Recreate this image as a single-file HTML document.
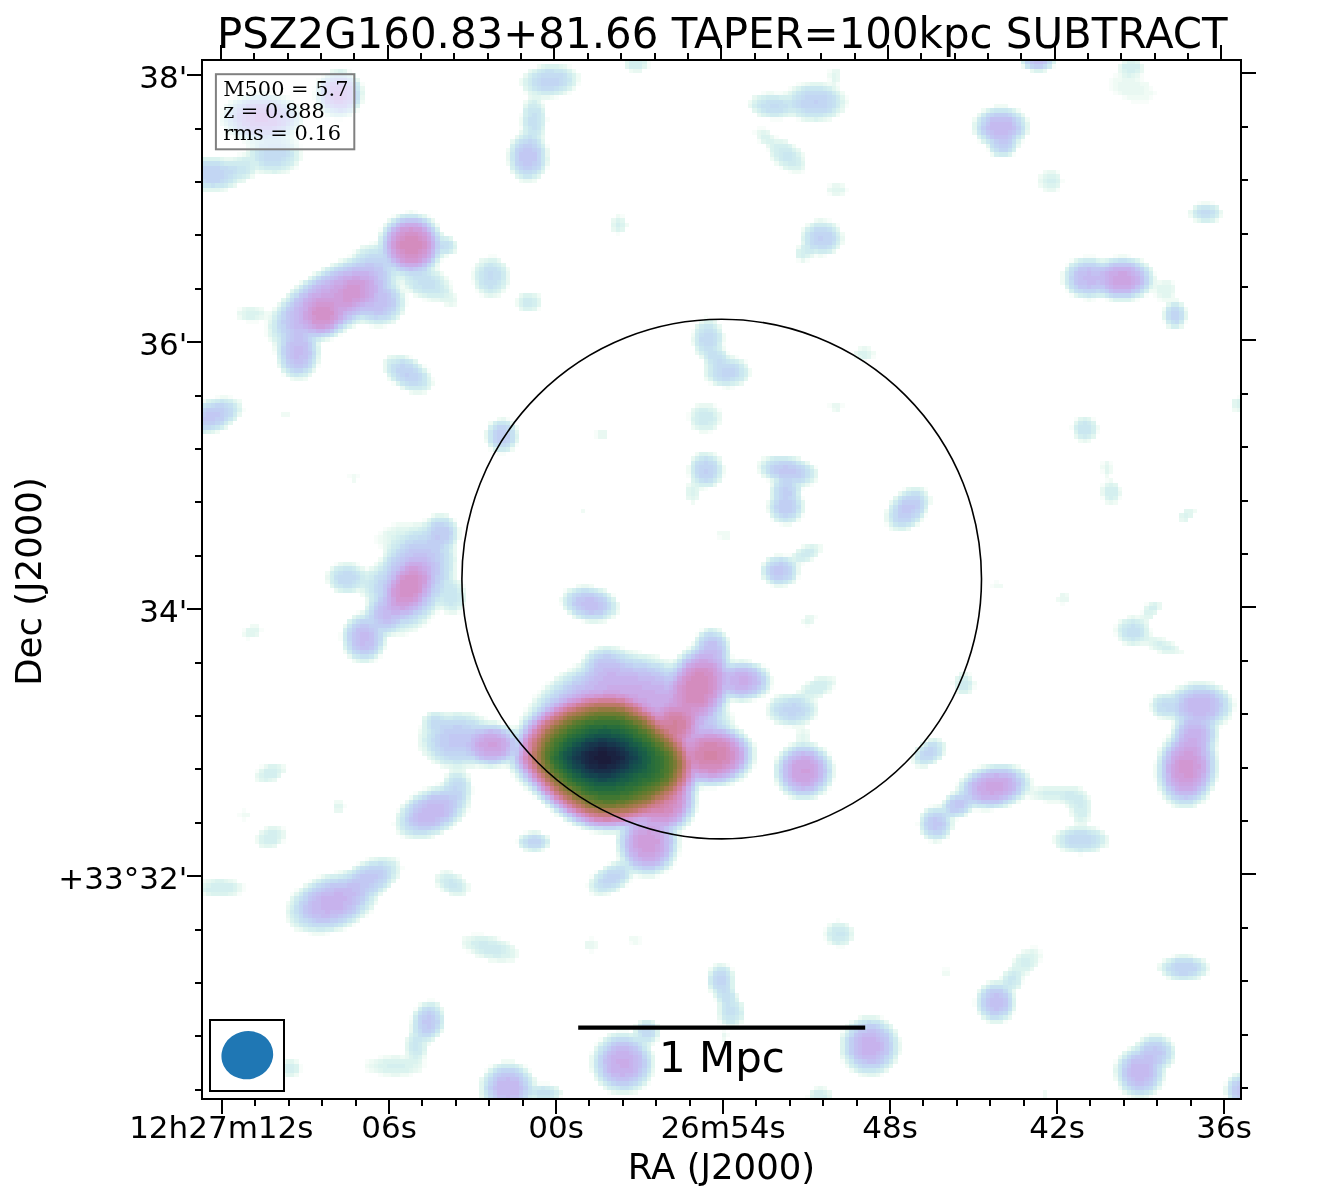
<!DOCTYPE html>
<html lang="en"><head><meta charset="utf-8"><title>PSZ2G160.83+81.66 TAPER=100kpc SUBTRACT</title>
<style>html,body{margin:0;padding:0;background:#fff}body{width:1321px;height:1200px;overflow:hidden}svg{display:block}text{fill:#000}
.t{font-family:'DejaVu Sans','Liberation Sans',sans-serif;font-size:41.92px}.k{font-family:'DejaVu Sans','Liberation Sans',sans-serif;font-size:31.0px}.a{font-family:'DejaVu Sans','Liberation Sans',sans-serif;font-size:35.5px}.b{font-family:'DejaVu Serif','Liberation Serif',serif;font-size:20.9px}</style></head><body>
<svg width="1321" height="1200" viewBox="0 0 1321 1200">
<rect width="1321" height="1200" fill="#fff"/>
<g transform="translate(202 60) scale(4.402542)" shape-rendering="crispEdges">
<path fill="#f8fdfa" d="M101 0h1v1h-1zM83 1h1v1h-1zM101 1h1v1h-1zM193 1h1v1h-1zM33 2h1v1h-1zM142 2h1v1h-1zM207 3h1v1h-1zM213 3h1v1h-1zM142 4h1v1h-1zM206 4h1v1h-1zM213 4h1v1h-1zM36 5h1v1h-1zM85 5h1v1h-1zM135 5h1v1h-1zM144 5h1v1h-1zM206 5h1v1h-1zM25 6h1v1h-1zM133 6h1v1h-1zM206 6h1v1h-1zM215 6h1v1h-1zM10 7h1v1h-1zM16 7h1v1h-1zM73 7h1v1h-1zM83 7h1v1h-1zM127 7h1v1h-1zM130 7h2v1h-2zM207 7h1v1h-1zM216 7h1v1h-1zM7 8h1v1h-1zM80 8h1v1h-1zM146 8h1v1h-1zM209 8h1v1h-1zM215 8h1v1h-1zM77 9h1v1h-1zM211 9h4v1h-4zM146 10h1v1h-1zM35 11h1v1h-1zM72 12h1v1h-1zM30 13h2v1h-2zM78 13h1v1h-1zM129 13h3v1h-3zM135 13h1v1h-1zM72 15h1v1h-1zM126 15h2v1h-2zM5 16h1v1h-1zM125 16h1v1h-1zM21 17h1v1h-1zM130 17h1v1h-1zM126 18h1v1h-1zM176 18h1v1h-1zM186 18h1v1h-1zM22 19h1v1h-1zM78 19h1v1h-1zM128 20h1v1h-1zM178 20h1v1h-1zM8 21h1v1h-1zM184 21h1v1h-1zM21 24h1v1h-1zM78 24h1v1h-1zM131 24h1v1h-1zM133 25h1v1h-1zM136 25h1v1h-1zM194 25h1v1h-1zM195 27h1v1h-1zM142 28h1v1h-1zM146 29h1v1h-1zM194 29h1v1h-1zM142 30h1v1h-1zM226 32h1v1h-1zM229 32h1v1h-1zM46 34h1v1h-1zM48 34h1v1h-1zM43 35h1v1h-1zM51 35h1v1h-1zM95 35h1v1h-1zM142 36h1v1h-1zM144 37h1v1h-1zM40 38h1v1h-1zM94 39h1v1h-1zM38 41h1v1h-1zM34 43h1v1h-1zM33 44h1v1h-1zM65 44h2v1h-2zM139 44h1v1h-1zM141 44h1v1h-1zM200 44h3v1h-3zM207 44h1v1h-1zM210 44h1v1h-1zM54 45h1v1h-1zM135 45h1v1h-1zM137 45h1v1h-1zM197 45h1v1h-1zM196 46h1v1h-1zM61 47h1v1h-1zM216 48h1v1h-1zM56 50h1v1h-1zM61 50h1v1h-1zM220 50h1v1h-1zM69 51h1v1h-1zM62 52h1v1h-1zM196 52h1v1h-1zM46 53h1v1h-1zM63 53h1v1h-1zM197 53h1v1h-1zM214 53h1v1h-1zM216 53h1v1h-1zM46 54h1v1h-1zM50 54h1v1h-1zM200 54h1v1h-1zM202 54h1v1h-1zM205 54h1v1h-1zM212 54h1v1h-1zM217 54h1v1h-1zM46 55h1v1h-1zM8 56h1v1h-1zM76 56h1v1h-1zM114 58h1v1h-1zM10 59h3v1h-3zM14 59h1v1h-1zM218 59h1v1h-1zM223 59h1v1h-1zM14 60h1v1h-1zM38 60h1v1h-1zM41 60h1v1h-1zM14 61h1v1h-1zM111 61h1v1h-1zM14 62h1v1h-1zM31 62h1v1h-1zM29 63h1v1h-1zM118 64h1v1h-1zM16 66h1v1h-1zM119 66h1v1h-1zM47 67h1v1h-1zM121 67h1v1h-1zM152 67h1v1h-1zM123 68h1v1h-1zM150 68h1v1h-1zM26 69h1v1h-1zM50 69h1v1h-1zM51 70h1v1h-1zM18 71h1v1h-1zM52 72h1v1h-1zM43 73h1v1h-1zM115 73h1v1h-1zM118 74h1v1h-1zM120 74h1v1h-1zM3 76h1v1h-1zM6 76h1v1h-1zM235 76h1v1h-1zM116 78h1v1h-1zM142 78h1v1h-1zM145 78h1v1h-1zM9 79h1v1h-1zM117 79h1v1h-1zM110 80h1v1h-1zM69 81h1v1h-1zM110 81h1v1h-1zM198 81h1v1h-1zM202 81h1v1h-1zM197 83h1v1h-1zM89 84h1v1h-1zM115 84h1v1h-1zM203 84h1v1h-1zM89 85h1v1h-1zM71 87h1v1h-1zM65 88h1v1h-1zM67 89h2v1h-2zM204 91h1v1h-1zM206 91h1v1h-1zM139 92h1v1h-1zM204 93h1v1h-1zM33 94h1v1h-1zM35 94h1v1h-1zM110 94h1v1h-1zM118 94h1v1h-1zM128 95h1v1h-1zM205 95h1v1h-1zM138 96h1v1h-1zM204 96h1v1h-1zM114 97h1v1h-1zM136 97h1v1h-1zM159 97h1v1h-1zM164 97h1v1h-1zM136 99h1v1h-1zM204 99h1v1h-1zM208 99h1v1h-1zM136 103h1v1h-1zM164 103h1v1h-1zM50 104h1v1h-1zM57 104h1v1h-1zM129 104h1v1h-1zM43 105h1v1h-1zM131 105h1v1h-1zM155 105h1v1h-1zM41 106h1v1h-1zM40 107h1v1h-1zM39 108h1v1h-1zM117 108h1v1h-1zM39 109h1v1h-1zM40 110h1v1h-1zM132 112h2v1h-2zM30 114h1v1h-1zM35 114h1v1h-1zM136 114h1v1h-1zM37 115h1v1h-1zM135 117h1v1h-1zM180 118h1v1h-1zM59 119h1v1h-1zM129 119h1v1h-1zM179 119h1v1h-1zM82 120h1v1h-1zM93 121h1v1h-1zM81 123h1v1h-1zM195 123h1v1h-1zM214 123h1v1h-1zM35 125h1v1h-1zM53 125h1v1h-1zM58 125h1v1h-1zM213 125h1v1h-1zM52 126h1v1h-1zM139 126h1v1h-1zM51 127h1v1h-1zM86 127h1v1h-1zM50 128h1v1h-1zM137 128h1v1h-1zM207 128h1v1h-1zM9 129h1v1h-1zM13 129h1v1h-1zM113 129h1v1h-1zM215 129h1v1h-1zM31 130h1v1h-1zM46 130h1v1h-1zM112 130h1v1h-1zM207 130h1v1h-1zM10 131h1v1h-1zM31 131h1v1h-1zM95 133h1v1h-1zM87 134h1v1h-1zM99 134h1v1h-1zM40 135h1v1h-1zM86 135h1v1h-1zM120 135h1v1h-1zM39 136h1v1h-1zM84 137h1v1h-1zM127 137h1v1h-1zM174 139h1v1h-1zM78 141h1v1h-1zM170 141h1v1h-1zM223 141h1v1h-1zM77 142h1v1h-1zM129 142h1v1h-1zM143 142h1v1h-1zM175 142h1v1h-1zM76 143h1v1h-1zM219 143h1v1h-1zM75 144h1v1h-1zM125 145h1v1h-1zM215 145h1v1h-1zM234 145h1v1h-1zM73 147h1v1h-1zM234 147h1v1h-1zM62 148h1v1h-1zM120 148h1v1h-1zM64 149h1v1h-1zM128 149h1v1h-1zM139 149h1v1h-1zM49 151h1v1h-1zM132 151h2v1h-2zM231 151h1v1h-1zM164 154h1v1h-1zM218 154h1v1h-1zM142 157h1v1h-1zM161 157h1v1h-1zM143 159h1v1h-1zM216 159h1v1h-1zM13 160h1v1h-1zM125 160h1v1h-1zM176 160h1v1h-1zM12 161h1v1h-1zM174 161h1v1h-1zM187 161h1v1h-1zM70 162h1v1h-1zM143 163h1v1h-1zM216 163h1v1h-1zM53 164h1v1h-1zM171 164h1v1h-1zM50 165h1v1h-1zM61 165h1v1h-1zM114 165h3v1h-3zM142 165h1v1h-1zM48 166h1v1h-1zM61 166h1v1h-1zM74 166h1v1h-1zM217 166h1v1h-1zM75 167h1v1h-1zM187 167h1v1h-1zM191 168h1v1h-1zM32 169h1v1h-1zM165 169h1v1h-1zM9 170h1v1h-1zM44 170h1v1h-1zM60 170h1v1h-1zM175 170h2v1h-2zM179 170h1v1h-1zM8 171h1v1h-1zM9 172h1v1h-1zM171 172h1v1h-1zM43 173h1v1h-1zM83 173h1v1h-1zM162 173h1v1h-1zM18 174h1v1h-1zM85 174h1v1h-1zM203 174h1v1h-1zM73 175h1v1h-1zM88 175h1v1h-1zM45 176h1v1h-1zM18 177h1v1h-1zM71 177h1v1h-1zM165 177h1v1h-1zM108 180h1v1h-1zM199 180h1v1h-1zM37 181h1v1h-1zM44 181h1v1h-1zM35 182h1v1h-1zM92 182h1v1h-1zM107 182h1v1h-1zM45 183h1v1h-1zM30 184h1v1h-1zM89 184h1v1h-1zM105 184h1v1h-1zM26 185h1v1h-1zM88 185h1v1h-1zM98 185h1v1h-1zM103 185h1v1h-1zM24 186h1v1h-1zM97 186h1v1h-1zM9 187h1v1h-1zM87 187h1v1h-1zM96 187h1v1h-1zM9 188h1v1h-1zM21 188h1v1h-1zM8 189h1v1h-1zM20 189h1v1h-1zM88 189h1v1h-1zM38 193h1v1h-1zM37 194h1v1h-1zM144 195h1v1h-1zM34 196h1v1h-1zM32 197h1v1h-1zM141 197h1v1h-1zM24 198h1v1h-1zM28 198h1v1h-1zM61 198h3v1h-3zM67 199h1v1h-1zM88 199h1v1h-1zM99 199h1v1h-1zM141 199h1v1h-1zM97 200h1v1h-1zM99 200h1v1h-1zM144 201h2v1h-2zM188 201h2v1h-2zM60 202h1v1h-1zM88 202h1v1h-1zM190 202h1v1h-1zM220 203h1v1h-1zM225 203h1v1h-1zM190 204h1v1h-1zM119 205h1v1h-1zM120 206h1v1h-1zM168 206h2v1h-2zM228 207h1v1h-1zM186 209h1v1h-1zM51 213h2v1h-2zM116 213h1v1h-1zM175 213h1v1h-1zM175 214h1v1h-1zM48 215h1v1h-1zM184 216h1v1h-1zM47 217h1v1h-1zM154 217h1v1h-1zM117 218h1v1h-1zM182 218h1v1h-1zM118 219h1v1h-1zM94 220h3v1h-3zM118 220h1v1h-1zM145 220h1v1h-1zM119 221h1v1h-1zM214 221h1v1h-1zM218 221h1v1h-1zM90 222h1v1h-1zM89 223h1v1h-1zM88 225h1v1h-1zM40 226h1v1h-1zM37 227h1v1h-1zM50 227h1v1h-1zM145 227h1v1h-1zM207 227h1v1h-1zM17 228h1v1h-1zM22 228h1v1h-1zM50 228h1v1h-1zM65 228h1v1h-1zM73 228h1v1h-1zM17 229h1v1h-1zM22 229h1v1h-1zM37 229h1v1h-1zM64 229h1v1h-1zM74 229h1v1h-1zM40 230h1v1h-1zM47 230h1v1h-1zM154 230h1v1h-1zM76 232h3v1h-3zM101 232h1v1h-1zM218 232h1v1h-1zM232 232h1v1h-1zM100 233h1v1h-1zM92 234h1v1h-1zM81 235h1v1h-1zM137 235h1v1h-1zM210 235h1v1h-1zM215 235h1v1h-1zM232 235h1v1h-1z"/>
<path fill="#f0fbf5" d="M76 1h1v1h-1zM186 1h1v1h-1zM84 2h1v1h-1zM97 2h1v1h-1zM27 3h1v1h-1zM85 3h1v1h-1zM142 3h1v1h-1zM208 3h1v1h-1zM26 4h1v1h-1zM72 4h1v1h-1zM85 4h1v1h-1zM207 4h2v1h-2zM212 4h1v1h-1zM72 5h1v1h-1zM136 5h1v1h-1zM142 5h1v1h-1zM207 5h1v1h-1zM213 5h2v1h-2zM84 6h1v1h-1zM144 6h1v1h-1zM207 6h1v1h-1zM214 6h1v1h-1zM11 7h1v1h-1zM15 7h1v1h-1zM25 7h1v1h-1zM128 7h2v1h-2zM132 7h1v1h-1zM145 7h1v1h-1zM208 7h1v1h-1zM214 7h2v1h-2zM19 8h1v1h-1zM25 8h1v1h-1zM79 8h1v1h-1zM210 8h5v1h-5zM36 9h1v1h-1zM73 9h1v1h-1zM124 9h1v1h-1zM146 9h1v1h-1zM180 10h3v1h-3zM4 11h1v1h-1zM177 11h1v1h-1zM185 11h1v1h-1zM144 12h1v1h-1zM72 13h1v1h-1zM142 13h1v1h-1zM175 13h1v1h-1zM187 13h1v1h-1zM72 14h1v1h-1zM22 15h1v1h-1zM21 16h1v1h-1zM9 18h1v1h-1zM134 19h1v1h-1zM22 20h1v1h-1zM69 20h1v1h-1zM9 21h1v1h-1zM22 21h1v1h-1zM136 21h1v1h-1zM179 21h1v1h-1zM22 22h1v1h-1zM129 22h1v1h-1zM69 23h1v1h-1zM130 23h1v1h-1zM12 25h1v1h-1zM19 25h1v1h-1zM134 25h2v1h-2zM191 25h1v1h-1zM11 26h1v1h-1zM190 26h1v1h-1zM72 27h1v1h-1zM75 27h1v1h-1zM145 28h1v1h-1zM190 28h1v1h-1zM5 29h1v1h-1zM191 29h1v1h-1zM145 30h1v1h-1zM227 32h2v1h-2zM47 34h1v1h-1zM94 35h1v1h-1zM224 35h1v1h-1zM231 35h1v1h-1zM139 36h1v1h-1zM141 36h1v1h-1zM225 36h1v1h-1zM230 36h1v1h-1zM53 37h1v1h-1zM96 37h1v1h-1zM137 37h1v1h-1zM136 38h1v1h-1zM145 39h1v1h-1zM39 41h1v1h-1zM145 41h1v1h-1zM135 42h1v1h-1zM55 44h1v1h-1zM140 44h1v1h-1zM208 44h2v1h-2zM31 45h1v1h-1zM213 45h1v1h-1zM53 47h1v1h-1zM69 47h1v1h-1zM25 48h1v1h-1zM54 48h1v1h-1zM61 48h1v1h-1zM195 48h1v1h-1zM55 49h1v1h-1zM61 49h1v1h-1zM195 49h1v1h-1zM22 50h1v1h-1zM195 50h1v1h-1zM217 50h1v1h-1zM45 51h1v1h-1zM56 51h1v1h-1zM46 52h1v1h-1zM68 52h1v1h-1zM215 52h2v1h-2zM48 53h1v1h-1zM57 53h1v1h-1zM67 53h1v1h-1zM76 53h1v1h-1zM220 53h1v1h-1zM51 54h1v1h-1zM71 54h1v1h-1zM201 54h1v1h-1zM218 54h4v1h-4zM55 55h1v1h-1zM57 55h1v1h-1zM71 55h1v1h-1zM13 56h1v1h-1zM16 56h1v1h-1zM218 56h1v1h-1zM223 56h1v1h-1zM14 57h2v1h-2zM8 58h1v1h-1zM14 58h1v1h-1zM34 60h1v1h-1zM39 60h2v1h-2zM111 62h1v1h-1zM118 62h1v1h-1zM15 63h1v1h-1zM118 63h1v1h-1zM111 64h1v1h-1zM16 65h1v1h-1zM118 65h1v1h-1zM149 65h1v1h-1zM151 65h1v1h-1zM152 66h1v1h-1zM148 67h1v1h-1zM124 70h1v1h-1zM124 71h1v1h-1zM20 72h1v1h-1zM23 72h1v1h-1zM42 72h1v1h-1zM114 72h1v1h-1zM52 73h1v1h-1zM119 74h1v1h-1zM47 75h1v1h-1zM50 75h1v1h-1zM4 76h2v1h-2zM0 77h1v1h-1zM8 77h1v1h-1zM112 78h1v1h-1zM143 79h1v1h-1zM234 79h1v1h-1zM18 80h2v1h-2zM67 81h1v1h-1zM65 82h1v1h-1zM117 82h1v1h-1zM71 83h1v1h-1zM111 83h1v1h-1zM203 83h1v1h-1zM3 84h1v1h-1zM113 84h2v1h-2zM64 86h1v1h-1zM199 86h1v1h-1zM201 86h1v1h-1zM70 88h1v1h-1zM112 89h1v1h-1zM116 89h1v1h-1zM127 90h1v1h-1zM126 91h1v1h-1zM110 92h1v1h-1zM118 92h1v1h-1zM204 92h1v1h-1zM206 92h1v1h-1zM110 93h1v1h-1zM118 93h1v1h-1zM126 93h1v1h-1zM206 93h1v1h-1zM34 94h1v1h-1zM205 94h1v1h-1zM34 95h1v1h-1zM139 95h1v1h-1zM206 95h1v1h-1zM110 96h1v1h-1zM113 97h1v1h-1zM208 97h1v1h-1zM165 99h1v1h-1zM111 100h1v1h-1zM128 100h1v1h-1zM165 100h1v1h-1zM205 100h1v1h-1zM207 100h1v1h-1zM86 102h1v1h-1zM128 102h1v1h-1zM155 102h1v1h-1zM225 102h1v1h-1zM52 103h1v1h-1zM135 104h1v1h-1zM163 104h1v1h-1zM44 105h4v1h-4zM132 105h2v1h-2zM162 105h1v1h-1zM42 106h1v1h-1zM58 106h1v1h-1zM156 106h1v1h-1zM58 107h1v1h-1zM117 107h3v1h-3zM40 108h1v1h-1zM58 108h1v1h-1zM118 108h2v1h-2zM40 109h1v1h-1zM136 110h1v1h-1zM140 110h1v1h-1zM140 111h1v1h-1zM130 112h2v1h-2zM40 113h1v1h-1zM138 113h1v1h-1zM39 114h1v1h-1zM28 116h1v1h-1zM28 118h1v1h-1zM85 119h1v1h-1zM88 119h1v1h-1zM132 119h1v1h-1zM180 119h2v1h-2zM36 121h1v1h-1zM196 121h1v1h-1zM81 122h1v1h-1zM194 122h1v1h-1zM59 123h1v1h-1zM55 125h1v1h-1zM94 125h1v1h-1zM93 126h1v1h-1zM210 126h1v1h-1zM212 126h1v1h-1zM91 127h1v1h-1zM136 127h1v1h-1zM208 127h1v1h-1zM11 128h2v1h-2zM48 129h1v1h-1zM207 129h1v1h-1zM9 130h1v1h-1zM44 130h2v1h-2zM215 130h1v1h-1zM218 131h1v1h-1zM111 132h1v1h-1zM209 132h1v1h-1zM220 132h1v1h-1zM41 133h1v1h-1zM89 133h1v1h-1zM110 133h1v1h-1zM215 133h1v1h-1zM32 134h1v1h-1zM98 134h1v1h-1zM217 134h1v1h-1zM222 134h1v1h-1zM103 135h1v1h-1zM34 136h1v1h-1zM106 136h1v1h-1zM124 136h1v1h-1zM83 138h1v1h-1zM128 138h1v1h-1zM81 139h1v1h-1zM129 140h1v1h-1zM143 140h1v1h-1zM129 141h1v1h-1zM137 141h1v1h-1zM175 141h1v1h-1zM229 141h1v1h-1zM221 142h1v1h-1zM135 143h1v1h-1zM142 143h1v1h-1zM171 143h1v1h-1zM127 144h1v1h-1zM130 144h1v1h-1zM216 144h1v1h-1zM139 145h1v1h-1zM74 146h1v1h-1zM128 146h1v1h-1zM234 146h1v1h-1zM215 147h1v1h-1zM72 149h1v1h-1zM120 149h1v1h-1zM217 149h1v1h-1zM233 149h1v1h-1zM67 150h1v1h-1zM220 150h1v1h-1zM232 150h1v1h-1zM70 151h1v1h-1zM121 151h1v1h-1zM134 151h3v1h-3zM49 152h1v1h-1zM135 152h1v1h-1zM137 152h1v1h-1zM219 153h1v1h-1zM125 155h1v1h-1zM133 155h1v1h-1zM49 156h1v1h-1zM141 156h1v1h-1zM217 156h1v1h-1zM230 156h1v1h-1zM130 158h1v1h-1zM52 159h1v1h-1zM161 159h1v1h-1zM18 160h1v1h-1zM54 160h1v1h-1zM62 160h1v1h-1zM68 160h1v1h-1zM162 160h1v1h-1zM185 160h1v1h-1zM216 160h1v1h-1zM216 161h1v1h-1zM55 162h1v1h-1zM60 162h1v1h-1zM216 162h1v1h-1zM12 163h1v1h-1zM71 163h1v1h-1zM122 163h1v1h-1zM188 163h1v1h-1zM230 163h1v1h-1zM72 164h1v1h-1zM120 164h1v1h-1zM130 164h1v1h-1zM188 164h1v1h-1zM73 165h1v1h-1zM113 165h1v1h-1zM189 165h1v1h-1zM199 165h1v1h-1zM141 166h1v1h-1zM47 167h1v1h-1zM133 167h1v1h-1zM188 167h1v1h-1zM201 167h1v1h-1zM228 167h1v1h-1zM30 168h2v1h-2zM185 168h1v1h-1zM192 168h3v1h-3zM227 168h1v1h-1zM166 169h1v1h-1zM183 169h1v1h-1zM196 169h1v1h-1zM220 169h1v1h-1zM112 170h1v1h-1zM177 170h2v1h-2zM9 171h2v1h-2zM80 171h1v1h-1zM197 171h1v1h-1zM111 172h1v1h-1zM201 172h1v1h-1zM198 173h1v1h-1zM14 174h1v1h-1zM56 174h1v1h-1zM196 174h1v1h-1zM44 175h1v1h-1zM89 175h1v1h-1zM194 175h1v1h-1zM12 176h1v1h-1zM52 176h1v1h-1zM169 176h1v1h-1zM193 176h1v1h-1zM12 177h1v1h-1zM167 177h1v1h-1zM193 177h1v1h-1zM205 178h1v1h-1zM77 179h1v1h-1zM108 179h1v1h-1zM195 179h1v1h-1zM94 181h1v1h-1zM106 183h1v1h-1zM31 184h1v1h-1zM54 184h1v1h-1zM56 184h1v1h-1zM99 185h1v1h-1zM0 186h1v1h-1zM7 186h1v1h-1zM53 187h1v1h-1zM60 187h1v1h-1zM54 188h1v1h-1zM60 188h1v1h-1zM0 189h1v1h-1zM92 189h1v1h-1zM19 191h1v1h-1zM39 191h1v1h-1zM19 195h1v1h-1zM142 196h1v1h-1zM21 197h1v1h-1zM25 198h3v1h-3zM141 198h1v1h-1zM59 199h1v1h-1zM97 199h2v1h-2zM69 200h1v1h-1zM89 200h1v1h-1zM98 200h1v1h-1zM142 200h1v1h-1zM59 201h1v1h-1zM89 201h1v1h-1zM71 202h1v1h-1zM186 202h1v1h-1zM62 203h1v1h-1zM71 203h1v1h-1zM190 203h1v1h-1zM65 204h2v1h-2zM69 204h2v1h-2zM184 204h1v1h-1zM218 204h1v1h-1zM116 205h1v1h-1zM217 205h1v1h-1zM228 205h1v1h-1zM115 206h1v1h-1zM168 207h2v1h-2zM187 207h1v1h-1zM181 208h1v1h-1zM186 208h1v1h-1zM219 208h1v1h-1zM178 209h1v1h-1zM115 211h1v1h-1zM49 214h1v1h-1zM149 217h1v1h-1zM47 218h1v1h-1zM122 218h1v1h-1zM147 218h1v1h-1zM178 218h1v1h-1zM98 219h1v1h-1zM121 219h1v1h-1zM146 219h1v1h-1zM103 222h1v1h-1zM118 222h1v1h-1zM158 222h1v1h-1zM51 223h1v1h-1zM102 223h1v1h-1zM220 223h1v1h-1zM210 224h1v1h-1zM102 225h1v1h-1zM158 225h1v1h-1zM41 226h2v1h-2zM45 226h1v1h-1zM50 226h1v1h-1zM18 227h1v1h-1zM21 227h1v1h-1zM38 227h1v1h-1zM68 227h3v1h-3zM37 228h1v1h-1zM146 228h1v1h-1zM38 229h1v1h-1zM49 229h1v1h-1zM88 229h1v1h-1zM147 229h1v1h-1zM18 230h1v1h-1zM21 230h1v1h-1zM41 230h2v1h-2zM45 230h2v1h-2zM102 230h1v1h-1zM149 230h1v1h-1zM207 231h1v1h-1zM139 233h1v1h-1zM141 233h1v1h-1zM208 233h1v1h-1zM98 234h1v1h-1zM191 234h1v1h-1zM191 235h1v1h-1z"/>
<path fill="#e9f8f2" d="M209 0h1v1h-1zM82 1h1v1h-1zM208 1h1v1h-1zM213 1h1v1h-1zM29 2h1v1h-1zM74 2h1v1h-1zM98 2h2v1h-2zM143 2h2v1h-2zM188 2h1v1h-1zM191 2h1v1h-1zM208 2h1v1h-1zM213 2h1v1h-1zM73 3h1v1h-1zM144 3h1v1h-1zM212 3h1v1h-1zM35 4h1v1h-1zM144 4h1v1h-1zM209 4h3v1h-3zM137 5h1v1h-1zM141 5h1v1h-1zM143 5h1v1h-1zM208 5h5v1h-5zM36 6h1v1h-1zM134 6h1v1h-1zM208 6h6v1h-6zM12 7h3v1h-3zM82 7h1v1h-1zM209 7h5v1h-5zM8 8h1v1h-1zM36 8h1v1h-1zM74 8h1v1h-1zM77 8h2v1h-2zM125 8h1v1h-1zM6 9h1v1h-1zM5 10h1v1h-1zM77 10h1v1h-1zM124 10h1v1h-1zM22 11h1v1h-1zM145 11h1v1h-1zM4 12h1v1h-1zM28 12h1v1h-1zM126 12h1v1h-1zM176 12h1v1h-1zM186 12h1v1h-1zM136 13h1v1h-1zM141 13h1v1h-1zM4 14h1v1h-1zM72 16h1v1h-1zM126 16h1v1h-1zM128 16h1v1h-1zM175 16h1v1h-1zM187 16h1v1h-1zM7 17h1v1h-1zM71 17h1v1h-1zM77 17h1v1h-1zM126 17h1v1h-1zM129 17h1v1h-1zM21 18h1v1h-1zM70 18h1v1h-1zM132 18h1v1h-1zM10 19h1v1h-1zM128 19h1v1h-1zM185 19h1v1h-1zM10 20h1v1h-1zM78 20h1v1h-1zM135 20h1v1h-1zM69 21h1v1h-1zM78 21h1v1h-1zM5 22h2v1h-2zM69 22h1v1h-1zM136 22h1v1h-1zM21 23h1v1h-1zM78 23h1v1h-1zM20 24h1v1h-1zM136 24h1v1h-1zM13 25h1v1h-1zM18 25h1v1h-1zM70 25h1v1h-1zM192 25h2v1h-2zM9 27h1v1h-1zM73 27h2v1h-2zM190 27h1v1h-1zM7 28h1v1h-1zM143 28h2v1h-2zM4 29h1v1h-1zM142 29h1v1h-1zM192 29h2v1h-2zM143 30h2v1h-2zM224 34h1v1h-1zM231 34h1v1h-1zM42 36h1v1h-1zM52 36h1v1h-1zM93 36h1v1h-1zM140 36h1v1h-1zM41 37h1v1h-1zM93 38h1v1h-1zM145 40h1v1h-1zM36 42h1v1h-1zM57 43h1v1h-1zM143 43h1v1h-1zM138 44h1v1h-1zM63 45h1v1h-1zM67 45h1v1h-1zM136 45h1v1h-1zM29 46h1v1h-1zM53 46h1v1h-1zM62 46h1v1h-1zM27 47h1v1h-1zM69 48h1v1h-1zM69 49h1v1h-1zM216 49h1v1h-1zM45 50h1v1h-1zM69 50h1v1h-1zM216 50h1v1h-1zM218 50h2v1h-2zM21 51h1v1h-1zM216 51h1v1h-1zM220 51h1v1h-1zM45 52h1v1h-1zM47 52h1v1h-1zM56 52h1v1h-1zM220 52h1v1h-1zM64 53h1v1h-1zM66 53h1v1h-1zM72 53h1v1h-1zM217 53h1v1h-1zM52 54h2v1h-2zM57 54h1v1h-1zM206 54h1v1h-1zM211 54h1v1h-1zM17 55h1v1h-1zM56 55h1v1h-1zM9 56h1v1h-1zM12 56h1v1h-1zM72 56h1v1h-1zM8 57h1v1h-1zM45 57h1v1h-1zM13 58h1v1h-1zM15 58h1v1h-1zM43 59h1v1h-1zM113 59h1v1h-1zM116 59h1v1h-1zM117 60h1v1h-1zM219 60h1v1h-1zM222 60h1v1h-1zM32 61h1v1h-1zM28 63h1v1h-1zM111 63h1v1h-1zM16 64h1v1h-1zM150 65h1v1h-1zM112 66h1v1h-1zM148 66h1v1h-1zM42 67h1v1h-1zM46 67h1v1h-1zM113 67h1v1h-1zM120 67h1v1h-1zM26 68h1v1h-1zM41 68h1v1h-1zM17 69h1v1h-1zM41 69h1v1h-1zM25 70h1v1h-1zM41 70h1v1h-1zM24 71h1v1h-1zM21 72h2v1h-2zM122 73h1v1h-1zM45 74h1v1h-1zM48 75h2v1h-2zM113 78h3v1h-3zM143 78h2v1h-2zM111 79h1v1h-1zM144 79h1v1h-1zM235 79h1v1h-1zM8 80h1v1h-1zM117 80h1v1h-1zM68 81h1v1h-1zM117 81h1v1h-1zM70 82h1v1h-1zM5 83h1v1h-1zM116 83h1v1h-1zM64 84h1v1h-1zM90 84h2v1h-2zM64 85h1v1h-1zM90 85h2v1h-2zM198 85h1v1h-1zM200 86h1v1h-1zM111 90h1v1h-1zM117 90h1v1h-1zM135 90h1v1h-1zM137 91h1v1h-1zM205 91h1v1h-1zM126 92h1v1h-1zM127 94h1v1h-1zM116 96h1v1h-1zM129 96h1v1h-1zM137 96h1v1h-1zM204 97h1v1h-1zM158 98h1v1h-1zM204 98h1v1h-1zM208 98h1v1h-1zM110 99h1v1h-1zM112 99h1v1h-1zM156 100h1v1h-1zM206 100h1v1h-1zM128 101h1v1h-1zM55 103h1v1h-1zM155 103h1v1h-1zM155 104h1v1h-1zM222 104h1v1h-1zM48 105h2v1h-2zM43 106h1v1h-1zM160 106h1v1h-1zM41 107h1v1h-1zM41 108h1v1h-1zM41 109h1v1h-1zM41 110h1v1h-1zM57 110h1v1h-1zM41 111h1v1h-1zM57 111h1v1h-1zM57 112h1v1h-1zM31 114h1v1h-1zM34 114h1v1h-1zM57 114h1v1h-1zM127 114h1v1h-1zM135 114h1v1h-1zM29 115h1v1h-1zM36 115h1v1h-1zM38 115h1v1h-1zM57 115h1v1h-1zM135 115h1v1h-1zM57 116h1v1h-1zM135 116h1v1h-1zM28 117h1v1h-1zM57 117h1v1h-1zM58 118h1v1h-1zM134 118h1v1h-1zM86 119h2v1h-2zM130 119h2v1h-2zM30 120h1v1h-1zM35 120h1v1h-1zM59 120h1v1h-1zM91 120h1v1h-1zM195 121h1v1h-1zM37 122h1v1h-1zM195 122h2v1h-2zM37 123h1v1h-1zM94 123h1v1h-1zM217 123h1v1h-1zM54 124h1v1h-1zM94 124h1v1h-1zM217 124h1v1h-1zM36 125h1v1h-1zM56 125h2v1h-2zM84 126h1v1h-1zM137 126h2v1h-2zM211 126h1v1h-1zM213 126h1v1h-1zM87 127h1v1h-1zM90 127h1v1h-1zM138 127h1v1h-1zM214 127h1v1h-1zM32 128h1v1h-1zM49 128h1v1h-1zM47 129h1v1h-1zM117 129h1v1h-1zM12 130h1v1h-1zM43 130h1v1h-1zM119 131h1v1h-1zM208 131h1v1h-1zM217 131h1v1h-1zM213 132h2v1h-2zM94 133h1v1h-1zM221 133h1v1h-1zM97 134h1v1h-1zM221 134h1v1h-1zM33 135h1v1h-1zM102 135h1v1h-1zM38 136h1v1h-1zM105 136h1v1h-1zM121 136h1v1h-1zM123 136h1v1h-1zM85 137h1v1h-1zM172 139h2v1h-2zM80 140h1v1h-1zM139 140h1v1h-1zM142 140h1v1h-1zM79 141h1v1h-1zM143 141h1v1h-1zM224 141h1v1h-1zM228 141h1v1h-1zM136 142h1v1h-1zM231 142h1v1h-1zM128 143h1v1h-1zM174 143h1v1h-1zM220 143h1v1h-1zM76 144h1v1h-1zM140 144h1v1h-1zM233 144h1v1h-1zM75 145h1v1h-1zM120 145h1v1h-1zM124 145h1v1h-1zM129 145h1v1h-1zM139 146h1v1h-1zM215 146h1v1h-1zM119 147h1v1h-1zM128 147h1v1h-1zM61 148h1v1h-1zM73 148h1v1h-1zM128 148h1v1h-1zM139 148h1v1h-1zM63 149h1v1h-1zM218 149h1v1h-1zM120 150h1v1h-1zM130 150h1v1h-1zM137 150h1v1h-1zM71 151h1v1h-1zM220 151h1v1h-1zM136 152h1v1h-1zM49 153h1v1h-1zM135 153h1v1h-1zM137 153h1v1h-1zM49 154h1v1h-1zM135 154h1v1h-1zM137 154h1v1h-1zM167 154h1v1h-1zM49 155h1v1h-1zM139 155h1v1h-1zM230 155h1v1h-1zM50 157h1v1h-1zM168 157h1v1h-1zM230 157h1v1h-1zM51 158h1v1h-1zM161 158h1v1h-1zM125 159h1v1h-1zM14 160h1v1h-1zM55 160h1v1h-1zM60 160h2v1h-2zM63 160h1v1h-1zM67 160h1v1h-1zM69 160h1v1h-1zM143 160h1v1h-1zM163 160h2v1h-2zM177 160h1v1h-1zM18 161h1v1h-1zM56 161h1v1h-1zM59 161h1v1h-1zM124 161h1v1h-1zM143 161h1v1h-1zM12 162h1v1h-1zM123 162h1v1h-1zM143 162h1v1h-1zM173 162h1v1h-1zM16 163h1v1h-1zM172 163h1v1h-1zM54 164h1v1h-1zM51 165h1v1h-1zM171 165h1v1h-1zM188 165h1v1h-1zM190 165h1v1h-1zM229 165h1v1h-1zM170 166h1v1h-1zM188 166h1v1h-1zM200 166h1v1h-1zM139 167h1v1h-1zM189 167h1v1h-1zM218 167h1v1h-1zM46 168h1v1h-1zM195 168h1v1h-1zM219 168h1v1h-1zM45 169h1v1h-1zM60 169h1v1h-1zM112 169h1v1h-1zM167 169h1v1h-1zM225 169h1v1h-1zM30 170h2v1h-2zM79 170h1v1h-1zM197 170h1v1h-1zM59 171h1v1h-1zM173 171h1v1h-1zM201 171h1v1h-1zM57 173h1v1h-1zM199 173h2v1h-2zM17 174h1v1h-1zM109 174h1v1h-1zM170 174h1v1h-1zM202 174h1v1h-1zM13 175h1v1h-1zM18 175h1v1h-1zM54 175h1v1h-1zM74 175h1v1h-1zM76 175h1v1h-1zM90 175h1v1h-1zM108 175h1v1h-1zM204 175h1v1h-1zM18 176h1v1h-1zM46 176h1v1h-1zM78 176h1v1h-1zM108 176h1v1h-1zM205 176h1v1h-1zM108 177h1v1h-1zM166 177h1v1h-1zM205 177h1v1h-1zM13 178h1v1h-1zM16 178h1v1h-1zM108 178h1v1h-1zM73 179h1v1h-1zM203 179h1v1h-1zM94 180h1v1h-1zM38 181h1v1h-1zM43 181h1v1h-1zM44 182h1v1h-1zM55 184h1v1h-1zM27 185h1v1h-1zM44 185h1v1h-1zM53 185h1v1h-1zM58 185h1v1h-1zM100 185h3v1h-3zM1 186h1v1h-1zM6 186h1v1h-1zM59 186h1v1h-1zM8 187h1v1h-1zM23 187h1v1h-1zM8 188h1v1h-1zM94 188h1v1h-1zM7 189h1v1h-1zM40 189h1v1h-1zM56 189h1v1h-1zM59 189h1v1h-1zM89 189h1v1h-1zM91 189h1v1h-1zM19 192h1v1h-1zM19 194h1v1h-1zM35 195h1v1h-1zM20 196h1v1h-1zM146 196h1v1h-1zM22 197h1v1h-1zM31 197h1v1h-1zM147 197h1v1h-1zM60 199h1v1h-1zM66 199h1v1h-1zM147 199h1v1h-1zM59 200h1v1h-1zM87 200h2v1h-2zM70 201h1v1h-1zM87 201h2v1h-2zM61 202h1v1h-1zM187 202h1v1h-1zM189 202h1v1h-1zM63 203h1v1h-1zM185 203h1v1h-1zM221 203h1v1h-1zM224 203h1v1h-1zM67 204h2v1h-2zM227 204h1v1h-1zM118 205h1v1h-1zM189 205h1v1h-1zM183 206h1v1h-1zM188 206h1v1h-1zM217 206h1v1h-1zM228 206h1v1h-1zM226 208h1v1h-1zM176 211h1v1h-1zM184 211h1v1h-1zM121 212h1v1h-1zM54 215h1v1h-1zM176 216h1v1h-1zM117 217h1v1h-1zM153 217h1v1h-1zM183 217h1v1h-1zM99 218h1v1h-1zM155 218h1v1h-1zM47 219h1v1h-1zM103 219h1v1h-1zM119 219h2v1h-2zM47 220h1v1h-1zM54 220h1v1h-1zM157 220h1v1h-1zM92 221h1v1h-1zM118 221h1v1h-1zM145 221h1v1h-1zM215 221h3v1h-3zM46 222h1v1h-1zM213 222h1v1h-1zM219 222h1v1h-1zM158 223h1v1h-1zM158 224h1v1h-1zM46 225h1v1h-1zM43 226h2v1h-2zM46 226h1v1h-1zM88 226h1v1h-1zM145 226h1v1h-1zM208 226h1v1h-1zM39 227h1v1h-1zM88 227h1v1h-1zM157 227h1v1h-1zM220 227h1v1h-1zM38 228h1v1h-1zM49 228h1v1h-1zM88 228h1v1h-1zM207 228h1v1h-1zM39 229h1v1h-1zM48 229h1v1h-1zM102 229h1v1h-1zM155 229h1v1h-1zM43 230h2v1h-2zM150 230h1v1h-1zM153 230h1v1h-1zM207 230h1v1h-1zM234 230h1v1h-1zM63 231h1v1h-1zM75 231h1v1h-1zM89 231h1v1h-1zM218 231h1v1h-1zM91 233h1v1h-1zM140 233h1v1h-1zM217 233h1v1h-1zM232 233h1v1h-1zM81 234h1v1h-1zM93 234h1v1h-1zM97 234h1v1h-1zM142 234h1v1h-1zM209 234h1v1h-1zM216 234h1v1h-1zM232 234h1v1h-1zM63 235h1v1h-1zM211 235h1v1h-1zM214 235h1v1h-1z"/>
<path fill="#e2f6f0" d="M96 0h1v1h-1zM212 0h1v1h-1zM77 1h1v1h-1zM81 1h1v1h-1zM96 1h1v1h-1zM100 1h1v1h-1zM30 2h1v1h-1zM32 2h1v1h-1zM34 3h1v1h-1zM143 3h1v1h-1zM209 3h1v1h-1zM211 3h1v1h-1zM143 4h1v1h-1zM138 5h3v1h-3zM73 6h1v1h-1zM143 6h1v1h-1zM36 7h1v1h-1zM74 7h1v1h-1zM133 7h1v1h-1zM18 8h1v1h-1zM75 8h2v1h-2zM145 8h1v1h-1zM20 9h1v1h-1zM76 9h1v1h-1zM21 10h1v1h-1zM26 10h1v1h-1zM73 10h1v1h-1zM145 10h1v1h-1zM125 11h1v1h-1zM22 12h1v1h-1zM33 12h1v1h-1zM133 12h2v1h-2zM4 13h1v1h-1zM137 13h2v1h-2zM140 13h1v1h-1zM22 14h1v1h-1zM175 14h1v1h-1zM187 14h1v1h-1zM5 15h1v1h-1zM175 15h1v1h-1zM187 15h1v1h-1zM6 16h1v1h-1zM77 16h1v1h-1zM127 16h1v1h-1zM20 17h1v1h-1zM10 18h1v1h-1zM77 18h1v1h-1zM127 18h1v1h-1zM130 18h2v1h-2zM21 19h1v1h-1zM178 19h1v1h-1zM10 21h1v1h-1zM129 21h1v1h-1zM4 22h1v1h-1zM7 22h1v1h-1zM78 22h1v1h-1zM136 23h1v1h-1zM132 24h1v1h-1zM14 25h2v1h-2zM17 25h1v1h-1zM77 25h1v1h-1zM71 26h1v1h-1zM76 26h1v1h-1zM191 26h1v1h-1zM194 26h1v1h-1zM8 27h1v1h-1zM191 28h1v1h-1zM194 28h1v1h-1zM0 29h4v1h-4zM143 29h3v1h-3zM225 33h1v1h-1zM44 35h1v1h-1zM50 35h1v1h-1zM95 36h1v1h-1zM226 36h1v1h-1zM93 37h1v1h-1zM143 37h1v1h-1zM95 38h1v1h-1zM144 38h1v1h-1zM40 39h1v1h-1zM54 39h1v1h-1zM136 39h1v1h-1zM56 40h1v1h-1zM57 41h1v1h-1zM136 41h1v1h-1zM37 42h1v1h-1zM144 42h1v1h-1zM35 43h1v1h-1zM34 44h1v1h-1zM32 45h1v1h-1zM64 45h1v1h-1zM198 45h1v1h-1zM204 45h1v1h-1zM68 46h1v1h-1zM214 46h1v1h-1zM215 47h1v1h-1zM24 49h1v1h-1zM44 50h1v1h-1zM55 50h1v1h-1zM46 51h1v1h-1zM62 51h1v1h-1zM217 51h3v1h-3zM20 52h1v1h-1zM63 52h1v1h-1zM217 52h3v1h-3zM19 53h1v1h-1zM49 53h1v1h-1zM56 53h1v1h-1zM65 53h1v1h-1zM75 53h1v1h-1zM198 53h1v1h-1zM218 53h2v1h-2zM18 54h1v1h-1zM54 54h3v1h-3zM76 54h1v1h-1zM76 55h1v1h-1zM219 55h1v1h-1zM222 55h1v1h-1zM10 56h2v1h-2zM75 56h1v1h-1zM9 57h1v1h-1zM13 57h1v1h-1zM218 57h1v1h-1zM223 57h1v1h-1zM9 58h1v1h-1zM12 58h1v1h-1zM44 58h1v1h-1zM218 58h1v1h-1zM223 58h1v1h-1zM15 59h1v1h-1zM36 59h1v1h-1zM112 60h1v1h-1zM15 61h1v1h-1zM15 62h1v1h-1zM26 64h1v1h-1zM151 66h1v1h-1zM26 67h1v1h-1zM43 67h1v1h-1zM149 67h1v1h-1zM151 67h1v1h-1zM48 68h1v1h-1zM122 68h1v1h-1zM114 69h1v1h-1zM123 69h1v1h-1zM114 70h1v1h-1zM51 71h1v1h-1zM114 71h1v1h-1zM123 72h1v1h-1zM116 73h1v1h-1zM51 74h1v1h-1zM7 77h1v1h-1zM234 77h1v1h-1zM8 78h1v1h-1zM234 78h1v1h-1zM116 79h1v1h-1zM111 80h1v1h-1zM199 81h1v1h-1zM201 81h1v1h-1zM6 82h1v1h-1zM111 82h1v1h-1zM198 82h1v1h-1zM112 83h1v1h-1zM2 84h1v1h-1zM71 84h1v1h-1zM202 85h1v1h-1zM71 86h1v1h-1zM115 89h1v1h-1zM128 90h1v1h-1zM205 92h1v1h-1zM139 93h1v1h-1zM205 93h1v1h-1zM139 94h1v1h-1zM117 95h1v1h-1zM129 95h1v1h-1zM111 96h1v1h-1zM205 96h1v1h-1zM207 96h1v1h-1zM110 97h1v1h-1zM112 97h1v1h-1zM160 97h1v1h-1zM163 97h1v1h-1zM110 98h1v1h-1zM112 98h1v1h-1zM164 98h1v1h-1zM111 99h1v1h-1zM157 99h1v1h-1zM136 100h1v1h-1zM136 101h1v1h-1zM136 102h1v1h-1zM164 102h1v1h-1zM223 102h2v1h-2zM53 103h2v1h-2zM222 103h1v1h-1zM224 103h1v1h-1zM51 104h1v1h-1zM223 104h1v1h-1zM44 106h3v1h-3zM157 106h1v1h-1zM42 107h2v1h-2zM42 108h1v1h-1zM42 109h1v1h-1zM137 110h1v1h-1zM139 110h1v1h-1zM135 111h1v1h-1zM41 112h1v1h-1zM134 112h1v1h-1zM139 112h1v1h-1zM57 113h1v1h-1zM128 113h1v1h-1zM32 114h2v1h-2zM127 117h1v1h-1zM128 118h1v1h-1zM29 119h1v1h-1zM36 120h1v1h-1zM83 120h1v1h-1zM59 121h1v1h-1zM82 121h1v1h-1zM59 122h1v1h-1zM215 123h1v1h-1zM53 124h1v1h-1zM58 124h1v1h-1zM82 124h1v1h-1zM214 124h1v1h-1zM52 125h1v1h-1zM83 125h1v1h-1zM216 125h1v1h-1zM34 126h1v1h-1zM51 126h1v1h-1zM214 126h2v1h-2zM50 127h1v1h-1zM88 127h2v1h-2zM137 127h1v1h-1zM214 128h1v1h-1zM10 129h3v1h-3zM46 129h1v1h-1zM114 129h1v1h-1zM10 130h2v1h-2zM118 130h1v1h-1zM215 131h2v1h-2zM41 132h1v1h-1zM210 132h1v1h-1zM212 132h1v1h-1zM215 132h1v1h-1zM219 132h1v1h-1zM90 133h1v1h-1zM93 133h1v1h-1zM216 133h1v1h-1zM96 134h1v1h-1zM109 134h1v1h-1zM218 134h3v1h-3zM101 135h1v1h-1zM108 135h1v1h-1zM35 136h1v1h-1zM86 136h1v1h-1zM104 136h1v1h-1zM107 136h1v1h-1zM120 136h1v1h-1zM122 136h1v1h-1zM84 138h1v1h-1zM82 139h1v1h-1zM140 140h2v1h-2zM171 140h1v1h-1zM174 140h1v1h-1zM225 141h3v1h-3zM78 142h1v1h-1zM142 142h1v1h-1zM222 142h1v1h-1zM77 143h1v1h-1zM136 143h1v1h-1zM141 143h1v1h-1zM232 143h1v1h-1zM131 144h1v1h-1zM139 144h1v1h-1zM121 145h1v1h-1zM123 145h1v1h-1zM138 145h1v1h-1zM119 146h1v1h-1zM74 147h1v1h-1zM139 147h1v1h-1zM51 148h1v1h-1zM55 148h2v1h-2zM59 148h2v1h-2zM119 148h1v1h-1zM216 148h1v1h-1zM233 148h1v1h-1zM50 149h1v1h-1zM129 149h1v1h-1zM138 149h1v1h-1zM219 149h1v1h-1zM65 150h2v1h-2zM72 150h1v1h-1zM122 152h1v1h-1zM123 153h1v1h-1zM136 153h1v1h-1zM124 154h1v1h-1zM136 154h1v1h-1zM165 154h1v1h-1zM230 154h1v1h-1zM134 155h1v1h-1zM163 155h1v1h-1zM168 155h1v1h-1zM218 155h1v1h-1zM50 156h1v1h-1zM125 156h1v1h-1zM132 156h1v1h-1zM162 156h1v1h-1zM168 156h1v1h-1zM125 157h1v1h-1zM131 157h1v1h-1zM217 157h1v1h-1zM125 158h1v1h-1zM230 158h1v1h-1zM53 159h1v1h-1zM130 159h1v1h-1zM166 159h1v1h-1zM17 160h1v1h-1zM56 160h1v1h-1zM59 160h1v1h-1zM64 160h1v1h-1zM66 160h1v1h-1zM184 160h1v1h-1zM13 161h1v1h-1zM57 161h2v1h-2zM70 161h1v1h-1zM186 161h1v1h-1zM17 162h1v1h-1zM187 162h1v1h-1zM230 162h1v1h-1zM13 163h1v1h-1zM15 163h1v1h-1zM60 163h1v1h-1zM130 163h1v1h-1zM119 164h1v1h-1zM131 165h1v1h-1zM191 165h8v1h-8zM217 165h1v1h-1zM49 166h1v1h-1zM132 166h1v1h-1zM187 166h1v1h-1zM189 166h1v1h-1zM112 167h1v1h-1zM134 167h1v1h-1zM186 167h1v1h-1zM190 167h1v1h-1zM60 168h1v1h-1zM112 168h1v1h-1zM168 168h1v1h-1zM201 168h1v1h-1zM30 169h2v1h-2zM78 169h1v1h-1zM201 169h1v1h-1zM221 169h1v1h-1zM164 170h1v1h-1zM201 170h1v1h-1zM44 171h1v1h-1zM163 171h1v1h-1zM58 172h1v1h-1zM82 172h1v1h-1zM170 172h1v1h-1zM198 172h1v1h-1zM200 172h1v1h-1zM110 173h1v1h-1zM170 173h1v1h-1zM15 174h2v1h-2zM44 174h1v1h-1zM86 174h1v1h-1zM197 174h1v1h-1zM201 174h1v1h-1zM75 175h1v1h-1zM91 175h3v1h-3zM163 175h1v1h-1zM47 176h1v1h-1zM51 176h1v1h-1zM72 176h1v1h-1zM164 176h1v1h-1zM17 177h1v1h-1zM14 178h2v1h-2zM78 178h1v1h-1zM194 178h1v1h-1zM204 178h1v1h-1zM196 179h1v1h-1zM39 181h1v1h-1zM42 181h1v1h-1zM107 181h1v1h-1zM36 182h1v1h-1zM93 182h1v1h-1zM34 183h1v1h-1zM44 183h1v1h-1zM91 183h1v1h-1zM32 184h1v1h-1zM44 184h1v1h-1zM104 184h1v1h-1zM97 185h1v1h-1zM2 186h1v1h-1zM5 186h1v1h-1zM25 186h1v1h-1zM43 186h1v1h-1zM53 186h1v1h-1zM88 186h1v1h-1zM0 187h1v1h-1zM22 188h1v1h-1zM41 188h1v1h-1zM88 188h1v1h-1zM1 189h1v1h-1zM6 189h1v1h-1zM21 189h1v1h-1zM57 189h2v1h-2zM90 189h1v1h-1zM20 190h1v1h-1zM39 190h1v1h-1zM38 192h1v1h-1zM19 193h1v1h-1zM37 193h1v1h-1zM36 194h1v1h-1zM33 196h1v1h-1zM30 197h1v1h-1zM147 198h1v1h-1zM61 199h1v1h-1zM65 199h1v1h-1zM60 200h1v1h-1zM68 200h1v1h-1zM146 200h1v1h-1zM60 201h1v1h-1zM70 202h1v1h-1zM188 202h1v1h-1zM70 203h1v1h-1zM189 203h1v1h-1zM222 203h2v1h-2zM189 204h1v1h-1zM117 205h1v1h-1zM184 205h1v1h-1zM120 207h1v1h-1zM182 207h1v1h-1zM186 207h1v1h-1zM218 207h1v1h-1zM179 209h1v1h-1zM177 210h1v1h-1zM185 210h1v1h-1zM116 212h1v1h-1zM184 212h1v1h-1zM53 214h1v1h-1zM117 214h1v1h-1zM122 214h1v1h-1zM117 215h1v1h-1zM184 215h1v1h-1zM117 216h1v1h-1zM150 217h3v1h-3zM177 217h1v1h-1zM102 218h1v1h-1zM179 218h3v1h-3zM156 219h1v1h-1zM52 222h1v1h-1zM46 223h1v1h-1zM212 223h1v1h-1zM46 224h1v1h-1zM89 224h1v1h-1zM50 225h1v1h-1zM209 225h1v1h-1zM102 226h1v1h-1zM19 227h2v1h-2zM40 227h1v1h-1zM49 227h1v1h-1zM102 227h1v1h-1zM39 228h1v1h-1zM48 228h1v1h-1zM66 228h1v1h-1zM72 228h1v1h-1zM102 228h1v1h-1zM156 228h1v1h-1zM219 228h1v1h-1zM40 229h1v1h-1zM47 229h1v1h-1zM207 229h1v1h-1zM19 230h2v1h-2zM151 230h2v1h-2zM218 230h1v1h-1zM101 231h1v1h-1zM233 231h1v1h-1zM63 232h1v1h-1zM75 232h1v1h-1zM90 232h1v1h-1zM63 233h1v1h-1zM80 233h1v1h-1zM99 233h1v1h-1zM63 234h1v1h-1zM94 234h3v1h-3zM138 234h1v1h-1zM142 235h1v1h-1zM212 235h2v1h-2z"/>
<path fill="#dbf3ef" d="M100 0h1v1h-1zM193 0h1v1h-1zM210 0h2v1h-2zM78 1h3v1h-3zM31 2h1v1h-1zM75 2h1v1h-1zM83 2h1v1h-1zM189 2h2v1h-2zM209 2h1v1h-1zM212 2h1v1h-1zM84 3h1v1h-1zM210 3h1v1h-1zM73 4h1v1h-1zM84 4h1v1h-1zM26 5h1v1h-1zM73 5h1v1h-1zM84 5h1v1h-1zM83 6h1v1h-1zM135 6h1v1h-1zM75 7h1v1h-1zM81 7h1v1h-1zM144 7h1v1h-1zM9 8h1v1h-1zM126 8h1v1h-1zM74 9h1v1h-1zM125 9h1v1h-1zM145 9h1v1h-1zM35 10h1v1h-1zM27 11h1v1h-1zM77 11h1v1h-1zM144 11h1v1h-1zM178 11h1v1h-1zM184 11h1v1h-1zM127 12h1v1h-1zM132 12h1v1h-1zM143 12h1v1h-1zM22 13h1v1h-1zM139 13h1v1h-1zM21 15h1v1h-1zM77 15h1v1h-1zM20 16h1v1h-1zM8 17h1v1h-1zM127 17h2v1h-2zM176 17h1v1h-1zM186 17h1v1h-1zM20 18h1v1h-1zM128 18h2v1h-2zM177 18h1v1h-1zM185 18h1v1h-1zM11 19h1v1h-1zM129 19h1v1h-1zM133 19h1v1h-1zM21 20h1v1h-1zM129 20h1v1h-1zM134 20h1v1h-1zM21 21h1v1h-1zM135 21h1v1h-1zM183 21h1v1h-1zM0 22h4v1h-4zM8 22h1v1h-1zM21 22h1v1h-1zM130 22h1v1h-1zM131 23h1v1h-1zM12 24h1v1h-1zM19 24h1v1h-1zM133 24h3v1h-3zM11 25h1v1h-1zM16 25h1v1h-1zM10 26h1v1h-1zM192 26h2v1h-2zM191 27h1v1h-1zM194 27h1v1h-1zM6 28h1v1h-1zM192 28h2v1h-2zM230 33h1v1h-1zM94 36h1v1h-1zM229 36h1v1h-1zM95 37h1v1h-1zM138 37h1v1h-1zM94 38h1v1h-1zM136 40h1v1h-1zM38 42h1v1h-1zM57 42h1v1h-1zM135 43h1v1h-1zM54 44h1v1h-1zM135 44h1v1h-1zM137 44h1v1h-1zM65 45h2v1h-2zM203 45h1v1h-1zM205 45h1v1h-1zM212 45h1v1h-1zM30 46h1v1h-1zM63 46h1v1h-1zM52 47h1v1h-1zM62 47h1v1h-1zM196 47h1v1h-1zM26 48h1v1h-1zM53 48h1v1h-1zM44 49h2v1h-2zM54 49h1v1h-1zM62 50h1v1h-1zM44 51h1v1h-1zM55 51h1v1h-1zM68 51h1v1h-1zM196 51h1v1h-1zM215 51h1v1h-1zM67 52h1v1h-1zM45 53h1v1h-1zM50 53h1v1h-1zM55 53h1v1h-1zM73 53h2v1h-2zM213 53h1v1h-1zM72 54h1v1h-1zM207 54h4v1h-4zM72 55h1v1h-1zM45 56h1v1h-1zM73 56h2v1h-2zM10 57h3v1h-3zM16 57h1v1h-1zM10 58h2v1h-2zM35 59h1v1h-1zM37 59h1v1h-1zM42 59h1v1h-1zM114 59h2v1h-2zM15 60h1v1h-1zM33 60h1v1h-1zM117 61h1v1h-1zM30 62h1v1h-1zM16 63h1v1h-1zM27 63h1v1h-1zM26 65h1v1h-1zM112 65h1v1h-1zM26 66h1v1h-1zM149 66h2v1h-2zM44 67h2v1h-2zM119 67h1v1h-1zM150 67h1v1h-1zM17 68h1v1h-1zM114 68h1v1h-1zM49 69h1v1h-1zM18 70h1v1h-1zM50 70h1v1h-1zM19 71h1v1h-1zM42 71h1v1h-1zM51 72h1v1h-1zM115 72h1v1h-1zM44 73h1v1h-1zM51 73h1v1h-1zM121 73h1v1h-1zM1 77h1v1h-1zM235 77h1v1h-1zM235 78h1v1h-1zM8 79h1v1h-1zM112 79h1v1h-1zM115 79h1v1h-1zM116 80h1v1h-1zM7 81h1v1h-1zM111 81h1v1h-1zM200 81h1v1h-1zM116 82h1v1h-1zM202 82h1v1h-1zM113 83h3v1h-3zM1 84h1v1h-1zM198 84h1v1h-1zM71 85h1v1h-1zM65 87h1v1h-1zM66 88h1v1h-1zM113 89h2v1h-2zM134 90h1v1h-1zM117 91h1v1h-1zM127 91h1v1h-1zM138 92h1v1h-1zM111 95h1v1h-1zM138 95h1v1h-1zM112 96h1v1h-1zM136 96h1v1h-1zM206 96h1v1h-1zM111 97h1v1h-1zM129 97h1v1h-1zM161 97h2v1h-2zM111 98h1v1h-1zM129 98h1v1h-1zM129 99h1v1h-1zM205 99h1v1h-1zM207 99h1v1h-1zM129 103h1v1h-1zM223 103h1v1h-1zM56 104h1v1h-1zM130 104h1v1h-1zM50 105h1v1h-1zM57 105h1v1h-1zM156 105h1v1h-1zM47 106h2v1h-2zM158 106h2v1h-2zM44 107h2v1h-2zM43 108h1v1h-1zM57 109h1v1h-1zM42 110h1v1h-1zM138 110h1v1h-1zM139 111h1v1h-1zM134 113h1v1h-1zM137 113h1v1h-1zM40 114h1v1h-1zM35 115h1v1h-1zM39 115h1v1h-1zM37 116h1v1h-1zM57 118h1v1h-1zM58 119h1v1h-1zM31 120h1v1h-1zM34 120h1v1h-1zM90 120h1v1h-1zM37 121h1v1h-1zM92 121h1v1h-1zM93 122h1v1h-1zM216 123h1v1h-1zM37 124h1v1h-1zM55 124h1v1h-1zM214 125h2v1h-2zM92 126h1v1h-1zM33 127h1v1h-1zM209 127h1v1h-1zM213 127h1v1h-1zM48 128h1v1h-1zM208 128h1v1h-1zM45 129h1v1h-1zM116 129h1v1h-1zM214 129h1v1h-1zM42 130h1v1h-1zM208 130h1v1h-1zM214 130h1v1h-1zM41 131h1v1h-1zM112 131h1v1h-1zM214 131h1v1h-1zM119 132h1v1h-1zM211 132h1v1h-1zM216 132h1v1h-1zM218 132h1v1h-1zM32 133h1v1h-1zM91 133h2v1h-2zM217 133h1v1h-1zM220 133h1v1h-1zM40 134h1v1h-1zM88 134h1v1h-1zM39 135h1v1h-1zM87 135h1v1h-1zM99 135h2v1h-2zM36 136h2v1h-2zM103 136h1v1h-1zM126 137h1v1h-1zM128 139h1v1h-1zM81 140h1v1h-1zM138 141h1v1h-1zM142 141h1v1h-1zM171 141h1v1h-1zM137 142h1v1h-1zM171 142h1v1h-1zM174 142h1v1h-1zM230 142h1v1h-1zM172 143h2v1h-2zM126 144h1v1h-1zM132 144h2v1h-2zM137 144h2v1h-2zM217 144h1v1h-1zM122 145h1v1h-1zM233 145h1v1h-1zM75 146h1v1h-1zM54 148h1v1h-1zM57 148h2v1h-2zM62 149h1v1h-1zM119 149h1v1h-1zM220 149h1v1h-1zM232 149h1v1h-1zM50 150h1v1h-1zM64 150h1v1h-1zM131 150h1v1h-1zM136 150h1v1h-1zM231 150h1v1h-1zM50 151h1v1h-1zM69 151h1v1h-1zM120 151h1v1h-1zM230 151h1v1h-1zM50 152h1v1h-1zM220 152h1v1h-1zM230 152h1v1h-1zM50 153h1v1h-1zM230 153h1v1h-1zM166 154h1v1h-1zM219 154h1v1h-1zM50 155h1v1h-1zM138 155h1v1h-1zM140 156h1v1h-1zM51 157h1v1h-1zM52 158h1v1h-1zM142 158h1v1h-1zM167 158h1v1h-1zM230 159h1v1h-1zM15 160h2v1h-2zM57 160h2v1h-2zM65 160h1v1h-1zM178 160h1v1h-1zM230 160h1v1h-1zM17 161h1v1h-1zM175 161h1v1h-1zM230 161h1v1h-1zM13 162h1v1h-1zM59 162h1v1h-1zM71 162h1v1h-1zM14 163h1v1h-1zM55 163h1v1h-1zM121 163h1v1h-1zM142 164h1v1h-1zM52 165h1v1h-1zM112 166h1v1h-1zM140 166h1v1h-1zM190 166h1v1h-1zM199 166h1v1h-1zM228 166h1v1h-1zM60 167h1v1h-1zM138 167h1v1h-1zM169 167h1v1h-1zM191 167h4v1h-4zM200 167h1v1h-1zM77 168h1v1h-1zM196 168h1v1h-1zM226 168h1v1h-1zM182 169h1v1h-1zM197 169h1v1h-1zM222 169h3v1h-3zM59 170h1v1h-1zM174 170h1v1h-1zM198 171h1v1h-1zM44 172h1v1h-1zM199 172h1v1h-1zM44 173h1v1h-1zM84 173h1v1h-1zM198 174h3v1h-3zM14 175h1v1h-1zM17 175h1v1h-1zM45 175h1v1h-1zM94 175h1v1h-1zM195 175h1v1h-1zM13 176h1v1h-1zM17 176h1v1h-1zM48 176h3v1h-3zM94 176h1v1h-1zM194 176h1v1h-1zM13 177h1v1h-1zM194 177h1v1h-1zM72 178h1v1h-1zM94 178h1v1h-1zM74 179h1v1h-1zM76 179h1v1h-1zM94 179h1v1h-1zM197 179h1v1h-1zM202 179h1v1h-1zM40 181h2v1h-2zM28 185h1v1h-1zM54 185h1v1h-1zM57 185h1v1h-1zM3 186h2v1h-2zM96 186h1v1h-1zM1 187h1v1h-1zM7 187h1v1h-1zM42 187h1v1h-1zM54 187h1v1h-1zM59 187h1v1h-1zM88 187h1v1h-1zM95 187h1v1h-1zM0 188h1v1h-1zM7 188h1v1h-1zM55 188h1v1h-1zM59 188h1v1h-1zM2 189h4v1h-4zM20 191h1v1h-1zM20 195h1v1h-1zM21 196h1v1h-1zM143 196h3v1h-3zM23 197h1v1h-1zM142 197h1v1h-1zM62 199h3v1h-3zM142 199h1v1h-1zM67 200h1v1h-1zM143 200h1v1h-1zM145 200h1v1h-1zM61 201h1v1h-1zM69 201h1v1h-1zM62 202h1v1h-1zM69 202h1v1h-1zM64 203h2v1h-2zM68 203h2v1h-2zM186 203h3v1h-3zM185 204h1v1h-1zM188 204h1v1h-1zM219 204h1v1h-1zM185 205h1v1h-1zM188 205h1v1h-1zM184 206h4v1h-4zM115 207h1v1h-1zM227 207h1v1h-1zM120 208h1v1h-1zM220 208h1v1h-1zM225 208h1v1h-1zM120 209h1v1h-1zM180 209h2v1h-2zM115 210h1v1h-1zM120 210h1v1h-1zM121 213h1v1h-1zM184 213h1v1h-1zM50 214h1v1h-1zM184 214h1v1h-1zM122 215h1v1h-1zM48 216h1v1h-1zM54 216h1v1h-1zM122 217h1v1h-1zM118 218h1v1h-1zM121 218h1v1h-1zM148 218h1v1h-1zM98 220h1v1h-1zM103 220h1v1h-1zM146 220h1v1h-1zM47 221h1v1h-1zM53 221h1v1h-1zM93 221h1v1h-1zM97 221h1v1h-1zM103 221h1v1h-1zM157 221h1v1h-1zM91 222h1v1h-1zM145 222h1v1h-1zM50 223h1v1h-1zM90 223h1v1h-1zM101 223h1v1h-1zM145 223h1v1h-1zM50 224h1v1h-1zM101 224h1v1h-1zM145 224h1v1h-1zM211 224h1v1h-1zM220 224h1v1h-1zM145 225h1v1h-1zM47 226h1v1h-1zM49 226h1v1h-1zM157 226h1v1h-1zM220 226h1v1h-1zM41 227h8v1h-8zM146 227h1v1h-1zM18 228h1v1h-1zM21 228h1v1h-1zM40 228h2v1h-2zM46 228h2v1h-2zM18 229h1v1h-1zM21 229h1v1h-1zM41 229h6v1h-6zM65 229h1v1h-1zM73 229h1v1h-1zM148 229h1v1h-1zM218 229h1v1h-1zM64 230h1v1h-1zM74 230h1v1h-1zM89 230h1v1h-1zM235 230h1v1h-1zM100 232h1v1h-1zM208 232h1v1h-1zM141 234h1v1h-1zM80 235h1v1h-1zM138 235h1v1h-1z"/>
<path fill="#d4efef" d="M97 0h3v1h-3zM186 0h1v1h-1zM97 1h3v1h-3zM209 1h4v1h-4zM210 2h2v1h-2zM28 3h1v1h-1zM74 3h1v1h-1zM74 6h1v1h-1zM142 6h1v1h-1zM76 7h1v1h-1zM80 7h1v1h-1zM134 7h1v1h-1zM17 8h1v1h-1zM127 8h1v1h-1zM131 8h3v1h-3zM7 9h1v1h-1zM19 9h1v1h-1zM26 9h1v1h-1zM75 9h1v1h-1zM6 10h1v1h-1zM76 10h1v1h-1zM125 10h1v1h-1zM5 11h1v1h-1zM21 11h1v1h-1zM34 11h1v1h-1zM73 11h1v1h-1zM126 11h1v1h-1zM29 12h1v1h-1zM32 12h1v1h-1zM73 12h1v1h-1zM77 12h1v1h-1zM128 12h1v1h-1zM131 12h1v1h-1zM135 12h1v1h-1zM142 12h1v1h-1zM77 13h1v1h-1zM5 14h1v1h-1zM77 14h1v1h-1zM73 15h1v1h-1zM73 16h1v1h-1zM19 17h1v1h-1zM72 17h1v1h-1zM76 17h1v1h-1zM11 18h1v1h-1zM70 19h1v1h-1zM77 19h1v1h-1zM130 19h3v1h-3zM11 20h1v1h-1zM130 20h1v1h-1zM184 20h1v1h-1zM11 21h1v1h-1zM130 21h1v1h-1zM180 21h1v1h-1zM9 22h3v1h-3zM135 22h1v1h-1zM11 23h2v1h-2zM20 23h1v1h-1zM132 23h1v1h-1zM135 23h1v1h-1zM11 24h1v1h-1zM13 24h1v1h-1zM18 24h1v1h-1zM70 24h1v1h-1zM77 24h1v1h-1zM9 26h1v1h-1zM72 26h1v1h-1zM75 26h1v1h-1zM7 27h1v1h-1zM192 27h2v1h-2zM49 35h1v1h-1zM225 35h1v1h-1zM230 35h1v1h-1zM227 36h2v1h-2zM94 37h1v1h-1zM142 37h1v1h-1zM53 38h1v1h-1zM137 38h1v1h-1zM144 39h1v1h-1zM40 40h1v1h-1zM55 40h1v1h-1zM144 41h1v1h-1zM39 42h1v1h-1zM136 42h1v1h-1zM36 43h1v1h-1zM56 43h1v1h-1zM136 43h1v1h-1zM139 43h1v1h-1zM142 43h1v1h-1zM136 44h1v1h-1zM33 45h1v1h-1zM53 45h1v1h-1zM199 45h1v1h-1zM67 46h1v1h-1zM197 46h1v1h-1zM28 47h1v1h-1zM68 47h1v1h-1zM52 48h1v1h-1zM62 48h1v1h-1zM215 48h1v1h-1zM62 49h1v1h-1zM23 50h1v1h-1zM46 50h1v1h-1zM54 50h1v1h-1zM68 50h1v1h-1zM47 51h1v1h-1zM48 52h1v1h-1zM55 52h1v1h-1zM64 52h1v1h-1zM66 52h1v1h-1zM197 52h1v1h-1zM214 52h1v1h-1zM51 53h4v1h-4zM199 53h1v1h-1zM203 53h2v1h-2zM45 54h1v1h-1zM75 54h1v1h-1zM45 55h1v1h-1zM75 55h1v1h-1zM17 56h1v1h-1zM16 58h1v1h-1zM38 59h1v1h-1zM41 59h1v1h-1zM116 60h1v1h-1zM220 60h2v1h-2zM112 61h1v1h-1zM16 62h1v1h-1zM117 64h1v1h-1zM117 65h1v1h-1zM113 66h1v1h-1zM118 66h1v1h-1zM17 67h1v1h-1zM42 68h1v1h-1zM121 68h1v1h-1zM25 69h1v1h-1zM123 70h1v1h-1zM23 71h1v1h-1zM123 71h1v1h-1zM43 72h1v1h-1zM117 73h1v1h-1zM120 73h1v1h-1zM46 74h1v1h-1zM50 74h1v1h-1zM2 77h1v1h-1zM6 77h1v1h-1zM113 79h2v1h-2zM112 80h1v1h-1zM112 81h1v1h-1zM116 81h1v1h-1zM66 82h1v1h-1zM112 82h1v1h-1zM115 82h1v1h-1zM4 83h1v1h-1zM65 83h1v1h-1zM198 83h1v1h-1zM202 83h1v1h-1zM0 84h1v1h-1zM202 84h1v1h-1zM199 85h1v1h-1zM201 85h1v1h-1zM70 87h1v1h-1zM69 88h1v1h-1zM112 90h1v1h-1zM116 90h1v1h-1zM129 90h1v1h-1zM133 90h1v1h-1zM111 91h1v1h-1zM136 91h1v1h-1zM127 93h1v1h-1zM111 94h1v1h-1zM117 94h1v1h-1zM128 94h1v1h-1zM113 96h3v1h-3zM205 97h3v1h-3zM135 98h1v1h-1zM159 98h1v1h-1zM205 98h3v1h-3zM164 99h1v1h-1zM206 99h1v1h-1zM156 101h1v1h-1zM164 101h1v1h-1zM135 103h1v1h-1zM163 103h1v1h-1zM134 104h1v1h-1zM161 105h1v1h-1zM49 106h1v1h-1zM46 107h1v1h-1zM44 108h1v1h-1zM43 109h1v1h-1zM42 111h1v1h-1zM56 111h1v1h-1zM136 111h1v1h-1zM135 112h1v1h-1zM138 112h1v1h-1zM41 113h1v1h-1zM133 113h1v1h-1zM135 113h2v1h-2zM30 115h1v1h-1zM127 115h1v1h-1zM29 116h1v1h-1zM36 116h1v1h-1zM38 116h1v1h-1zM56 116h1v1h-1zM127 116h1v1h-1zM29 117h1v1h-1zM37 117h1v1h-1zM56 117h1v1h-1zM29 118h1v1h-1zM133 118h1v1h-1zM36 119h1v1h-1zM32 120h2v1h-2zM37 120h1v1h-1zM58 120h1v1h-1zM84 120h1v1h-1zM82 122h1v1h-1zM53 123h2v1h-2zM58 123h1v1h-1zM82 123h1v1h-1zM56 124h2v1h-2zM215 124h2v1h-2zM93 125h1v1h-1zM35 126h1v1h-1zM85 126h1v1h-1zM49 127h1v1h-1zM210 127h1v1h-1zM212 127h1v1h-1zM47 128h1v1h-1zM32 129h1v1h-1zM44 129h1v1h-1zM115 129h1v1h-1zM208 129h1v1h-1zM113 130h1v1h-1zM209 131h1v1h-1zM213 131h1v1h-1zM32 132h1v1h-1zM217 132h1v1h-1zM111 133h1v1h-1zM119 133h1v1h-1zM218 133h2v1h-2zM95 134h1v1h-1zM98 135h1v1h-1zM102 136h1v1h-1zM86 137h1v1h-1zM105 137h2v1h-2zM85 138h1v1h-1zM127 138h1v1h-1zM83 139h1v1h-1zM172 140h2v1h-2zM80 141h1v1h-1zM139 141h3v1h-3zM174 141h1v1h-1zM79 142h1v1h-1zM128 142h1v1h-1zM138 142h4v1h-4zM223 142h1v1h-1zM78 143h1v1h-1zM137 143h4v1h-4zM221 143h1v1h-1zM77 144h1v1h-1zM134 144h3v1h-3zM218 144h2v1h-2zM76 145h1v1h-1zM119 145h1v1h-1zM130 145h1v1h-1zM137 145h1v1h-1zM216 145h1v1h-1zM129 146h1v1h-1zM138 146h1v1h-1zM233 146h1v1h-1zM216 147h1v1h-1zM233 147h1v1h-1zM52 148h2v1h-2zM74 148h1v1h-1zM129 148h1v1h-1zM138 148h1v1h-1zM61 149h1v1h-1zM73 149h1v1h-1zM130 149h1v1h-1zM63 150h1v1h-1zM119 150h1v1h-1zM132 150h1v1h-1zM135 150h1v1h-1zM71 152h1v1h-1zM50 154h1v1h-1zM135 155h1v1h-1zM137 155h1v1h-1zM141 157h1v1h-1zM217 158h1v1h-1zM54 159h1v1h-1zM162 159h1v1h-1zM124 160h1v1h-1zM130 160h1v1h-1zM179 160h1v1h-1zM183 160h1v1h-1zM14 161h3v1h-3zM130 161h1v1h-1zM14 162h3v1h-3zM56 162h1v1h-1zM130 162h1v1h-1zM72 163h1v1h-1zM187 163h1v1h-1zM60 164h1v1h-1zM73 164h1v1h-1zM118 164h1v1h-1zM172 164h1v1h-1zM217 164h1v1h-1zM229 164h1v1h-1zM53 165h1v1h-1zM60 165h1v1h-1zM74 165h1v1h-1zM141 165h1v1h-1zM187 165h1v1h-1zM50 166h1v1h-1zM60 166h1v1h-1zM75 166h1v1h-1zM171 166h1v1h-1zM191 166h5v1h-5zM198 166h1v1h-1zM218 166h1v1h-1zM48 167h1v1h-1zM76 167h1v1h-1zM135 167h3v1h-3zM195 167h1v1h-1zM227 167h1v1h-1zM184 168h1v1h-1zM197 168h1v1h-1zM200 168h1v1h-1zM220 168h1v1h-1zM198 169h1v1h-1zM200 169h1v1h-1zM45 170h1v1h-1zM198 170h3v1h-3zM81 171h1v1h-1zM111 171h1v1h-1zM199 171h2v1h-2zM163 172h1v1h-1zM55 174h1v1h-1zM87 174h1v1h-1zM163 174h1v1h-1zM15 175h2v1h-2zM53 175h1v1h-1zM169 175h1v1h-1zM203 175h1v1h-1zM14 176h3v1h-3zM168 176h1v1h-1zM204 176h1v1h-1zM14 177h3v1h-3zM78 177h1v1h-1zM94 177h1v1h-1zM204 177h1v1h-1zM195 178h1v1h-1zM75 179h1v1h-1zM198 179h1v1h-1zM200 179h2v1h-2zM107 180h1v1h-1zM95 181h1v1h-1zM37 182h1v1h-1zM43 182h1v1h-1zM94 182h1v1h-1zM106 182h1v1h-1zM105 183h1v1h-1zM33 184h1v1h-1zM90 184h1v1h-1zM97 184h2v1h-2zM103 184h1v1h-1zM29 185h2v1h-2zM43 185h1v1h-1zM55 185h2v1h-2zM89 185h1v1h-1zM26 186h1v1h-1zM54 186h1v1h-1zM58 186h1v1h-1zM2 187h5v1h-5zM24 187h1v1h-1zM1 188h6v1h-6zM89 188h1v1h-1zM93 188h1v1h-1zM38 191h1v1h-1zM20 192h1v1h-1zM20 194h1v1h-1zM34 195h1v1h-1zM32 196h1v1h-1zM24 197h2v1h-2zM28 197h2v1h-2zM146 197h1v1h-1zM142 198h1v1h-1zM146 199h1v1h-1zM61 200h2v1h-2zM65 200h2v1h-2zM144 200h1v1h-1zM62 201h1v1h-1zM68 201h1v1h-1zM63 202h1v1h-1zM68 202h1v1h-1zM66 203h2v1h-2zM186 204h2v1h-2zM226 204h1v1h-1zM186 205h2v1h-2zM218 205h1v1h-1zM227 205h1v1h-1zM116 206h1v1h-1zM119 206h1v1h-1zM218 206h1v1h-1zM183 207h1v1h-1zM185 207h1v1h-1zM182 208h1v1h-1zM185 208h1v1h-1zM221 208h1v1h-1zM224 208h1v1h-1zM185 209h1v1h-1zM184 210h1v1h-1zM116 211h1v1h-1zM120 211h1v1h-1zM176 212h1v1h-1zM117 213h1v1h-1zM51 214h2v1h-2zM49 215h1v1h-1zM176 215h1v1h-1zM122 216h1v1h-1zM183 216h1v1h-1zM182 217h1v1h-1zM100 218h2v1h-2zM154 218h1v1h-1zM54 219h1v1h-1zM147 219h1v1h-1zM94 221h3v1h-3zM98 221h1v1h-1zM47 222h1v1h-1zM51 222h1v1h-1zM102 222h1v1h-1zM214 222h1v1h-1zM218 222h1v1h-1zM47 225h1v1h-1zM89 225h1v1h-1zM220 225h1v1h-1zM48 226h1v1h-1zM208 227h1v1h-1zM19 228h2v1h-2zM42 228h4v1h-4zM67 228h1v1h-1zM71 228h1v1h-1zM147 228h1v1h-1zM19 229h2v1h-2zM154 229h1v1h-1zM101 230h1v1h-1zM217 232h1v1h-1zM79 233h1v1h-1zM92 233h1v1h-1zM98 233h1v1h-1zM80 234h1v1h-1zM139 234h2v1h-2zM210 234h1v1h-1zM215 234h1v1h-1zM75 235h1v1h-1zM139 235h3v1h-3z"/>
<path fill="#cfebef" d="M192 1h1v1h-1zM76 2h1v1h-1zM82 2h1v1h-1zM33 3h1v1h-1zM83 3h1v1h-1zM27 4h1v1h-1zM74 4h1v1h-1zM35 5h1v1h-1zM74 5h1v1h-1zM83 5h1v1h-1zM26 6h1v1h-1zM82 6h1v1h-1zM136 6h1v1h-1zM141 6h1v1h-1zM77 7h3v1h-3zM143 7h1v1h-1zM10 8h1v1h-1zM16 8h1v1h-1zM128 8h3v1h-3zM144 8h1v1h-1zM126 9h1v1h-1zM144 9h1v1h-1zM20 10h1v1h-1zM74 10h2v1h-2zM144 10h1v1h-1zM133 11h2v1h-2zM143 11h1v1h-1zM179 11h1v1h-1zM183 11h1v1h-1zM5 12h1v1h-1zM30 12h2v1h-2zM129 12h2v1h-2zM136 12h1v1h-1zM141 12h1v1h-1zM177 12h1v1h-1zM185 12h1v1h-1zM5 13h1v1h-1zM73 13h1v1h-1zM176 13h1v1h-1zM186 13h1v1h-1zM21 14h1v1h-1zM73 14h1v1h-1zM6 15h1v1h-1zM7 16h1v1h-1zM76 16h1v1h-1zM9 17h1v1h-1zM12 18h1v1h-1zM19 18h1v1h-1zM71 18h1v1h-1zM12 19h1v1h-1zM20 19h1v1h-1zM20 20h1v1h-1zM70 20h1v1h-1zM131 20h3v1h-3zM179 20h1v1h-1zM131 21h1v1h-1zM134 21h1v1h-1zM181 21h2v1h-2zM20 22h1v1h-1zM131 22h1v1h-1zM134 22h1v1h-1zM5 23h6v1h-6zM19 23h1v1h-1zM70 23h1v1h-1zM133 23h2v1h-2zM10 24h1v1h-1zM14 24h4v1h-4zM10 25h1v1h-1zM71 25h1v1h-1zM76 25h1v1h-1zM8 26h1v1h-1zM5 28h1v1h-1zM226 33h1v1h-1zM229 33h1v1h-1zM225 34h1v1h-1zM230 34h1v1h-1zM45 35h1v1h-1zM43 36h1v1h-1zM51 36h1v1h-1zM52 37h1v1h-1zM139 37h3v1h-3zM41 38h1v1h-1zM143 38h1v1h-1zM54 40h1v1h-1zM144 40h1v1h-1zM40 41h1v1h-1zM137 42h1v1h-1zM143 42h1v1h-1zM37 43h1v1h-1zM137 43h2v1h-2zM140 43h2v1h-2zM35 44h1v1h-1zM200 45h3v1h-3zM206 45h1v1h-1zM211 45h1v1h-1zM31 46h1v1h-1zM64 46h1v1h-1zM66 46h1v1h-1zM213 46h1v1h-1zM63 47h1v1h-1zM44 48h1v1h-1zM68 48h1v1h-1zM196 48h1v1h-1zM25 49h1v1h-1zM43 49h1v1h-1zM46 49h1v1h-1zM53 49h1v1h-1zM68 49h1v1h-1zM196 49h1v1h-1zM215 49h1v1h-1zM43 50h1v1h-1zM47 50h1v1h-1zM196 50h1v1h-1zM215 50h1v1h-1zM22 51h1v1h-1zM54 51h1v1h-1zM63 51h1v1h-1zM67 51h1v1h-1zM21 52h1v1h-1zM44 52h1v1h-1zM49 52h1v1h-1zM54 52h1v1h-1zM65 52h1v1h-1zM200 53h1v1h-1zM202 53h1v1h-1zM212 53h1v1h-1zM19 54h1v1h-1zM73 54h2v1h-2zM18 55h1v1h-1zM73 55h2v1h-2zM220 55h2v1h-2zM44 57h1v1h-1zM43 58h1v1h-1zM16 59h1v1h-1zM34 59h1v1h-1zM39 59h2v1h-2zM219 59h1v1h-1zM222 59h1v1h-1zM16 60h1v1h-1zM113 60h1v1h-1zM16 61h1v1h-1zM31 61h1v1h-1zM112 62h1v1h-1zM117 62h1v1h-1zM17 63h1v1h-1zM26 63h1v1h-1zM112 63h1v1h-1zM117 63h1v1h-1zM17 64h1v1h-1zM112 64h1v1h-1zM17 65h1v1h-1zM17 66h1v1h-1zM114 67h1v1h-1zM43 68h1v1h-1zM47 68h1v1h-1zM120 68h1v1h-1zM42 69h1v1h-1zM115 69h1v1h-1zM122 69h1v1h-1zM24 70h1v1h-1zM42 70h1v1h-1zM115 70h1v1h-1zM20 71h1v1h-1zM22 71h1v1h-1zM115 71h1v1h-1zM122 72h1v1h-1zM118 73h2v1h-2zM47 74h3v1h-3zM3 77h1v1h-1zM5 77h1v1h-1zM7 78h1v1h-1zM7 80h1v1h-1zM113 80h3v1h-3zM113 81h3v1h-3zM5 82h1v1h-1zM69 82h1v1h-1zM113 82h2v1h-2zM199 82h1v1h-1zM201 82h1v1h-1zM70 83h1v1h-1zM200 85h1v1h-1zM67 88h2v1h-2zM130 90h3v1h-3zM111 92h1v1h-1zM117 92h1v1h-1zM127 92h1v1h-1zM111 93h1v1h-1zM117 93h1v1h-1zM138 93h1v1h-1zM138 94h1v1h-1zM112 95h1v1h-1zM116 95h1v1h-1zM130 95h1v1h-1zM137 95h1v1h-1zM135 96h1v1h-1zM135 97h1v1h-1zM163 98h1v1h-1zM135 99h1v1h-1zM129 100h1v1h-1zM157 100h1v1h-1zM164 100h1v1h-1zM129 102h1v1h-1zM156 102h1v1h-1zM52 104h1v1h-1zM131 104h1v1h-1zM133 104h1v1h-1zM156 104h1v1h-1zM162 104h1v1h-1zM51 105h1v1h-1zM50 106h1v1h-1zM57 106h1v1h-1zM47 107h1v1h-1zM57 107h1v1h-1zM45 108h1v1h-1zM57 108h1v1h-1zM44 109h1v1h-1zM43 110h1v1h-1zM56 110h1v1h-1zM137 111h2v1h-2zM42 112h1v1h-1zM56 112h1v1h-1zM136 112h2v1h-2zM56 113h1v1h-1zM129 113h1v1h-1zM56 114h1v1h-1zM134 114h1v1h-1zM31 115h1v1h-1zM34 115h1v1h-1zM40 115h1v1h-1zM56 115h1v1h-1zM39 116h1v1h-1zM36 117h1v1h-1zM38 117h1v1h-1zM134 117h1v1h-1zM36 118h2v1h-2zM56 118h1v1h-1zM129 118h1v1h-1zM30 119h1v1h-1zM35 119h1v1h-1zM37 119h1v1h-1zM57 119h1v1h-1zM89 120h1v1h-1zM38 121h1v1h-1zM58 121h1v1h-1zM38 122h1v1h-1zM54 122h1v1h-1zM58 122h1v1h-1zM55 123h1v1h-1zM57 123h1v1h-1zM93 123h1v1h-1zM52 124h1v1h-1zM93 124h1v1h-1zM37 125h1v1h-1zM51 125h1v1h-1zM36 126h1v1h-1zM50 126h1v1h-1zM91 126h1v1h-1zM211 127h1v1h-1zM46 128h1v1h-1zM209 128h1v1h-1zM213 128h1v1h-1zM32 130h1v1h-1zM41 130h1v1h-1zM32 131h1v1h-1zM210 131h1v1h-1zM212 131h1v1h-1zM112 132h1v1h-1zM40 133h1v1h-1zM33 134h1v1h-1zM89 134h1v1h-1zM94 134h1v1h-1zM110 134h1v1h-1zM119 134h1v1h-1zM34 135h1v1h-1zM97 135h1v1h-1zM119 135h1v1h-1zM87 136h1v1h-1zM101 136h1v1h-1zM125 137h1v1h-1zM84 139h1v1h-1zM82 140h1v1h-1zM128 140h1v1h-1zM81 141h1v1h-1zM128 141h1v1h-1zM172 141h2v1h-2zM172 142h2v1h-2zM229 142h1v1h-1zM127 143h1v1h-1zM231 143h1v1h-1zM220 144h1v1h-1zM232 144h1v1h-1zM131 145h1v1h-1zM76 146h1v1h-1zM216 146h1v1h-1zM75 147h1v1h-1zM118 147h1v1h-1zM129 147h1v1h-1zM138 147h1v1h-1zM118 148h1v1h-1zM217 148h1v1h-1zM51 149h1v1h-1zM55 149h2v1h-2zM60 149h1v1h-1zM118 149h1v1h-1zM137 149h1v1h-1zM133 150h2v1h-2zM221 150h1v1h-1zM230 150h1v1h-1zM68 151h1v1h-1zM72 151h1v1h-1zM51 152h1v1h-1zM70 152h1v1h-1zM121 152h1v1h-1zM220 153h1v1h-1zM124 155h1v1h-1zM136 155h1v1h-1zM164 155h1v1h-1zM167 155h1v1h-1zM51 156h1v1h-1zM133 156h1v1h-1zM218 156h1v1h-1zM52 157h1v1h-1zM162 157h1v1h-1zM53 158h1v1h-1zM131 158h1v1h-1zM55 159h2v1h-2zM59 159h3v1h-3zM69 159h1v1h-1zM142 159h1v1h-1zM165 159h1v1h-1zM217 159h1v1h-1zM70 160h1v1h-1zM180 160h3v1h-3zM123 161h1v1h-1zM176 161h1v1h-1zM185 161h1v1h-1zM57 162h2v1h-2zM122 162h1v1h-1zM174 162h1v1h-1zM142 163h1v1h-1zM173 163h1v1h-1zM217 163h1v1h-1zM55 164h1v1h-1zM113 164h1v1h-1zM117 164h1v1h-1zM131 164h1v1h-1zM187 164h1v1h-1zM54 165h1v1h-1zM112 165h1v1h-1zM172 165h1v1h-1zM133 166h1v1h-1zM186 166h1v1h-1zM196 166h2v1h-2zM185 167h1v1h-1zM196 167h4v1h-4zM219 167h1v1h-1zM47 168h1v1h-1zM198 168h2v1h-2zM225 168h1v1h-1zM46 169h1v1h-1zM59 169h1v1h-1zM168 169h1v1h-1zM175 169h1v1h-1zM181 169h1v1h-1zM199 169h1v1h-1zM165 170h1v1h-1zM45 171h1v1h-1zM58 171h1v1h-1zM172 171h1v1h-1zM57 172h1v1h-1zM110 172h1v1h-1zM56 173h1v1h-1zM163 173h1v1h-1zM45 174h1v1h-1zM108 174h1v1h-1zM46 175h1v1h-1zM52 175h1v1h-1zM196 175h1v1h-1zM202 175h1v1h-1zM73 176h1v1h-1zM77 176h1v1h-1zM165 176h1v1h-1zM195 176h1v1h-1zM72 177h1v1h-1zM195 177h1v1h-1zM203 178h1v1h-1zM199 179h1v1h-1zM42 182h1v1h-1zM95 182h1v1h-1zM35 183h1v1h-1zM43 183h1v1h-1zM92 183h1v1h-1zM43 184h1v1h-1zM99 184h1v1h-1zM31 185h1v1h-1zM42 186h1v1h-1zM55 186h1v1h-1zM57 186h1v1h-1zM89 186h1v1h-1zM55 187h1v1h-1zM58 187h1v1h-1zM23 188h1v1h-1zM40 188h1v1h-1zM56 188h3v1h-3zM92 188h1v1h-1zM22 189h1v1h-1zM39 189h1v1h-1zM21 190h1v1h-1zM38 190h1v1h-1zM37 192h1v1h-1zM20 193h1v1h-1zM36 193h1v1h-1zM35 194h1v1h-1zM21 195h1v1h-1zM22 196h1v1h-1zM26 197h2v1h-2zM143 197h3v1h-3zM143 198h1v1h-1zM146 198h1v1h-1zM143 199h3v1h-3zM63 200h2v1h-2zM63 201h5v1h-5zM64 202h4v1h-4zM220 204h1v1h-1zM225 204h1v1h-1zM227 206h1v1h-1zM184 207h1v1h-1zM219 207h1v1h-1zM226 207h1v1h-1zM115 208h1v1h-1zM222 208h2v1h-2zM115 209h1v1h-1zM182 209h1v1h-1zM184 209h1v1h-1zM178 210h1v1h-1zM183 210h1v1h-1zM183 211h1v1h-1zM176 213h1v1h-1zM121 214h1v1h-1zM176 214h1v1h-1zM53 215h1v1h-1zM48 217h1v1h-1zM54 217h1v1h-1zM118 217h1v1h-1zM121 217h1v1h-1zM178 217h1v1h-1zM54 218h1v1h-1zM119 218h2v1h-2zM149 218h1v1h-1zM99 219h1v1h-1zM155 219h1v1h-1zM156 220h1v1h-1zM48 221h1v1h-1zM146 221h1v1h-1zM50 222h1v1h-1zM92 222h1v1h-1zM157 222h1v1h-1zM47 223h1v1h-1zM49 223h1v1h-1zM100 223h1v1h-1zM157 223h1v1h-1zM213 223h1v1h-1zM219 223h1v1h-1zM47 224h1v1h-1zM49 224h1v1h-1zM157 224h1v1h-1zM212 224h1v1h-1zM48 225h2v1h-2zM101 225h1v1h-1zM157 225h1v1h-1zM210 225h1v1h-1zM89 226h1v1h-1zM146 226h1v1h-1zM209 226h1v1h-1zM156 227h1v1h-1zM219 227h1v1h-1zM68 228h3v1h-3zM155 228h1v1h-1zM218 228h1v1h-1zM89 229h1v1h-1zM149 229h1v1h-1zM153 229h1v1h-1zM64 231h1v1h-1zM74 231h1v1h-1zM90 231h1v1h-1zM208 231h1v1h-1zM91 232h1v1h-1zM75 233h2v1h-2zM78 233h1v1h-1zM93 233h1v1h-1zM209 233h1v1h-1zM216 233h1v1h-1zM64 235h1v1h-1zM74 235h1v1h-1zM79 235h1v1h-1zM233 235h1v1h-1z"/>
<path fill="#cae7f0" d="M187 1h1v1h-1zM77 2h1v1h-1zM80 2h2v1h-2zM75 3h1v1h-1zM34 4h1v1h-1zM83 4h1v1h-1zM35 6h1v1h-1zM75 6h1v1h-1zM81 6h1v1h-1zM137 6h4v1h-4zM26 7h1v1h-1zM135 7h1v1h-1zM11 8h2v1h-2zM15 8h1v1h-1zM26 8h1v1h-1zM134 8h1v1h-1zM8 9h1v1h-1zM18 9h1v1h-1zM35 9h1v1h-1zM127 9h1v1h-1zM132 9h2v1h-2zM27 10h1v1h-1zM126 10h1v1h-1zM133 10h1v1h-1zM28 11h1v1h-1zM74 11h3v1h-3zM127 11h1v1h-1zM132 11h1v1h-1zM135 11h1v1h-1zM180 11h3v1h-3zM21 12h1v1h-1zM74 12h1v1h-1zM76 12h1v1h-1zM137 12h4v1h-4zM21 13h1v1h-1zM76 13h1v1h-1zM76 14h1v1h-1zM176 14h1v1h-1zM186 14h1v1h-1zM20 15h1v1h-1zM74 15h1v1h-1zM76 15h1v1h-1zM19 16h1v1h-1zM74 16h2v1h-2zM176 16h1v1h-1zM186 16h1v1h-1zM10 17h1v1h-1zM18 17h1v1h-1zM73 17h1v1h-1zM75 17h1v1h-1zM177 17h1v1h-1zM185 17h1v1h-1zM13 18h1v1h-1zM18 18h1v1h-1zM76 18h1v1h-1zM178 18h1v1h-1zM19 19h1v1h-1zM184 19h1v1h-1zM12 20h1v1h-1zM77 20h1v1h-1zM12 21h1v1h-1zM20 21h1v1h-1zM70 21h1v1h-1zM77 21h1v1h-1zM132 21h2v1h-2zM12 22h1v1h-1zM19 22h1v1h-1zM70 22h1v1h-1zM77 22h1v1h-1zM132 22h2v1h-2zM4 23h1v1h-1zM13 23h1v1h-1zM18 23h1v1h-1zM77 23h1v1h-1zM8 24h2v1h-2zM8 25h2v1h-2zM7 26h1v1h-1zM73 26h2v1h-2zM6 27h1v1h-1zM0 28h2v1h-2zM3 28h2v1h-2zM227 33h2v1h-2zM46 35h3v1h-3zM226 35h1v1h-1zM229 35h1v1h-1zM42 37h1v1h-1zM138 38h1v1h-1zM137 39h1v1h-1zM137 40h1v1h-1zM56 41h1v1h-1zM137 41h1v1h-1zM40 42h1v1h-1zM56 42h1v1h-1zM38 43h2v1h-2zM54 43h2v1h-2zM36 44h1v1h-1zM34 45h1v1h-1zM207 45h1v1h-1zM210 45h1v1h-1zM52 46h1v1h-1zM65 46h1v1h-1zM198 46h1v1h-1zM29 47h1v1h-1zM51 47h1v1h-1zM67 47h1v1h-1zM214 47h1v1h-1zM27 48h1v1h-1zM43 48h1v1h-1zM45 48h1v1h-1zM51 48h1v1h-1zM63 48h1v1h-1zM47 49h1v1h-1zM52 49h1v1h-1zM63 49h1v1h-1zM48 50h1v1h-1zM53 50h1v1h-1zM63 50h1v1h-1zM67 50h1v1h-1zM43 51h1v1h-1zM48 51h2v1h-2zM53 51h1v1h-1zM64 51h1v1h-1zM66 51h1v1h-1zM50 52h4v1h-4zM20 53h1v1h-1zM201 53h1v1h-1zM205 53h1v1h-1zM44 56h1v1h-1zM219 56h1v1h-1zM222 56h1v1h-1zM17 57h1v1h-1zM36 58h1v1h-1zM32 60h1v1h-1zM114 60h2v1h-2zM113 61h1v1h-1zM116 61h1v1h-1zM17 62h1v1h-1zM29 62h1v1h-1zM113 65h1v1h-1zM116 65h1v1h-1zM114 66h1v1h-1zM117 66h1v1h-1zM118 67h1v1h-1zM25 68h1v1h-1zM44 68h1v1h-1zM46 68h1v1h-1zM115 68h1v1h-1zM119 68h1v1h-1zM18 69h1v1h-1zM48 69h1v1h-1zM19 70h1v1h-1zM49 70h1v1h-1zM122 70h1v1h-1zM21 71h1v1h-1zM43 71h1v1h-1zM50 71h1v1h-1zM122 71h1v1h-1zM50 72h1v1h-1zM116 72h1v1h-1zM121 72h1v1h-1zM45 73h1v1h-1zM50 73h1v1h-1zM4 77h1v1h-1zM0 78h1v1h-1zM7 79h1v1h-1zM6 81h1v1h-1zM67 82h2v1h-2zM200 82h1v1h-1zM3 83h1v1h-1zM199 83h3v1h-3zM65 84h1v1h-1zM199 84h3v1h-3zM65 85h1v1h-1zM65 86h1v1h-1zM113 90h1v1h-1zM115 90h1v1h-1zM128 91h1v1h-1zM135 91h1v1h-1zM137 92h1v1h-1zM130 96h1v1h-1zM160 98h1v1h-1zM158 99h1v1h-1zM135 100h1v1h-1zM129 101h1v1h-1zM135 102h1v1h-1zM130 103h1v1h-1zM156 103h1v1h-1zM53 104h3v1h-3zM132 104h1v1h-1zM56 105h1v1h-1zM157 105h1v1h-1zM160 105h1v1h-1zM48 107h2v1h-2zM46 108h1v1h-1zM45 109h1v1h-1zM44 110h1v1h-1zM43 111h1v1h-1zM130 113h1v1h-1zM132 113h1v1h-1zM41 114h1v1h-1zM128 114h1v1h-1zM32 115h2v1h-2zM134 115h1v1h-1zM30 116h1v1h-1zM35 116h1v1h-1zM134 116h1v1h-1zM128 117h1v1h-1zM30 118h1v1h-1zM35 118h1v1h-1zM38 118h1v1h-1zM55 118h1v1h-1zM132 118h1v1h-1zM31 119h1v1h-1zM34 119h1v1h-1zM38 119h1v1h-1zM55 119h2v1h-2zM38 120h1v1h-1zM55 120h3v1h-3zM85 120h1v1h-1zM88 120h1v1h-1zM54 121h4v1h-4zM83 121h1v1h-1zM91 121h1v1h-1zM53 122h1v1h-1zM55 122h3v1h-3zM92 122h1v1h-1zM38 123h1v1h-1zM56 123h1v1h-1zM83 124h1v1h-1zM84 125h1v1h-1zM92 125h1v1h-1zM49 126h1v1h-1zM86 126h1v1h-1zM34 127h1v1h-1zM48 127h1v1h-1zM33 128h1v1h-1zM45 128h1v1h-1zM210 128h1v1h-1zM212 128h1v1h-1zM43 129h1v1h-1zM209 129h1v1h-1zM213 129h1v1h-1zM117 130h1v1h-1zM209 130h1v1h-1zM213 130h1v1h-1zM118 131h1v1h-1zM211 131h1v1h-1zM90 134h1v1h-1zM93 134h1v1h-1zM35 135h1v1h-1zM38 135h1v1h-1zM88 135h1v1h-1zM96 135h1v1h-1zM109 135h1v1h-1zM100 136h1v1h-1zM108 136h1v1h-1zM119 136h1v1h-1zM104 137h1v1h-1zM107 137h1v1h-1zM86 138h1v1h-1zM83 140h1v1h-1zM80 142h1v1h-1zM224 142h1v1h-1zM228 142h1v1h-1zM79 143h1v1h-1zM222 143h1v1h-1zM78 144h1v1h-1zM125 144h1v1h-1zM77 145h1v1h-1zM132 145h1v1h-1zM136 145h1v1h-1zM217 145h1v1h-1zM118 146h1v1h-1zM130 146h1v1h-1zM137 146h1v1h-1zM130 148h1v1h-1zM137 148h1v1h-1zM218 148h3v1h-3zM232 148h1v1h-1zM54 149h1v1h-1zM57 149h3v1h-3zM131 149h1v1h-1zM136 149h1v1h-1zM221 149h1v1h-1zM231 149h1v1h-1zM51 150h1v1h-1zM62 150h1v1h-1zM118 150h1v1h-1zM51 151h1v1h-1zM119 151h1v1h-1zM221 151h1v1h-1zM51 153h1v1h-1zM122 153h1v1h-1zM51 154h1v1h-1zM123 154h1v1h-1zM51 155h1v1h-1zM219 155h1v1h-1zM229 155h1v1h-1zM139 156h1v1h-1zM163 156h1v1h-1zM167 156h1v1h-1zM229 156h1v1h-1zM132 157h1v1h-1zM167 157h1v1h-1zM54 158h1v1h-1zM162 158h1v1h-1zM166 158h1v1h-1zM57 159h2v1h-2zM62 159h1v1h-1zM68 159h1v1h-1zM124 159h1v1h-1zM163 159h2v1h-2zM142 160h1v1h-1zM217 160h1v1h-1zM71 161h1v1h-1zM217 161h1v1h-1zM142 162h1v1h-1zM186 162h1v1h-1zM217 162h1v1h-1zM56 163h1v1h-1zM59 163h1v1h-1zM120 163h1v1h-1zM229 163h1v1h-1zM114 164h3v1h-3zM132 165h1v1h-1zM218 165h1v1h-1zM228 165h1v1h-1zM51 166h1v1h-1zM139 166h1v1h-1zM49 167h1v1h-1zM59 168h1v1h-1zM183 168h1v1h-1zM221 168h1v1h-1zM176 169h2v1h-2zM180 169h1v1h-1zM58 170h1v1h-1zM80 170h1v1h-1zM111 170h1v1h-1zM166 170h3v1h-3zM164 171h1v1h-1zM171 171h1v1h-1zM45 172h1v1h-1zM83 172h1v1h-1zM169 172h1v1h-1zM45 173h1v1h-1zM85 173h1v1h-1zM109 173h1v1h-1zM54 174h1v1h-1zM88 174h1v1h-1zM169 174h1v1h-1zM47 175h1v1h-1zM51 175h1v1h-1zM107 175h1v1h-1zM164 175h1v1h-1zM197 175h1v1h-1zM201 175h1v1h-1zM107 176h1v1h-1zM166 176h2v1h-2zM203 176h1v1h-1zM203 177h1v1h-1zM73 178h1v1h-1zM77 178h1v1h-1zM107 178h1v1h-1zM196 178h1v1h-1zM202 178h1v1h-1zM107 179h1v1h-1zM95 180h1v1h-1zM106 181h1v1h-1zM38 182h2v1h-2zM41 182h1v1h-1zM96 182h1v1h-1zM93 183h1v1h-1zM96 183h2v1h-2zM34 184h1v1h-1zM91 184h1v1h-1zM96 184h1v1h-1zM100 184h3v1h-3zM32 185h1v1h-1zM90 185h1v1h-1zM96 185h1v1h-1zM27 186h1v1h-1zM56 186h1v1h-1zM95 186h1v1h-1zM25 187h1v1h-1zM41 187h1v1h-1zM56 187h2v1h-2zM89 187h1v1h-1zM94 187h1v1h-1zM90 188h2v1h-2zM21 191h1v1h-1zM37 191h1v1h-1zM21 194h1v1h-1zM33 195h1v1h-1zM23 196h1v1h-1zM31 196h1v1h-1zM144 198h2v1h-2zM219 205h1v1h-1zM117 206h2v1h-2zM119 207h1v1h-1zM183 208h2v1h-2zM183 209h1v1h-1zM182 210h1v1h-1zM177 211h1v1h-1zM117 212h1v1h-1zM120 212h1v1h-1zM120 213h1v1h-1zM118 214h1v1h-1zM120 214h1v1h-1zM118 215h1v1h-1zM121 215h1v1h-1zM118 216h1v1h-1zM121 216h1v1h-1zM177 216h1v1h-1zM119 217h2v1h-2zM181 217h1v1h-1zM48 218h1v1h-1zM150 218h1v1h-1zM152 218h2v1h-2zM48 219h1v1h-1zM102 219h1v1h-1zM148 219h1v1h-1zM48 220h1v1h-1zM53 220h1v1h-1zM52 221h1v1h-1zM99 221h1v1h-1zM48 222h2v1h-2zM98 222h4v1h-4zM215 222h3v1h-3zM48 223h1v1h-1zM91 223h1v1h-1zM48 224h1v1h-1zM90 224h1v1h-1zM100 224h1v1h-1zM101 226h1v1h-1zM89 227h1v1h-1zM147 227h1v1h-1zM89 228h1v1h-1zM148 228h1v1h-1zM208 228h1v1h-1zM66 229h1v1h-1zM72 229h1v1h-1zM101 229h1v1h-1zM150 229h3v1h-3zM208 229h1v1h-1zM65 230h1v1h-1zM73 230h1v1h-1zM208 230h1v1h-1zM100 231h1v1h-1zM217 231h1v1h-1zM234 231h1v1h-1zM64 232h1v1h-1zM74 232h1v1h-1zM99 232h1v1h-1zM233 232h1v1h-1zM77 233h1v1h-1zM94 233h1v1h-1zM97 233h1v1h-1zM64 234h1v1h-1zM75 234h1v1h-1zM79 234h1v1h-1zM211 234h1v1h-1zM214 234h1v1h-1zM76 235h3v1h-3z"/>
<path fill="#c6e1f1" d="M78 2h2v1h-2zM29 3h1v1h-1zM32 3h1v1h-1zM76 3h1v1h-1zM82 3h1v1h-1zM75 4h1v1h-1zM82 4h1v1h-1zM75 5h1v1h-1zM82 5h1v1h-1zM76 6h1v1h-1zM80 6h1v1h-1zM35 7h1v1h-1zM136 7h1v1h-1zM142 7h1v1h-1zM13 8h2v1h-2zM35 8h1v1h-1zM135 8h1v1h-1zM143 8h1v1h-1zM128 9h4v1h-4zM134 9h1v1h-1zM143 9h1v1h-1zM7 10h1v1h-1zM19 10h1v1h-1zM34 10h1v1h-1zM127 10h2v1h-2zM131 10h2v1h-2zM134 10h1v1h-1zM143 10h1v1h-1zM6 11h1v1h-1zM20 11h1v1h-1zM33 11h1v1h-1zM128 11h4v1h-4zM136 11h1v1h-1zM142 11h1v1h-1zM75 12h1v1h-1zM184 12h1v1h-1zM74 13h2v1h-2zM6 14h1v1h-1zM74 14h2v1h-2zM75 15h1v1h-1zM176 15h1v1h-1zM186 15h1v1h-1zM8 16h1v1h-1zM11 17h1v1h-1zM17 17h1v1h-1zM74 17h1v1h-1zM14 18h4v1h-4zM72 18h1v1h-1zM184 18h1v1h-1zM13 19h2v1h-2zM18 19h1v1h-1zM71 19h1v1h-1zM76 19h1v1h-1zM179 19h1v1h-1zM13 20h1v1h-1zM19 20h1v1h-1zM180 20h1v1h-1zM183 20h1v1h-1zM13 21h1v1h-1zM19 21h1v1h-1zM13 22h1v1h-1zM18 22h1v1h-1zM0 23h4v1h-4zM14 23h4v1h-4zM6 24h2v1h-2zM71 24h1v1h-1zM7 25h1v1h-1zM72 25h1v1h-1zM75 25h1v1h-1zM6 26h1v1h-1zM5 27h1v1h-1zM2 28h1v1h-1zM226 34h1v1h-1zM229 34h1v1h-1zM227 35h2v1h-2zM142 38h1v1h-1zM41 39h1v1h-1zM53 39h1v1h-1zM143 39h1v1h-1zM54 41h2v1h-2zM143 41h1v1h-1zM55 42h1v1h-1zM138 42h2v1h-2zM142 42h1v1h-1zM40 43h1v1h-1zM37 44h1v1h-1zM53 44h1v1h-1zM35 45h1v1h-1zM208 45h2v1h-2zM32 46h1v1h-1zM204 46h1v1h-1zM43 47h1v1h-1zM64 47h3v1h-3zM197 47h1v1h-1zM46 48h1v1h-1zM50 48h1v1h-1zM64 48h1v1h-1zM66 48h2v1h-2zM48 49h4v1h-4zM64 49h1v1h-1zM66 49h2v1h-2zM24 50h1v1h-1zM49 50h4v1h-4zM64 50h3v1h-3zM50 51h3v1h-3zM65 51h1v1h-1zM197 51h1v1h-1zM214 51h1v1h-1zM198 52h1v1h-1zM213 52h1v1h-1zM44 53h1v1h-1zM211 53h1v1h-1zM44 54h1v1h-1zM44 55h1v1h-1zM18 56h1v1h-1zM43 57h1v1h-1zM219 57h1v1h-1zM222 57h1v1h-1zM17 58h1v1h-1zM35 58h1v1h-1zM37 58h1v1h-1zM42 58h1v1h-1zM219 58h1v1h-1zM222 58h1v1h-1zM220 59h1v1h-1zM17 61h1v1h-1zM114 61h2v1h-2zM113 62h1v1h-1zM116 62h1v1h-1zM25 63h1v1h-1zM116 63h1v1h-1zM25 64h1v1h-1zM113 64h1v1h-1zM116 64h1v1h-1zM25 65h1v1h-1zM114 65h2v1h-2zM115 66h2v1h-2zM25 67h1v1h-1zM115 67h3v1h-3zM18 68h1v1h-1zM45 68h1v1h-1zM116 68h1v1h-1zM118 68h1v1h-1zM43 69h1v1h-1zM116 69h1v1h-1zM121 69h1v1h-1zM23 70h1v1h-1zM43 70h1v1h-1zM116 70h1v1h-1zM116 71h1v1h-1zM44 72h1v1h-1zM117 72h1v1h-1zM120 72h1v1h-1zM46 73h1v1h-1zM49 73h1v1h-1zM1 78h1v1h-1zM6 78h1v1h-1zM2 83h1v1h-1zM66 83h1v1h-1zM70 84h1v1h-1zM70 85h1v1h-1zM70 86h1v1h-1zM66 87h1v1h-1zM69 87h1v1h-1zM114 90h1v1h-1zM112 91h1v1h-1zM116 91h1v1h-1zM129 91h1v1h-1zM128 92h1v1h-1zM128 93h1v1h-1zM137 93h1v1h-1zM112 94h1v1h-1zM116 94h1v1h-1zM129 94h1v1h-1zM137 94h1v1h-1zM113 95h1v1h-1zM115 95h1v1h-1zM136 95h1v1h-1zM134 96h1v1h-1zM130 97h1v1h-1zM130 98h1v1h-1zM161 98h2v1h-2zM130 99h1v1h-1zM163 99h1v1h-1zM135 101h1v1h-1zM157 101h1v1h-1zM163 102h1v1h-1zM134 103h1v1h-1zM161 104h1v1h-1zM158 105h2v1h-2zM51 106h1v1h-1zM50 107h1v1h-1zM47 108h2v1h-2zM56 109h1v1h-1zM55 110h1v1h-1zM55 111h1v1h-1zM43 112h1v1h-1zM55 112h1v1h-1zM42 113h1v1h-1zM55 113h1v1h-1zM131 113h1v1h-1zM55 114h1v1h-1zM133 114h1v1h-1zM41 115h1v1h-1zM55 115h1v1h-1zM31 116h1v1h-1zM34 116h1v1h-1zM40 116h1v1h-1zM55 116h1v1h-1zM30 117h1v1h-1zM35 117h1v1h-1zM39 117h1v1h-1zM55 117h1v1h-1zM34 118h1v1h-1zM39 118h1v1h-1zM130 118h2v1h-2zM32 119h2v1h-2zM54 120h1v1h-1zM86 120h2v1h-2zM39 121h1v1h-1zM39 122h1v1h-1zM83 122h1v1h-1zM52 123h1v1h-1zM83 123h1v1h-1zM38 124h1v1h-1zM51 124h1v1h-1zM50 125h1v1h-1zM37 126h1v1h-1zM87 126h4v1h-4zM47 127h1v1h-1zM44 128h1v1h-1zM211 128h1v1h-1zM42 129h1v1h-1zM210 129h3v1h-3zM114 130h1v1h-1zM116 130h1v1h-1zM210 130h3v1h-3zM113 131h1v1h-1zM40 132h1v1h-1zM33 133h1v1h-1zM112 133h1v1h-1zM39 134h1v1h-1zM91 134h2v1h-2zM36 135h2v1h-2zM95 135h1v1h-1zM98 136h2v1h-2zM87 137h1v1h-1zM102 137h2v1h-2zM120 137h1v1h-1zM124 137h1v1h-1zM105 138h2v1h-2zM126 138h1v1h-1zM85 139h1v1h-1zM127 139h1v1h-1zM82 141h1v1h-1zM81 142h1v1h-1zM225 142h3v1h-3zM230 143h1v1h-1zM119 144h2v1h-2zM124 144h1v1h-1zM221 144h1v1h-1zM133 145h3v1h-3zM218 145h3v1h-3zM232 145h1v1h-1zM131 146h1v1h-1zM136 146h1v1h-1zM217 146h1v1h-1zM232 146h1v1h-1zM130 147h1v1h-1zM137 147h1v1h-1zM217 147h2v1h-2zM232 147h1v1h-1zM52 149h2v1h-2zM74 149h1v1h-1zM117 149h1v1h-1zM132 149h1v1h-1zM135 149h1v1h-1zM60 150h2v1h-2zM73 150h1v1h-1zM67 151h1v1h-1zM229 151h1v1h-1zM52 152h1v1h-1zM52 153h1v1h-1zM71 153h1v1h-1zM220 154h1v1h-1zM229 154h1v1h-1zM52 155h1v1h-1zM165 155h2v1h-2zM52 156h1v1h-1zM124 156h1v1h-1zM134 156h1v1h-1zM53 157h1v1h-1zM124 157h1v1h-1zM140 157h1v1h-1zM218 157h1v1h-1zM229 157h1v1h-1zM55 158h1v1h-1zM124 158h1v1h-1zM141 158h1v1h-1zM63 159h1v1h-1zM70 159h1v1h-1zM131 159h1v1h-1zM142 161h1v1h-1zM177 161h1v1h-1zM184 161h1v1h-1zM72 162h1v1h-1zM229 162h1v1h-1zM57 163h2v1h-2zM131 163h1v1h-1zM56 164h1v1h-1zM59 164h1v1h-1zM112 164h1v1h-1zM141 164h1v1h-1zM55 165h1v1h-1zM59 165h1v1h-1zM140 165h1v1h-1zM186 165h1v1h-1zM59 166h1v1h-1zM134 166h1v1h-1zM172 166h1v1h-1zM227 166h1v1h-1zM59 167h1v1h-1zM170 167h1v1h-1zM226 167h1v1h-1zM169 168h1v1h-1zM222 168h3v1h-3zM79 169h1v1h-1zM111 169h1v1h-1zM174 169h1v1h-1zM178 169h2v1h-2zM46 170h1v1h-1zM173 170h1v1h-1zM169 171h2v1h-2zM55 173h1v1h-1zM169 173h1v1h-1zM46 174h1v1h-1zM48 175h3v1h-3zM95 175h1v1h-1zM168 175h1v1h-1zM198 175h3v1h-3zM74 176h1v1h-1zM76 176h1v1h-1zM196 176h1v1h-1zM202 176h1v1h-1zM73 177h1v1h-1zM77 177h1v1h-1zM107 177h1v1h-1zM196 177h1v1h-1zM202 177h1v1h-1zM197 178h5v1h-5zM95 179h1v1h-1zM40 182h1v1h-1zM105 182h1v1h-1zM36 183h1v1h-1zM42 183h1v1h-1zM94 183h2v1h-2zM104 183h1v1h-1zM42 184h1v1h-1zM33 185h1v1h-1zM42 185h1v1h-1zM28 186h1v1h-1zM90 187h1v1h-1zM93 187h1v1h-1zM24 188h1v1h-1zM38 189h1v1h-1zM22 190h1v1h-1zM21 192h1v1h-1zM36 192h1v1h-1zM21 193h1v1h-1zM34 194h1v1h-1zM22 195h1v1h-1zM24 196h1v1h-1zM30 196h1v1h-1zM221 204h4v1h-4zM226 205h1v1h-1zM219 206h1v1h-1zM226 206h1v1h-1zM116 207h1v1h-1zM220 207h1v1h-1zM225 207h1v1h-1zM119 208h1v1h-1zM119 209h1v1h-1zM116 210h1v1h-1zM119 210h1v1h-1zM179 210h3v1h-3zM117 211h1v1h-1zM119 211h1v1h-1zM118 212h2v1h-2zM183 212h1v1h-1zM118 213h2v1h-2zM119 214h1v1h-1zM50 215h1v1h-1zM52 215h1v1h-1zM119 215h2v1h-2zM183 215h1v1h-1zM49 216h1v1h-1zM53 216h1v1h-1zM119 216h2v1h-2zM179 217h2v1h-2zM151 218h1v1h-1zM100 219h2v1h-2zM154 219h1v1h-1zM99 220h1v1h-1zM102 220h1v1h-1zM147 220h1v1h-1zM49 221h1v1h-1zM102 221h1v1h-1zM156 221h1v1h-1zM93 222h1v1h-1zM97 222h1v1h-1zM146 222h1v1h-1zM99 223h1v1h-1zM146 223h1v1h-1zM218 223h1v1h-1zM146 224h1v1h-1zM219 224h1v1h-1zM90 225h1v1h-1zM146 225h1v1h-1zM211 225h1v1h-1zM219 225h1v1h-1zM156 226h1v1h-1zM219 226h1v1h-1zM101 227h1v1h-1zM101 228h1v1h-1zM154 228h1v1h-1zM217 229h1v1h-1zM90 230h1v1h-1zM217 230h1v1h-1zM235 231h1v1h-1zM92 232h1v1h-1zM209 232h1v1h-1zM64 233h1v1h-1zM74 233h1v1h-1zM95 233h2v1h-2zM210 233h1v1h-1zM233 233h1v1h-1zM74 234h1v1h-1zM76 234h3v1h-3zM212 234h2v1h-2zM233 234h1v1h-1z"/>
<path fill="#c4dcf2" d="M192 0h1v1h-1zM191 1h1v1h-1zM30 3h2v1h-2zM77 3h5v1h-5zM28 4h1v1h-1zM76 4h1v1h-1zM81 4h1v1h-1zM27 5h1v1h-1zM76 5h1v1h-1zM81 5h1v1h-1zM77 6h3v1h-3zM137 7h5v1h-5zM136 8h1v1h-1zM142 8h1v1h-1zM9 9h1v1h-1zM17 9h1v1h-1zM135 9h1v1h-1zM142 9h1v1h-1zM129 10h2v1h-2zM135 10h1v1h-1zM142 10h1v1h-1zM29 11h1v1h-1zM137 11h5v1h-5zM6 12h1v1h-1zM20 12h1v1h-1zM178 12h1v1h-1zM6 13h1v1h-1zM177 13h1v1h-1zM185 13h1v1h-1zM20 14h1v1h-1zM7 15h1v1h-1zM19 15h1v1h-1zM18 16h1v1h-1zM12 17h1v1h-1zM15 17h2v1h-2zM73 18h1v1h-1zM75 18h1v1h-1zM179 18h1v1h-1zM15 19h3v1h-3zM14 20h5v1h-5zM14 21h5v1h-5zM14 22h4v1h-4zM4 24h2v1h-2zM76 24h1v1h-1zM5 25h2v1h-2zM73 25h2v1h-2zM5 26h1v1h-1zM0 27h1v1h-1zM4 27h1v1h-1zM227 34h2v1h-2zM44 36h1v1h-1zM50 36h1v1h-1zM139 38h3v1h-3zM138 39h1v1h-1zM138 40h1v1h-1zM143 40h1v1h-1zM138 41h1v1h-1zM54 42h1v1h-1zM140 42h2v1h-2zM38 44h3v1h-3zM36 45h1v1h-1zM33 46h1v1h-1zM199 46h1v1h-1zM203 46h1v1h-1zM205 46h1v1h-1zM212 46h1v1h-1zM30 47h1v1h-1zM42 47h1v1h-1zM28 48h1v1h-1zM42 48h1v1h-1zM47 48h3v1h-3zM65 48h1v1h-1zM197 48h1v1h-1zM214 48h1v1h-1zM26 49h1v1h-1zM42 49h1v1h-1zM65 49h1v1h-1zM42 50h1v1h-1zM197 50h1v1h-1zM23 51h1v1h-1zM42 51h1v1h-1zM22 52h1v1h-1zM43 52h1v1h-1zM199 52h1v1h-1zM203 52h1v1h-1zM21 53h1v1h-1zM206 53h1v1h-1zM20 54h1v1h-1zM19 55h1v1h-1zM220 56h2v1h-2zM38 58h1v1h-1zM40 58h2v1h-2zM17 59h1v1h-1zM33 59h1v1h-1zM221 59h1v1h-1zM17 60h1v1h-1zM30 61h1v1h-1zM18 62h1v1h-1zM28 62h1v1h-1zM114 62h2v1h-2zM18 63h1v1h-1zM113 63h3v1h-3zM18 64h1v1h-1zM114 64h2v1h-2zM25 66h1v1h-1zM18 67h1v1h-1zM117 68h1v1h-1zM24 69h1v1h-1zM44 69h1v1h-1zM46 69h2v1h-2zM117 69h4v1h-4zM20 70h1v1h-1zM48 70h1v1h-1zM117 70h1v1h-1zM121 70h1v1h-1zM44 71h1v1h-1zM49 71h1v1h-1zM117 71h1v1h-1zM121 71h1v1h-1zM45 72h1v1h-1zM49 72h1v1h-1zM118 72h2v1h-2zM47 73h2v1h-2zM2 78h1v1h-1zM5 78h1v1h-1zM6 79h1v1h-1zM6 80h1v1h-1zM5 81h1v1h-1zM4 82h1v1h-1zM0 83h2v1h-2zM69 83h1v1h-1zM67 87h2v1h-2zM113 91h1v1h-1zM115 91h1v1h-1zM130 91h1v1h-1zM134 91h1v1h-1zM112 92h1v1h-1zM116 92h1v1h-1zM136 92h1v1h-1zM112 93h1v1h-1zM116 93h1v1h-1zM130 94h1v1h-1zM114 95h1v1h-1zM131 95h1v1h-1zM134 95h2v1h-2zM131 96h1v1h-1zM134 97h1v1h-1zM134 98h1v1h-1zM134 99h1v1h-1zM159 99h1v1h-1zM130 100h1v1h-1zM158 100h1v1h-1zM163 100h1v1h-1zM163 101h1v1h-1zM130 102h1v1h-1zM157 102h1v1h-1zM131 103h1v1h-1zM133 103h1v1h-1zM157 103h1v1h-1zM162 103h1v1h-1zM157 104h1v1h-1zM52 105h1v1h-1zM55 105h1v1h-1zM56 106h1v1h-1zM51 107h1v1h-1zM49 108h2v1h-2zM56 108h1v1h-1zM46 109h2v1h-2zM45 110h1v1h-1zM44 111h1v1h-1zM54 111h1v1h-1zM42 114h1v1h-1zM129 114h1v1h-1zM128 115h1v1h-1zM32 116h2v1h-2zM41 116h1v1h-1zM128 116h1v1h-1zM31 117h4v1h-4zM40 117h1v1h-1zM133 117h1v1h-1zM31 118h3v1h-3zM54 118h1v1h-1zM39 119h1v1h-1zM54 119h1v1h-1zM39 120h1v1h-1zM53 121h1v1h-1zM84 121h1v1h-1zM90 121h1v1h-1zM52 122h1v1h-1zM92 123h1v1h-1zM84 124h1v1h-1zM92 124h1v1h-1zM38 125h1v1h-1zM85 125h1v1h-1zM91 125h1v1h-1zM48 126h1v1h-1zM35 127h1v1h-1zM45 127h2v1h-2zM33 129h1v1h-1zM40 129h2v1h-2zM40 130h1v1h-1zM115 130h1v1h-1zM40 131h1v1h-1zM33 132h1v1h-1zM118 132h1v1h-1zM34 134h1v1h-1zM111 134h1v1h-1zM89 135h1v1h-1zM94 135h1v1h-1zM88 136h1v1h-1zM96 136h2v1h-2zM101 137h1v1h-1zM119 137h1v1h-1zM121 137h3v1h-3zM87 138h1v1h-1zM104 138h1v1h-1zM86 139h1v1h-1zM84 140h1v1h-1zM83 141h1v1h-1zM127 142h1v1h-1zM80 143h1v1h-1zM126 143h1v1h-1zM223 143h1v1h-1zM79 144h1v1h-1zM121 144h1v1h-1zM123 144h1v1h-1zM231 144h1v1h-1zM78 145h1v1h-1zM221 145h1v1h-1zM77 146h1v1h-1zM132 146h2v1h-2zM135 146h1v1h-1zM218 146h3v1h-3zM76 147h1v1h-1zM131 147h1v1h-1zM136 147h1v1h-1zM219 147h2v1h-2zM75 148h1v1h-1zM117 148h1v1h-1zM131 148h2v1h-2zM135 148h2v1h-2zM221 148h1v1h-1zM231 148h1v1h-1zM133 149h2v1h-2zM222 149h1v1h-1zM230 149h1v1h-1zM52 150h8v1h-8zM117 150h1v1h-1zM222 150h1v1h-1zM229 150h1v1h-1zM52 151h2v1h-2zM61 151h6v1h-6zM118 151h1v1h-1zM53 152h1v1h-1zM69 152h1v1h-1zM72 152h1v1h-1zM120 152h1v1h-1zM221 152h1v1h-1zM229 152h1v1h-1zM70 153h1v1h-1zM229 153h1v1h-1zM52 154h1v1h-1zM53 156h1v1h-1zM138 156h1v1h-1zM164 156h1v1h-1zM166 156h1v1h-1zM54 157h1v1h-1zM163 157h1v1h-1zM166 157h1v1h-1zM56 158h6v1h-6zM70 158h1v1h-1zM163 158h3v1h-3zM229 158h1v1h-1zM64 159h1v1h-1zM67 159h1v1h-1zM229 159h1v1h-1zM123 160h1v1h-1zM131 160h1v1h-1zM229 160h1v1h-1zM229 161h1v1h-1zM121 162h1v1h-1zM131 162h1v1h-1zM175 162h1v1h-1zM185 162h1v1h-1zM73 163h1v1h-1zM119 163h1v1h-1zM174 163h1v1h-1zM186 163h1v1h-1zM57 164h2v1h-2zM74 164h1v1h-1zM173 164h1v1h-1zM186 164h1v1h-1zM218 164h1v1h-1zM228 164h1v1h-1zM56 165h1v1h-1zM58 165h1v1h-1zM75 165h1v1h-1zM52 166h2v1h-2zM76 166h1v1h-1zM111 166h1v1h-1zM138 166h1v1h-1zM219 166h1v1h-1zM50 167h1v1h-1zM77 167h1v1h-1zM111 167h1v1h-1zM184 167h1v1h-1zM220 167h1v1h-1zM48 168h1v1h-1zM58 168h1v1h-1zM78 168h1v1h-1zM111 168h1v1h-1zM182 168h1v1h-1zM47 169h1v1h-1zM58 169h1v1h-1zM169 170h1v1h-1zM46 171h1v1h-1zM57 171h1v1h-1zM82 171h1v1h-1zM110 171h1v1h-1zM165 171h1v1h-1zM168 171h1v1h-1zM56 172h1v1h-1zM164 172h1v1h-1zM46 173h1v1h-1zM86 173h1v1h-1zM47 174h1v1h-1zM53 174h1v1h-1zM89 174h2v1h-2zM94 174h2v1h-2zM107 174h1v1h-1zM164 174h1v1h-1zM165 175h1v1h-1zM75 176h1v1h-1zM95 176h1v1h-1zM197 176h5v1h-5zM95 177h1v1h-1zM197 177h5v1h-5zM74 178h3v1h-3zM95 178h1v1h-1zM106 180h1v1h-1zM96 181h1v1h-1zM37 183h1v1h-1zM41 183h1v1h-1zM98 183h1v1h-1zM103 183h1v1h-1zM35 184h1v1h-1zM92 184h4v1h-4zM91 185h1v1h-1zM95 185h1v1h-1zM29 186h2v1h-2zM41 186h1v1h-1zM90 186h1v1h-1zM94 186h1v1h-1zM26 187h1v1h-1zM40 187h1v1h-1zM91 187h2v1h-2zM39 188h1v1h-1zM23 189h1v1h-1zM37 190h1v1h-1zM35 193h1v1h-1zM22 194h1v1h-1zM23 195h1v1h-1zM32 195h1v1h-1zM25 196h5v1h-5zM220 205h1v1h-1zM225 205h1v1h-1zM220 206h1v1h-1zM117 207h2v1h-2zM221 207h1v1h-1zM224 207h1v1h-1zM116 208h1v1h-1zM116 209h1v1h-1zM117 210h2v1h-2zM118 211h1v1h-1zM182 211h1v1h-1zM177 212h1v1h-1zM183 213h1v1h-1zM183 214h1v1h-1zM51 215h1v1h-1zM177 215h1v1h-1zM178 216h1v1h-1zM182 216h1v1h-1zM53 217h1v1h-1zM53 219h1v1h-1zM149 219h1v1h-1zM49 220h1v1h-1zM100 220h2v1h-2zM155 220h1v1h-1zM50 221h2v1h-2zM100 221h2v1h-2zM147 221h1v1h-1zM94 222h3v1h-3zM156 222h1v1h-1zM92 223h1v1h-1zM214 223h1v1h-1zM91 224h1v1h-1zM213 224h1v1h-1zM100 225h1v1h-1zM156 225h1v1h-1zM212 225h1v1h-1zM147 226h1v1h-1zM210 226h1v1h-1zM155 227h1v1h-1zM209 227h1v1h-1zM218 227h1v1h-1zM149 228h1v1h-1zM217 228h1v1h-1zM67 229h1v1h-1zM71 229h1v1h-1zM90 229h1v1h-1zM100 230h1v1h-1zM65 231h1v1h-1zM73 231h1v1h-1zM91 231h1v1h-1zM99 231h1v1h-1zM98 232h1v1h-1zM216 232h1v1h-1zM215 233h1v1h-1zM65 235h1v1h-1zM73 235h1v1h-1z"/>
<path fill="#c2d6f3" d="M187 0h1v1h-1zM188 1h1v1h-1zM33 4h1v1h-1zM77 4h4v1h-4zM34 5h1v1h-1zM77 5h4v1h-4zM137 8h5v1h-5zM10 9h1v1h-1zM16 9h1v1h-1zM27 9h1v1h-1zM136 9h3v1h-3zM140 9h2v1h-2zM8 10h1v1h-1zM18 10h1v1h-1zM136 10h6v1h-6zM7 11h1v1h-1zM19 11h1v1h-1zM30 11h1v1h-1zM32 11h1v1h-1zM179 12h1v1h-1zM183 12h1v1h-1zM20 13h1v1h-1zM7 14h1v1h-1zM177 14h1v1h-1zM185 14h1v1h-1zM9 16h1v1h-1zM17 16h1v1h-1zM177 16h1v1h-1zM185 16h1v1h-1zM13 17h2v1h-2zM178 17h1v1h-1zM184 17h1v1h-1zM74 18h1v1h-1zM72 19h1v1h-1zM75 19h1v1h-1zM180 19h1v1h-1zM183 19h1v1h-1zM71 20h1v1h-1zM76 20h1v1h-1zM181 20h2v1h-2zM71 21h1v1h-1zM76 21h1v1h-1zM71 22h1v1h-1zM76 22h1v1h-1zM71 23h1v1h-1zM76 23h1v1h-1zM0 24h4v1h-4zM72 24h1v1h-1zM75 24h1v1h-1zM0 25h5v1h-5zM0 26h5v1h-5zM1 27h3v1h-3zM43 37h1v1h-1zM51 37h1v1h-1zM42 38h1v1h-1zM52 38h1v1h-1zM139 39h4v1h-4zM41 40h1v1h-1zM53 40h1v1h-1zM139 40h1v1h-1zM141 40h2v1h-2zM139 41h4v1h-4zM53 43h1v1h-1zM41 44h1v1h-1zM37 45h5v1h-5zM52 45h1v1h-1zM34 46h1v1h-1zM41 46h2v1h-2zM51 46h1v1h-1zM200 46h3v1h-3zM31 47h1v1h-1zM41 47h1v1h-1zM44 47h1v1h-1zM50 47h1v1h-1zM198 47h1v1h-1zM213 47h1v1h-1zM197 49h1v1h-1zM214 49h1v1h-1zM25 50h1v1h-1zM214 50h1v1h-1zM198 51h1v1h-1zM200 52h3v1h-3zM204 52h1v1h-1zM43 53h1v1h-1zM207 53h4v1h-4zM43 56h1v1h-1zM18 57h1v1h-1zM42 57h1v1h-1zM220 57h2v1h-2zM18 58h1v1h-1zM34 58h1v1h-1zM39 58h1v1h-1zM220 58h2v1h-2zM18 60h1v1h-1zM31 60h1v1h-1zM18 61h1v1h-1zM27 62h1v1h-1zM24 63h1v1h-1zM18 65h1v1h-1zM18 66h1v1h-1zM24 68h1v1h-1zM19 69h1v1h-1zM45 69h1v1h-1zM21 70h2v1h-2zM44 70h4v1h-4zM118 70h3v1h-3zM45 71h1v1h-1zM47 71h2v1h-2zM118 71h3v1h-3zM46 72h3v1h-3zM3 78h2v1h-2zM0 79h1v1h-1zM5 79h1v1h-1zM5 80h1v1h-1zM3 82h1v1h-1zM67 83h2v1h-2zM66 84h1v1h-1zM69 84h1v1h-1zM66 85h1v1h-1zM66 86h1v1h-1zM69 86h1v1h-1zM114 91h1v1h-1zM131 91h3v1h-3zM113 92h3v1h-3zM129 92h1v1h-1zM135 92h1v1h-1zM113 93h1v1h-1zM115 93h1v1h-1zM129 93h1v1h-1zM136 93h1v1h-1zM113 94h3v1h-3zM136 94h1v1h-1zM132 95h2v1h-2zM132 96h2v1h-2zM131 97h1v1h-1zM133 97h1v1h-1zM131 98h1v1h-1zM131 99h1v1h-1zM133 99h1v1h-1zM160 99h3v1h-3zM134 100h1v1h-1zM130 101h1v1h-1zM134 101h1v1h-1zM134 102h1v1h-1zM162 102h1v1h-1zM132 103h1v1h-1zM161 103h1v1h-1zM158 104h3v1h-3zM53 105h2v1h-2zM52 106h1v1h-1zM56 107h1v1h-1zM51 108h1v1h-1zM48 109h3v1h-3zM55 109h1v1h-1zM46 110h1v1h-1zM54 110h1v1h-1zM45 111h1v1h-1zM44 112h1v1h-1zM54 112h1v1h-1zM43 113h1v1h-1zM54 113h1v1h-1zM54 114h1v1h-1zM130 114h1v1h-1zM132 114h1v1h-1zM42 115h1v1h-1zM54 115h1v1h-1zM133 115h1v1h-1zM54 116h1v1h-1zM133 116h1v1h-1zM41 117h1v1h-1zM54 117h1v1h-1zM129 117h1v1h-1zM132 117h1v1h-1zM40 118h1v1h-1zM40 119h1v1h-1zM53 119h1v1h-1zM40 120h1v1h-1zM53 120h1v1h-1zM40 121h1v1h-1zM52 121h1v1h-1zM85 121h1v1h-1zM89 121h1v1h-1zM84 122h1v1h-1zM91 122h1v1h-1zM39 123h1v1h-1zM51 123h1v1h-1zM50 124h1v1h-1zM49 125h1v1h-1zM86 125h1v1h-1zM38 126h1v1h-1zM47 126h1v1h-1zM36 127h3v1h-3zM34 128h1v1h-1zM43 128h1v1h-1zM33 130h1v1h-1zM33 131h1v1h-1zM114 131h1v1h-1zM117 131h1v1h-1zM113 132h1v1h-1zM39 133h1v1h-1zM118 133h1v1h-1zM35 134h1v1h-1zM38 134h1v1h-1zM118 134h1v1h-1zM90 135h1v1h-1zM93 135h1v1h-1zM110 135h1v1h-1zM118 135h1v1h-1zM95 136h1v1h-1zM88 137h1v1h-1zM98 137h3v1h-3zM108 137h1v1h-1zM103 138h1v1h-1zM107 138h1v1h-1zM105 139h1v1h-1zM85 140h1v1h-1zM127 140h1v1h-1zM127 141h1v1h-1zM82 142h1v1h-1zM81 143h1v1h-1zM224 143h1v1h-1zM229 143h1v1h-1zM80 144h1v1h-1zM122 144h1v1h-1zM222 144h1v1h-1zM230 144h1v1h-1zM118 145h1v1h-1zM231 145h1v1h-1zM134 146h1v1h-1zM221 146h1v1h-1zM117 147h1v1h-1zM132 147h4v1h-4zM221 147h1v1h-1zM231 147h1v1h-1zM133 148h2v1h-2zM54 151h3v1h-3zM59 151h2v1h-2zM117 151h1v1h-1zM54 152h1v1h-1zM53 153h1v1h-1zM121 153h1v1h-1zM221 153h1v1h-1zM53 154h1v1h-1zM71 154h1v1h-1zM53 155h1v1h-1zM123 155h1v1h-1zM54 156h1v1h-1zM135 156h3v1h-3zM165 156h1v1h-1zM219 156h1v1h-1zM55 157h5v1h-5zM133 157h1v1h-1zM164 157h2v1h-2zM69 158h1v1h-1zM132 158h1v1h-1zM218 158h1v1h-1zM65 159h2v1h-2zM141 159h1v1h-1zM71 160h1v1h-1zM122 161h1v1h-1zM131 161h1v1h-1zM178 161h1v1h-1zM183 161h1v1h-1zM141 163h1v1h-1zM218 163h1v1h-1zM132 164h1v1h-1zM57 165h1v1h-1zM133 165h1v1h-1zM173 165h1v1h-1zM54 166h5v1h-5zM135 166h3v1h-3zM173 166h1v1h-1zM185 166h1v1h-1zM58 167h1v1h-1zM171 167h2v1h-2zM221 167h1v1h-1zM225 167h1v1h-1zM174 168h2v1h-2zM169 169h1v1h-1zM173 169h1v1h-1zM47 170h1v1h-1zM57 170h1v1h-1zM172 170h1v1h-1zM166 171h2v1h-2zM46 172h1v1h-1zM84 172h1v1h-1zM109 172h1v1h-1zM168 172h1v1h-1zM54 173h1v1h-1zM108 173h1v1h-1zM164 173h1v1h-1zM48 174h1v1h-1zM52 174h1v1h-1zM91 174h3v1h-3zM168 174h1v1h-1zM106 175h1v1h-1zM166 175h2v1h-2zM74 177h3v1h-3zM97 182h1v1h-1zM38 183h3v1h-3zM99 183h1v1h-1zM36 184h1v1h-1zM41 184h1v1h-1zM34 185h1v1h-1zM41 185h1v1h-1zM92 185h3v1h-3zM31 186h2v1h-2zM40 186h1v1h-1zM91 186h3v1h-3zM27 187h1v1h-1zM39 187h1v1h-1zM25 188h1v1h-1zM38 188h1v1h-1zM37 189h1v1h-1zM23 190h1v1h-1zM22 191h1v1h-1zM36 191h1v1h-1zM22 192h1v1h-1zM35 192h1v1h-1zM22 193h1v1h-1zM33 194h1v1h-1zM24 195h1v1h-1zM31 195h1v1h-1zM221 205h4v1h-4zM221 206h5v1h-5zM222 207h2v1h-2zM117 208h2v1h-2zM117 209h2v1h-2zM178 211h1v1h-1zM177 213h1v1h-1zM177 214h1v1h-1zM50 216h1v1h-1zM52 216h1v1h-1zM181 216h1v1h-1zM49 217h1v1h-1zM49 218h1v1h-1zM53 218h1v1h-1zM49 219h1v1h-1zM150 219h1v1h-1zM153 219h1v1h-1zM52 220h1v1h-1zM148 220h1v1h-1zM98 223h1v1h-1zM156 223h1v1h-1zM215 223h3v1h-3zM99 224h1v1h-1zM156 224h1v1h-1zM218 224h1v1h-1zM90 226h1v1h-1zM100 226h1v1h-1zM155 226h1v1h-1zM218 226h1v1h-1zM90 227h1v1h-1zM148 227h1v1h-1zM90 228h1v1h-1zM150 228h4v1h-4zM209 228h1v1h-1zM68 229h3v1h-3zM100 229h1v1h-1zM66 230h1v1h-1zM72 230h1v1h-1zM209 231h1v1h-1zM216 231h1v1h-1zM65 232h1v1h-1zM73 232h1v1h-1zM93 232h1v1h-1zM97 232h1v1h-1zM234 232h1v1h-1zM211 233h1v1h-1zM214 233h1v1h-1zM65 234h1v1h-1zM73 234h1v1h-1zM234 235h1v1h-1z"/>
<path fill="#c1cff3" d="M189 1h2v1h-2zM29 4h1v1h-1zM27 6h1v1h-1zM34 6h1v1h-1zM27 7h1v1h-1zM27 8h1v1h-1zM11 9h5v1h-5zM34 9h1v1h-1zM139 9h1v1h-1zM9 10h1v1h-1zM28 10h1v1h-1zM33 10h1v1h-1zM31 11h1v1h-1zM7 12h1v1h-1zM19 12h1v1h-1zM180 12h3v1h-3zM7 13h1v1h-1zM178 13h1v1h-1zM184 13h1v1h-1zM19 14h1v1h-1zM8 15h1v1h-1zM18 15h1v1h-1zM177 15h1v1h-1zM185 15h1v1h-1zM10 16h1v1h-1zM16 16h1v1h-1zM180 18h1v1h-1zM183 18h1v1h-1zM73 19h2v1h-2zM181 19h2v1h-2zM72 20h1v1h-1zM75 20h1v1h-1zM72 23h1v1h-1zM75 23h1v1h-1zM73 24h2v1h-2zM45 36h1v1h-1zM49 36h1v1h-1zM140 40h1v1h-1zM41 41h1v1h-1zM53 41h1v1h-1zM41 42h1v1h-1zM53 42h1v1h-1zM41 43h1v1h-1zM42 45h1v1h-1zM35 46h2v1h-2zM39 46h2v1h-2zM43 46h1v1h-1zM206 46h1v1h-1zM211 46h1v1h-1zM32 47h1v1h-1zM45 47h1v1h-1zM49 47h1v1h-1zM29 48h1v1h-1zM41 48h1v1h-1zM27 49h1v1h-1zM41 49h1v1h-1zM41 50h1v1h-1zM24 51h1v1h-1zM41 51h1v1h-1zM213 51h1v1h-1zM23 52h1v1h-1zM42 52h1v1h-1zM205 52h1v1h-1zM212 52h1v1h-1zM43 54h1v1h-1zM20 55h1v1h-1zM43 55h1v1h-1zM19 56h1v1h-1zM42 56h1v1h-1zM36 57h3v1h-3zM41 57h1v1h-1zM18 59h1v1h-1zM32 59h1v1h-1zM19 61h1v1h-1zM19 62h1v1h-1zM24 62h3v1h-3zM19 63h1v1h-1zM24 64h1v1h-1zM24 65h1v1h-1zM24 67h1v1h-1zM19 68h1v1h-1zM20 69h1v1h-1zM23 69h1v1h-1zM46 71h1v1h-1zM1 79h4v1h-4zM0 80h1v1h-1zM4 80h1v1h-1zM3 81h2v1h-2zM0 82h3v1h-3zM67 84h2v1h-2zM67 85h3v1h-3zM67 86h2v1h-2zM130 92h2v1h-2zM133 92h2v1h-2zM114 93h1v1h-1zM130 93h1v1h-1zM135 93h1v1h-1zM131 94h5v1h-5zM132 97h1v1h-1zM132 98h2v1h-2zM132 99h1v1h-1zM131 100h3v1h-3zM159 100h4v1h-4zM131 101h3v1h-3zM158 101h1v1h-1zM162 101h1v1h-1zM131 102h3v1h-3zM158 102h1v1h-1zM161 102h1v1h-1zM158 103h3v1h-3zM53 106h3v1h-3zM52 107h4v1h-4zM52 108h1v1h-1zM54 108h2v1h-2zM51 109h4v1h-4zM47 110h7v1h-7zM46 111h1v1h-1zM52 111h2v1h-2zM45 112h1v1h-1zM53 112h1v1h-1zM44 113h1v1h-1zM53 113h1v1h-1zM43 114h1v1h-1zM131 114h1v1h-1zM129 115h1v1h-1zM132 115h1v1h-1zM42 116h1v1h-1zM129 116h1v1h-1zM132 116h1v1h-1zM53 117h1v1h-1zM130 117h2v1h-2zM41 118h1v1h-1zM53 118h1v1h-1zM52 120h1v1h-1zM86 121h3v1h-3zM40 122h1v1h-1zM51 122h1v1h-1zM90 122h1v1h-1zM84 123h1v1h-1zM91 123h1v1h-1zM39 124h1v1h-1zM85 124h1v1h-1zM91 124h1v1h-1zM48 125h1v1h-1zM87 125h1v1h-1zM89 125h2v1h-2zM46 126h1v1h-1zM39 127h1v1h-1zM44 127h1v1h-1zM35 128h1v1h-1zM38 128h5v1h-5zM34 129h1v1h-1zM39 129h1v1h-1zM39 130h1v1h-1zM39 131h1v1h-1zM115 131h2v1h-2zM39 132h1v1h-1zM117 132h1v1h-1zM34 133h1v1h-1zM113 133h1v1h-1zM36 134h2v1h-2zM112 134h1v1h-1zM91 135h2v1h-2zM89 136h1v1h-1zM94 136h1v1h-1zM109 136h1v1h-1zM118 136h1v1h-1zM96 137h2v1h-2zM88 138h1v1h-1zM101 138h2v1h-2zM125 138h1v1h-1zM87 139h1v1h-1zM104 139h1v1h-1zM106 139h1v1h-1zM126 139h1v1h-1zM86 140h1v1h-1zM84 141h2v1h-2zM83 142h1v1h-1zM126 142h1v1h-1zM82 143h1v1h-1zM119 143h1v1h-1zM125 143h1v1h-1zM225 143h4v1h-4zM118 144h1v1h-1zM223 144h1v1h-1zM79 145h1v1h-1zM222 145h1v1h-1zM78 146h1v1h-1zM231 146h1v1h-1zM77 147h1v1h-1zM116 148h1v1h-1zM222 148h1v1h-1zM230 148h1v1h-1zM116 149h1v1h-1zM223 149h1v1h-1zM229 149h1v1h-1zM116 150h1v1h-1zM228 150h1v1h-1zM57 151h2v1h-2zM73 151h1v1h-1zM222 151h1v1h-1zM228 151h1v1h-1zM55 152h7v1h-7zM68 152h1v1h-1zM119 152h1v1h-1zM54 153h2v1h-2zM72 153h1v1h-1zM54 154h2v1h-2zM122 154h1v1h-1zM221 154h1v1h-1zM54 155h2v1h-2zM71 155h1v1h-1zM220 155h1v1h-1zM228 155h1v1h-1zM55 156h5v1h-5zM228 156h1v1h-1zM60 157h1v1h-1zM70 157h1v1h-1zM139 157h1v1h-1zM62 158h1v1h-1zM140 158h1v1h-1zM123 159h1v1h-1zM218 159h1v1h-1zM141 160h1v1h-1zM218 160h1v1h-1zM72 161h1v1h-1zM179 161h4v1h-4zM218 161h1v1h-1zM141 162h1v1h-1zM176 162h1v1h-1zM218 162h1v1h-1zM118 163h1v1h-1zM185 163h1v1h-1zM228 163h1v1h-1zM140 164h1v1h-1zM111 165h1v1h-1zM139 165h1v1h-1zM185 165h1v1h-1zM219 165h1v1h-1zM227 165h1v1h-1zM220 166h1v1h-1zM226 166h1v1h-1zM51 167h1v1h-1zM56 167h2v1h-2zM173 167h2v1h-2zM183 167h1v1h-1zM222 167h1v1h-1zM224 167h1v1h-1zM49 168h1v1h-1zM57 168h1v1h-1zM170 168h1v1h-1zM173 168h1v1h-1zM176 168h1v1h-1zM181 168h1v1h-1zM48 169h1v1h-1zM57 169h1v1h-1zM170 169h1v1h-1zM81 170h1v1h-1zM110 170h1v1h-1zM170 170h2v1h-2zM47 171h1v1h-1zM56 171h1v1h-1zM55 172h1v1h-1zM165 172h1v1h-1zM167 172h1v1h-1zM47 173h1v1h-1zM165 173h1v1h-1zM168 173h1v1h-1zM49 174h3v1h-3zM96 174h1v1h-1zM106 174h1v1h-1zM165 174h1v1h-1zM167 174h1v1h-1zM96 175h1v1h-1zM106 176h1v1h-1zM106 178h1v1h-1zM106 179h1v1h-1zM96 180h1v1h-1zM105 181h1v1h-1zM104 182h1v1h-1zM100 183h3v1h-3zM37 184h4v1h-4zM35 185h1v1h-1zM40 185h1v1h-1zM33 186h1v1h-1zM39 186h1v1h-1zM28 187h1v1h-1zM38 187h1v1h-1zM26 188h1v1h-1zM37 188h1v1h-1zM24 189h1v1h-1zM36 190h1v1h-1zM23 191h1v1h-1zM34 193h1v1h-1zM23 194h1v1h-1zM32 194h1v1h-1zM25 195h1v1h-1zM29 195h2v1h-2zM179 211h3v1h-3zM178 212h1v1h-1zM182 212h1v1h-1zM178 215h1v1h-1zM182 215h1v1h-1zM51 216h1v1h-1zM179 216h2v1h-2zM50 217h1v1h-1zM52 217h1v1h-1zM52 218h1v1h-1zM50 219h1v1h-1zM52 219h1v1h-1zM151 219h2v1h-2zM50 220h2v1h-2zM154 220h1v1h-1zM155 221h1v1h-1zM147 222h1v1h-1zM93 223h1v1h-1zM97 223h1v1h-1zM147 223h1v1h-1zM92 224h1v1h-1zM147 224h1v1h-1zM214 224h2v1h-2zM217 224h1v1h-1zM91 225h1v1h-1zM147 225h1v1h-1zM213 225h1v1h-1zM218 225h1v1h-1zM211 226h1v1h-1zM217 226h1v1h-1zM100 227h1v1h-1zM149 227h1v1h-1zM154 227h1v1h-1zM210 227h1v1h-1zM217 227h1v1h-1zM100 228h1v1h-1zM216 228h1v1h-1zM209 229h1v1h-1zM216 229h1v1h-1zM67 230h1v1h-1zM71 230h1v1h-1zM91 230h1v1h-1zM99 230h1v1h-1zM209 230h1v1h-1zM216 230h1v1h-1zM66 231h1v1h-1zM72 231h1v1h-1zM92 231h1v1h-1zM98 231h1v1h-1zM94 232h3v1h-3zM210 232h1v1h-1zM215 232h1v1h-1zM235 232h1v1h-1zM65 233h1v1h-1zM73 233h1v1h-1zM212 233h2v1h-2zM234 233h1v1h-1zM234 234h1v1h-1zM66 235h1v1h-1zM72 235h1v1h-1zM235 235h1v1h-1z"/>
<path fill="#c2c8f3" d="M188 0h1v1h-1zM191 0h1v1h-1zM30 4h3v1h-3zM28 5h1v1h-1zM33 5h1v1h-1zM34 7h1v1h-1zM34 8h1v1h-1zM17 10h1v1h-1zM29 10h1v1h-1zM8 11h1v1h-1zM18 11h1v1h-1zM19 13h1v1h-1zM8 14h1v1h-1zM178 14h1v1h-1zM184 14h1v1h-1zM9 15h1v1h-1zM17 15h1v1h-1zM11 16h5v1h-5zM178 16h1v1h-1zM184 16h1v1h-1zM179 17h1v1h-1zM183 17h1v1h-1zM181 18h2v1h-2zM73 20h2v1h-2zM72 21h4v1h-4zM72 22h4v1h-4zM73 23h2v1h-2zM46 36h3v1h-3zM52 39h1v1h-1zM37 46h2v1h-2zM207 46h4v1h-4zM33 47h1v1h-1zM39 47h2v1h-2zM46 47h1v1h-1zM48 47h1v1h-1zM199 47h2v1h-2zM202 47h3v1h-3zM212 47h1v1h-1zM30 48h1v1h-1zM40 48h1v1h-1zM198 48h1v1h-1zM213 48h1v1h-1zM28 49h1v1h-1zM40 49h1v1h-1zM198 49h1v1h-1zM26 50h1v1h-1zM198 50h1v1h-1zM199 51h2v1h-2zM202 51h3v1h-3zM41 52h1v1h-1zM211 52h1v1h-1zM22 53h1v1h-1zM42 53h1v1h-1zM21 54h1v1h-1zM42 54h1v1h-1zM42 55h1v1h-1zM20 56h1v1h-1zM41 56h1v1h-1zM19 57h1v1h-1zM35 57h1v1h-1zM39 57h2v1h-2zM19 58h1v1h-1zM33 58h1v1h-1zM19 59h1v1h-1zM19 60h1v1h-1zM20 61h1v1h-1zM29 61h1v1h-1zM20 62h1v1h-1zM23 62h1v1h-1zM20 63h1v1h-1zM23 63h1v1h-1zM19 64h1v1h-1zM19 65h1v1h-1zM19 66h1v1h-1zM24 66h1v1h-1zM19 67h1v1h-1zM20 68h1v1h-1zM23 68h1v1h-1zM21 69h2v1h-2zM1 80h3v1h-3zM0 81h3v1h-3zM132 92h1v1h-1zM131 93h4v1h-4zM159 101h3v1h-3zM159 102h2v1h-2zM53 108h1v1h-1zM47 111h5v1h-5zM46 112h2v1h-2zM51 112h2v1h-2zM45 113h1v1h-1zM52 113h1v1h-1zM44 114h1v1h-1zM53 114h1v1h-1zM43 115h1v1h-1zM53 115h1v1h-1zM130 115h2v1h-2zM53 116h1v1h-1zM130 116h2v1h-2zM42 117h1v1h-1zM41 119h1v1h-1zM52 119h1v1h-1zM41 120h1v1h-1zM41 121h1v1h-1zM85 122h2v1h-2zM89 122h1v1h-1zM40 123h1v1h-1zM50 123h1v1h-1zM85 123h1v1h-1zM90 123h1v1h-1zM49 124h1v1h-1zM86 124h1v1h-1zM90 124h1v1h-1zM39 125h1v1h-1zM88 125h1v1h-1zM39 126h1v1h-1zM45 126h1v1h-1zM40 127h1v1h-1zM43 127h1v1h-1zM36 128h2v1h-2zM38 129h1v1h-1zM34 130h1v1h-1zM34 131h1v1h-1zM34 132h1v1h-1zM114 132h1v1h-1zM35 133h1v1h-1zM38 133h1v1h-1zM117 133h1v1h-1zM111 135h1v1h-1zM90 136h4v1h-4zM89 137h1v1h-1zM95 137h1v1h-1zM118 137h1v1h-1zM98 138h3v1h-3zM119 138h2v1h-2zM124 138h1v1h-1zM88 139h1v1h-1zM102 139h2v1h-2zM107 139h1v1h-1zM87 140h1v1h-1zM105 140h2v1h-2zM126 140h1v1h-1zM86 141h1v1h-1zM84 142h1v1h-1zM83 143h1v1h-1zM120 143h1v1h-1zM124 143h1v1h-1zM81 144h1v1h-1zM224 144h1v1h-1zM229 144h1v1h-1zM80 145h1v1h-1zM230 145h1v1h-1zM117 146h1v1h-1zM222 146h1v1h-1zM230 146h1v1h-1zM222 147h1v1h-1zM230 147h1v1h-1zM76 148h1v1h-1zM223 148h1v1h-1zM75 149h1v1h-1zM115 149h1v1h-1zM224 149h1v1h-1zM228 149h1v1h-1zM74 150h1v1h-1zM115 150h1v1h-1zM223 150h1v1h-1zM227 150h1v1h-1zM116 151h1v1h-1zM62 152h2v1h-2zM222 152h1v1h-1zM228 152h1v1h-1zM56 153h5v1h-5zM69 153h1v1h-1zM228 153h1v1h-1zM56 154h5v1h-5zM70 154h1v1h-1zM228 154h1v1h-1zM56 155h4v1h-4zM70 155h1v1h-1zM60 156h1v1h-1zM70 156h2v1h-2zM123 156h1v1h-1zM61 157h1v1h-1zM71 157h1v1h-1zM123 157h1v1h-1zM134 157h1v1h-1zM219 157h1v1h-1zM228 157h1v1h-1zM68 158h1v1h-1zM123 158h1v1h-1zM228 158h1v1h-1zM71 159h1v1h-1zM132 159h1v1h-1zM141 161h1v1h-1zM73 162h1v1h-1zM120 162h1v1h-1zM184 162h1v1h-1zM228 162h1v1h-1zM112 163h3v1h-3zM116 163h2v1h-2zM132 163h1v1h-1zM175 163h1v1h-1zM174 164h1v1h-1zM185 164h1v1h-1zM134 165h1v1h-1zM174 165h1v1h-1zM174 166h1v1h-1zM184 166h1v1h-1zM52 167h4v1h-4zM223 167h1v1h-1zM50 168h1v1h-1zM56 168h1v1h-1zM171 168h2v1h-2zM177 168h4v1h-4zM49 169h1v1h-1zM56 169h1v1h-1zM80 169h1v1h-1zM171 169h2v1h-2zM48 170h1v1h-1zM56 170h1v1h-1zM83 171h1v1h-1zM47 172h1v1h-1zM54 172h1v1h-1zM166 172h1v1h-1zM48 173h1v1h-1zM53 173h1v1h-1zM87 173h1v1h-1zM166 173h2v1h-2zM166 174h1v1h-1zM96 176h1v1h-1zM106 177h1v1h-1zM96 179h1v1h-1zM97 181h1v1h-1zM98 182h1v1h-1zM36 185h4v1h-4zM34 186h5v1h-5zM29 187h4v1h-4zM36 187h2v1h-2zM27 188h1v1h-1zM36 188h1v1h-1zM25 189h1v1h-1zM36 189h1v1h-1zM24 190h1v1h-1zM35 190h1v1h-1zM35 191h1v1h-1zM23 192h1v1h-1zM34 192h1v1h-1zM23 193h1v1h-1zM33 193h1v1h-1zM24 194h1v1h-1zM31 194h1v1h-1zM26 195h3v1h-3zM179 212h1v1h-1zM181 212h1v1h-1zM178 213h1v1h-1zM182 213h1v1h-1zM178 214h1v1h-1zM182 214h1v1h-1zM179 215h1v1h-1zM181 215h1v1h-1zM51 217h1v1h-1zM50 218h2v1h-2zM51 219h1v1h-1zM149 220h2v1h-2zM153 220h1v1h-1zM148 221h1v1h-1zM154 221h1v1h-1zM155 222h1v1h-1zM94 223h3v1h-3zM155 223h1v1h-1zM98 224h1v1h-1zM155 224h1v1h-1zM216 224h1v1h-1zM99 225h1v1h-1zM155 225h1v1h-1zM214 225h4v1h-4zM91 226h1v1h-1zM148 226h1v1h-1zM154 226h1v1h-1zM212 226h2v1h-2zM216 226h1v1h-1zM150 227h1v1h-1zM153 227h1v1h-1zM216 227h1v1h-1zM91 228h1v1h-1zM210 228h1v1h-1zM91 229h1v1h-1zM99 229h1v1h-1zM68 230h3v1h-3zM92 230h1v1h-1zM93 231h1v1h-1zM97 231h1v1h-1zM210 231h1v1h-1zM215 231h1v1h-1zM66 232h1v1h-1zM72 232h1v1h-1zM211 232h1v1h-1zM214 232h1v1h-1zM235 233h1v1h-1zM66 234h1v1h-1zM72 234h1v1h-1zM235 234h1v1h-1z"/>
<path fill="#c3c1f2" d="M189 0h2v1h-2zM28 6h1v1h-1zM28 9h1v1h-1zM33 9h1v1h-1zM10 10h2v1h-2zM15 10h2v1h-2zM30 10h3v1h-3zM9 11h1v1h-1zM17 11h1v1h-1zM8 12h1v1h-1zM18 12h1v1h-1zM8 13h1v1h-1zM18 13h1v1h-1zM179 13h5v1h-5zM18 14h1v1h-1zM10 15h1v1h-1zM16 15h1v1h-1zM178 15h1v1h-1zM184 15h1v1h-1zM179 16h1v1h-1zM183 16h1v1h-1zM180 17h3v1h-3zM44 37h1v1h-1zM50 37h1v1h-1zM51 38h1v1h-1zM42 39h1v1h-1zM42 44h1v1h-1zM52 44h1v1h-1zM44 46h1v1h-1zM50 46h1v1h-1zM34 47h5v1h-5zM47 47h1v1h-1zM201 47h1v1h-1zM205 47h1v1h-1zM31 48h1v1h-1zM39 48h1v1h-1zM199 48h2v1h-2zM202 48h2v1h-2zM29 49h1v1h-1zM199 49h1v1h-1zM213 49h1v1h-1zM27 50h1v1h-1zM40 50h1v1h-1zM199 50h2v1h-2zM203 50h1v1h-1zM213 50h1v1h-1zM25 51h1v1h-1zM40 51h1v1h-1zM201 51h1v1h-1zM212 51h1v1h-1zM24 52h1v1h-1zM40 52h1v1h-1zM206 52h1v1h-1zM23 53h1v1h-1zM40 53h2v1h-2zM22 54h1v1h-1zM40 54h2v1h-2zM21 55h1v1h-1zM39 55h3v1h-3zM36 56h5v1h-5zM20 57h1v1h-1zM34 57h1v1h-1zM20 58h1v1h-1zM20 59h1v1h-1zM20 60h1v1h-1zM30 60h1v1h-1zM21 61h3v1h-3zM21 62h2v1h-2zM21 63h2v1h-2zM20 64h4v1h-4zM20 65h1v1h-1zM23 65h1v1h-1zM20 66h1v1h-1zM23 66h1v1h-1zM20 67h1v1h-1zM22 67h2v1h-2zM21 68h2v1h-2zM48 112h3v1h-3zM46 113h1v1h-1zM51 113h1v1h-1zM45 114h1v1h-1zM52 114h1v1h-1zM44 115h1v1h-1zM52 115h1v1h-1zM43 116h1v1h-1zM52 116h1v1h-1zM52 117h1v1h-1zM42 118h1v1h-1zM52 118h1v1h-1zM51 121h1v1h-1zM41 122h1v1h-1zM50 122h1v1h-1zM87 122h2v1h-2zM41 123h1v1h-1zM86 123h4v1h-4zM40 124h1v1h-1zM87 124h3v1h-3zM40 125h1v1h-1zM47 125h1v1h-1zM40 126h1v1h-1zM43 126h2v1h-2zM41 127h2v1h-2zM35 129h3v1h-3zM35 130h1v1h-1zM38 130h1v1h-1zM35 131h1v1h-1zM38 131h1v1h-1zM35 132h1v1h-1zM37 132h2v1h-2zM115 132h2v1h-2zM36 133h2v1h-2zM114 133h3v1h-3zM113 134h1v1h-1zM117 134h1v1h-1zM117 135h1v1h-1zM110 136h1v1h-1zM90 137h5v1h-5zM109 137h1v1h-1zM89 138h2v1h-2zM95 138h3v1h-3zM108 138h1v1h-1zM118 138h1v1h-1zM121 138h3v1h-3zM89 139h1v1h-1zM99 139h3v1h-3zM125 139h1v1h-1zM88 140h1v1h-1zM103 140h2v1h-2zM87 141h1v1h-1zM105 141h1v1h-1zM126 141h1v1h-1zM85 142h2v1h-2zM125 142h1v1h-1zM84 143h1v1h-1zM118 143h1v1h-1zM121 143h3v1h-3zM82 144h1v1h-1zM225 144h4v1h-4zM117 145h1v1h-1zM223 145h1v1h-1zM229 145h1v1h-1zM79 146h1v1h-1zM223 146h1v1h-1zM229 146h1v1h-1zM116 147h1v1h-1zM223 147h1v1h-1zM229 147h1v1h-1zM224 148h1v1h-1zM228 148h2v1h-2zM225 149h3v1h-3zM114 150h1v1h-1zM224 150h3v1h-3zM114 151h2v1h-2zM223 151h1v1h-1zM227 151h1v1h-1zM64 152h1v1h-1zM66 152h2v1h-2zM73 152h1v1h-1zM118 152h1v1h-1zM61 153h1v1h-1zM120 153h1v1h-1zM222 153h1v1h-1zM72 154h1v1h-1zM60 155h1v1h-1zM122 155h1v1h-1zM221 155h1v1h-1zM220 156h1v1h-1zM69 157h1v1h-1zM135 157h1v1h-1zM137 157h2v1h-2zM63 158h1v1h-1zM67 158h1v1h-1zM71 158h1v1h-1zM133 158h1v1h-1zM139 158h1v1h-1zM219 158h1v1h-1zM140 159h1v1h-1zM228 159h1v1h-1zM122 160h1v1h-1zM132 160h1v1h-1zM228 160h1v1h-1zM121 161h1v1h-1zM132 161h1v1h-1zM228 161h1v1h-1zM132 162h1v1h-1zM177 162h1v1h-1zM183 162h1v1h-1zM74 163h1v1h-1zM115 163h1v1h-1zM140 163h1v1h-1zM184 163h1v1h-1zM75 164h1v1h-1zM111 164h1v1h-1zM133 164h1v1h-1zM139 164h1v1h-1zM219 164h1v1h-1zM227 164h1v1h-1zM135 165h1v1h-1zM137 165h2v1h-2zM220 165h1v1h-1zM226 165h1v1h-1zM221 166h1v1h-1zM225 166h1v1h-1zM78 167h1v1h-1zM175 167h1v1h-1zM182 167h1v1h-1zM51 168h5v1h-5zM79 168h1v1h-1zM110 168h1v1h-1zM50 169h1v1h-1zM55 169h1v1h-1zM110 169h1v1h-1zM49 170h1v1h-1zM55 170h1v1h-1zM48 171h1v1h-1zM55 171h1v1h-1zM109 171h1v1h-1zM48 172h1v1h-1zM53 172h1v1h-1zM85 172h1v1h-1zM49 173h4v1h-4zM107 173h1v1h-1zM97 174h1v1h-1zM105 174h1v1h-1zM105 175h1v1h-1zM96 177h1v1h-1zM96 178h1v1h-1zM105 180h1v1h-1zM104 181h1v1h-1zM99 182h1v1h-1zM103 182h1v1h-1zM33 187h3v1h-3zM28 188h2v1h-2zM34 188h2v1h-2zM26 189h1v1h-1zM35 189h1v1h-1zM25 190h1v1h-1zM34 190h1v1h-1zM24 191h1v1h-1zM34 191h1v1h-1zM24 192h1v1h-1zM33 192h1v1h-1zM24 193h1v1h-1zM32 193h1v1h-1zM25 194h2v1h-2zM29 194h2v1h-2zM180 212h1v1h-1zM179 213h3v1h-3zM179 214h3v1h-3zM180 215h1v1h-1zM151 220h2v1h-2zM149 221h1v1h-1zM153 221h1v1h-1zM148 222h1v1h-1zM154 222h1v1h-1zM148 223h1v1h-1zM93 224h1v1h-1zM97 224h1v1h-1zM148 224h1v1h-1zM92 225h1v1h-1zM98 225h1v1h-1zM148 225h1v1h-1zM154 225h1v1h-1zM99 226h1v1h-1zM149 226h1v1h-1zM153 226h1v1h-1zM214 226h2v1h-2zM91 227h1v1h-1zM99 227h1v1h-1zM151 227h2v1h-2zM211 227h5v1h-5zM99 228h1v1h-1zM215 228h1v1h-1zM210 229h1v1h-1zM215 229h1v1h-1zM98 230h1v1h-1zM210 230h1v1h-1zM215 230h1v1h-1zM67 231h2v1h-2zM70 231h2v1h-2zM94 231h3v1h-3zM211 231h1v1h-1zM214 231h1v1h-1zM212 232h2v1h-2zM66 233h1v1h-1zM72 233h1v1h-1zM67 235h2v1h-2zM70 235h2v1h-2z"/>
<path fill="#c5baf0" d="M29 5h4v1h-4zM33 6h1v1h-1zM28 7h1v1h-1zM33 7h1v1h-1zM28 8h1v1h-1zM33 8h1v1h-1zM29 9h1v1h-1zM32 9h1v1h-1zM12 10h3v1h-3zM10 11h1v1h-1zM16 11h1v1h-1zM9 12h1v1h-1zM17 12h1v1h-1zM9 13h1v1h-1zM17 13h1v1h-1zM9 14h2v1h-2zM17 14h1v1h-1zM179 14h5v1h-5zM11 15h5v1h-5zM179 15h5v1h-5zM180 16h3v1h-3zM43 38h1v1h-1zM42 40h1v1h-1zM52 40h1v1h-1zM42 43h1v1h-1zM52 43h1v1h-1zM43 45h1v1h-1zM51 45h1v1h-1zM206 47h1v1h-1zM211 47h1v1h-1zM32 48h2v1h-2zM38 48h1v1h-1zM201 48h1v1h-1zM204 48h1v1h-1zM212 48h1v1h-1zM30 49h1v1h-1zM39 49h1v1h-1zM200 49h5v1h-5zM28 50h1v1h-1zM39 50h1v1h-1zM201 50h2v1h-2zM204 50h1v1h-1zM26 51h1v1h-1zM205 51h1v1h-1zM25 52h1v1h-1zM207 52h4v1h-4zM39 53h1v1h-1zM39 54h1v1h-1zM22 55h1v1h-1zM37 55h2v1h-2zM21 56h1v1h-1zM35 56h1v1h-1zM21 57h1v1h-1zM33 57h1v1h-1zM21 58h1v1h-1zM32 58h1v1h-1zM21 59h1v1h-1zM31 59h1v1h-1zM21 60h2v1h-2zM24 61h2v1h-2zM28 61h1v1h-1zM21 65h2v1h-2zM21 66h2v1h-2zM21 67h1v1h-1zM47 113h4v1h-4zM51 114h1v1h-1zM43 117h1v1h-1zM42 119h1v1h-1zM51 120h1v1h-1zM49 123h1v1h-1zM41 124h1v1h-1zM48 124h1v1h-1zM41 125h2v1h-2zM45 125h2v1h-2zM41 126h2v1h-2zM36 130h2v1h-2zM36 131h2v1h-2zM36 132h1v1h-1zM114 134h3v1h-3zM112 135h1v1h-1zM116 135h1v1h-1zM117 136h1v1h-1zM91 138h4v1h-4zM90 139h2v1h-2zM94 139h5v1h-5zM119 139h2v1h-2zM124 139h1v1h-1zM89 140h2v1h-2zM99 140h4v1h-4zM107 140h1v1h-1zM119 140h1v1h-1zM125 140h1v1h-1zM88 141h2v1h-2zM102 141h3v1h-3zM106 141h1v1h-1zM119 141h1v1h-1zM125 141h1v1h-1zM87 142h2v1h-2zM105 142h1v1h-1zM118 142h3v1h-3zM124 142h1v1h-1zM85 143h1v1h-1zM83 144h1v1h-1zM81 145h1v1h-1zM224 145h5v1h-5zM224 146h5v1h-5zM78 147h1v1h-1zM224 147h5v1h-5zM115 148h1v1h-1zM225 148h3v1h-3zM114 149h1v1h-1zM113 151h1v1h-1zM224 151h3v1h-3zM65 152h1v1h-1zM116 152h2v1h-2zM223 152h1v1h-1zM227 152h1v1h-1zM62 153h1v1h-1zM68 153h1v1h-1zM227 153h1v1h-1zM61 154h1v1h-1zM69 154h1v1h-1zM121 154h1v1h-1zM222 154h1v1h-1zM227 154h1v1h-1zM61 155h1v1h-1zM72 155h1v1h-1zM227 155h1v1h-1zM61 156h1v1h-1zM69 156h1v1h-1zM227 156h1v1h-1zM62 157h1v1h-1zM136 157h1v1h-1zM227 157h1v1h-1zM64 158h3v1h-3zM134 158h1v1h-1zM133 159h1v1h-1zM219 159h1v1h-1zM72 160h1v1h-1zM140 160h1v1h-1zM140 161h1v1h-1zM119 162h1v1h-1zM140 162h1v1h-1zM178 162h2v1h-2zM181 162h2v1h-2zM219 162h1v1h-1zM133 163h1v1h-1zM176 163h1v1h-1zM219 163h1v1h-1zM227 163h1v1h-1zM134 164h1v1h-1zM175 164h1v1h-1zM184 164h1v1h-1zM76 165h1v1h-1zM136 165h1v1h-1zM175 165h1v1h-1zM184 165h1v1h-1zM77 166h1v1h-1zM110 166h1v1h-1zM175 166h1v1h-1zM183 166h1v1h-1zM222 166h3v1h-3zM110 167h1v1h-1zM176 167h1v1h-1zM181 167h1v1h-1zM51 169h4v1h-4zM50 170h5v1h-5zM82 170h1v1h-1zM49 171h6v1h-6zM49 172h4v1h-4zM108 172h1v1h-1zM88 173h1v1h-1zM96 173h3v1h-3zM106 173h1v1h-1zM97 175h1v1h-1zM105 176h1v1h-1zM105 177h1v1h-1zM105 178h1v1h-1zM105 179h1v1h-1zM97 180h1v1h-1zM98 181h1v1h-1zM100 182h3v1h-3zM30 188h4v1h-4zM27 189h3v1h-3zM32 189h3v1h-3zM26 190h1v1h-1zM33 190h1v1h-1zM25 191h2v1h-2zM32 191h2v1h-2zM25 192h2v1h-2zM32 192h1v1h-1zM25 193h3v1h-3zM29 193h3v1h-3zM27 194h2v1h-2zM150 221h3v1h-3zM149 222h1v1h-1zM153 222h1v1h-1zM149 223h1v1h-1zM154 223h1v1h-1zM94 224h3v1h-3zM149 224h1v1h-1zM154 224h1v1h-1zM93 225h1v1h-1zM97 225h1v1h-1zM149 225h1v1h-1zM153 225h1v1h-1zM92 226h1v1h-1zM98 226h1v1h-1zM150 226h3v1h-3zM92 227h1v1h-1zM98 227h1v1h-1zM92 228h1v1h-1zM98 228h1v1h-1zM211 228h4v1h-4zM92 229h1v1h-1zM98 229h1v1h-1zM211 229h4v1h-4zM93 230h2v1h-2zM96 230h2v1h-2zM211 230h4v1h-4zM69 231h1v1h-1zM212 231h2v1h-2zM67 232h5v1h-5zM67 233h5v1h-5zM67 234h5v1h-5zM69 235h1v1h-1z"/>
<path fill="#c7b2ed" d="M29 6h4v1h-4zM29 7h1v1h-1zM32 7h1v1h-1zM29 8h1v1h-1zM32 8h1v1h-1zM30 9h2v1h-2zM11 11h5v1h-5zM10 12h2v1h-2zM15 12h2v1h-2zM10 13h2v1h-2zM15 13h2v1h-2zM11 14h6v1h-6zM45 37h1v1h-1zM49 37h1v1h-1zM42 41h1v1h-1zM52 41h1v1h-1zM42 42h1v1h-1zM52 42h1v1h-1zM45 46h1v1h-1zM49 46h1v1h-1zM207 47h4v1h-4zM34 48h4v1h-4zM205 48h1v1h-1zM211 48h1v1h-1zM31 49h1v1h-1zM38 49h1v1h-1zM205 49h1v1h-1zM212 49h1v1h-1zM29 50h1v1h-1zM205 50h1v1h-1zM212 50h1v1h-1zM27 51h2v1h-2zM39 51h1v1h-1zM206 51h1v1h-1zM211 51h1v1h-1zM26 52h1v1h-1zM39 52h1v1h-1zM24 53h1v1h-1zM23 54h1v1h-1zM38 54h1v1h-1zM36 55h1v1h-1zM22 56h1v1h-1zM34 56h1v1h-1zM22 57h1v1h-1zM32 57h1v1h-1zM22 58h1v1h-1zM22 59h1v1h-1zM23 60h1v1h-1zM26 61h2v1h-2zM46 114h1v1h-1zM50 114h1v1h-1zM45 115h1v1h-1zM51 115h1v1h-1zM44 116h1v1h-1zM51 116h1v1h-1zM51 118h1v1h-1zM51 119h1v1h-1zM42 120h1v1h-1zM42 121h1v1h-1zM50 121h1v1h-1zM42 122h1v1h-1zM42 123h1v1h-1zM42 124h1v1h-1zM47 124h1v1h-1zM43 125h2v1h-2zM113 135h3v1h-3zM111 136h1v1h-1zM116 136h1v1h-1zM117 137h1v1h-1zM92 139h2v1h-2zM108 139h1v1h-1zM118 139h1v1h-1zM121 139h3v1h-3zM91 140h8v1h-8zM118 140h1v1h-1zM120 140h2v1h-2zM124 140h1v1h-1zM90 141h12v1h-12zM118 141h1v1h-1zM120 141h2v1h-2zM124 141h1v1h-1zM89 142h3v1h-3zM100 142h5v1h-5zM106 142h1v1h-1zM121 142h3v1h-3zM86 143h2v1h-2zM103 143h3v1h-3zM84 144h1v1h-1zM117 144h1v1h-1zM82 145h1v1h-1zM80 146h1v1h-1zM116 146h1v1h-1zM115 147h1v1h-1zM77 148h1v1h-1zM76 149h1v1h-1zM113 149h1v1h-1zM75 150h1v1h-1zM113 150h1v1h-1zM74 151h1v1h-1zM113 152h3v1h-3zM224 152h3v1h-3zM63 153h1v1h-1zM67 153h1v1h-1zM119 153h1v1h-1zM223 153h4v1h-4zM62 154h1v1h-1zM223 154h1v1h-1zM226 154h1v1h-1zM69 155h1v1h-1zM222 155h1v1h-1zM226 155h1v1h-1zM62 156h1v1h-1zM72 156h1v1h-1zM122 156h1v1h-1zM221 156h1v1h-1zM63 157h1v1h-1zM68 157h1v1h-1zM220 157h1v1h-1zM135 158h1v1h-1zM138 158h1v1h-1zM227 158h1v1h-1zM122 159h1v1h-1zM139 159h1v1h-1zM133 160h1v1h-1zM219 160h1v1h-1zM73 161h1v1h-1zM120 161h1v1h-1zM133 161h1v1h-1zM219 161h1v1h-1zM112 162h1v1h-1zM118 162h1v1h-1zM133 162h1v1h-1zM180 162h1v1h-1zM227 162h1v1h-1zM111 163h1v1h-1zM139 163h1v1h-1zM177 163h1v1h-1zM183 163h1v1h-1zM135 164h1v1h-1zM138 164h1v1h-1zM176 164h1v1h-1zM183 164h1v1h-1zM220 164h1v1h-1zM226 164h1v1h-1zM110 165h1v1h-1zM183 165h1v1h-1zM221 165h1v1h-1zM225 165h1v1h-1zM176 166h1v1h-1zM182 166h1v1h-1zM177 167h4v1h-4zM109 170h1v1h-1zM84 171h1v1h-1zM86 172h1v1h-1zM89 173h1v1h-1zM94 173h2v1h-2zM99 173h2v1h-2zM98 174h1v1h-1zM104 174h1v1h-1zM104 175h1v1h-1zM97 176h1v1h-1zM97 177h1v1h-1zM97 178h1v1h-1zM97 179h1v1h-1zM98 180h1v1h-1zM104 180h1v1h-1zM99 181h1v1h-1zM103 181h1v1h-1zM30 189h2v1h-2zM27 190h6v1h-6zM27 191h5v1h-5zM27 192h5v1h-5zM28 193h1v1h-1zM150 222h3v1h-3zM150 223h4v1h-4zM150 224h4v1h-4zM94 225h3v1h-3zM150 225h3v1h-3zM93 226h5v1h-5zM93 227h1v1h-1zM97 227h1v1h-1zM93 228h2v1h-2zM97 228h1v1h-1zM93 229h5v1h-5zM95 230h1v1h-1z"/>
<path fill="#caabe8" d="M30 7h2v1h-2zM30 8h2v1h-2zM12 12h3v1h-3zM12 13h3v1h-3zM46 37h3v1h-3zM44 38h1v1h-1zM50 38h1v1h-1zM43 39h1v1h-1zM51 39h1v1h-1zM43 44h1v1h-1zM51 44h1v1h-1zM44 45h1v1h-1zM50 45h1v1h-1zM46 46h3v1h-3zM206 48h2v1h-2zM210 48h1v1h-1zM32 49h2v1h-2zM36 49h2v1h-2zM206 49h1v1h-1zM211 49h1v1h-1zM30 50h2v1h-2zM38 50h1v1h-1zM206 50h1v1h-1zM211 50h1v1h-1zM29 51h1v1h-1zM38 51h1v1h-1zM207 51h4v1h-4zM27 52h2v1h-2zM38 52h1v1h-1zM25 53h2v1h-2zM38 53h1v1h-1zM24 54h1v1h-1zM37 54h1v1h-1zM23 55h1v1h-1zM35 55h1v1h-1zM23 56h1v1h-1zM33 56h1v1h-1zM31 58h1v1h-1zM23 59h1v1h-1zM30 59h1v1h-1zM24 60h1v1h-1zM29 60h1v1h-1zM47 114h3v1h-3zM50 115h1v1h-1zM51 117h1v1h-1zM43 118h1v1h-1zM50 120h1v1h-1zM49 122h1v1h-1zM48 123h1v1h-1zM43 124h2v1h-2zM46 124h1v1h-1zM112 136h1v1h-1zM115 136h1v1h-1zM110 137h1v1h-1zM109 138h1v1h-1zM117 138h1v1h-1zM122 140h2v1h-2zM107 141h1v1h-1zM122 141h2v1h-2zM92 142h8v1h-8zM88 143h3v1h-3zM95 143h8v1h-8zM106 143h1v1h-1zM117 143h1v1h-1zM85 144h1v1h-1zM99 144h8v1h-8zM101 145h5v1h-5zM116 145h1v1h-1zM102 146h3v1h-3zM79 147h1v1h-1zM114 148h1v1h-1zM112 150h1v1h-1zM112 151h1v1h-1zM112 152h1v1h-1zM64 153h3v1h-3zM73 153h1v1h-1zM118 153h1v1h-1zM63 154h1v1h-1zM68 154h1v1h-1zM120 154h1v1h-1zM224 154h2v1h-2zM62 155h1v1h-1zM68 155h1v1h-1zM121 155h1v1h-1zM223 155h3v1h-3zM63 156h1v1h-1zM68 156h1v1h-1zM222 156h1v1h-1zM226 156h1v1h-1zM64 157h4v1h-4zM72 157h1v1h-1zM122 157h1v1h-1zM221 157h1v1h-1zM226 157h1v1h-1zM122 158h1v1h-1zM136 158h2v1h-2zM220 158h1v1h-1zM72 159h1v1h-1zM134 159h1v1h-1zM138 159h1v1h-1zM220 159h1v1h-1zM227 159h1v1h-1zM121 160h1v1h-1zM139 160h1v1h-1zM227 160h1v1h-1zM139 161h1v1h-1zM227 161h1v1h-1zM74 162h1v1h-1zM113 162h2v1h-2zM117 162h1v1h-1zM139 162h1v1h-1zM134 163h1v1h-1zM138 163h1v1h-1zM178 163h5v1h-5zM220 163h1v1h-1zM226 163h1v1h-1zM136 164h2v1h-2zM177 164h1v1h-1zM182 164h1v1h-1zM221 164h1v1h-1zM225 164h1v1h-1zM176 165h2v1h-2zM182 165h1v1h-1zM222 165h3v1h-3zM177 166h2v1h-2zM180 166h2v1h-2zM81 169h1v1h-1zM109 169h1v1h-1zM108 171h1v1h-1zM99 172h2v1h-2zM107 172h1v1h-1zM90 173h4v1h-4zM101 173h5v1h-5zM99 174h2v1h-2zM103 174h1v1h-1zM98 175h1v1h-1zM104 176h1v1h-1zM104 177h1v1h-1zM104 178h1v1h-1zM98 179h1v1h-1zM104 179h1v1h-1zM103 180h1v1h-1zM100 181h3v1h-3zM94 227h3v1h-3zM95 228h2v1h-2z"/>
<path fill="#cca4e2" d="M43 40h1v1h-1zM51 40h1v1h-1zM43 43h1v1h-1zM51 43h1v1h-1zM208 48h2v1h-2zM34 49h2v1h-2zM207 49h4v1h-4zM32 50h1v1h-1zM37 50h1v1h-1zM207 50h4v1h-4zM30 51h2v1h-2zM37 51h1v1h-1zM29 52h2v1h-2zM37 52h1v1h-1zM27 53h3v1h-3zM37 53h1v1h-1zM25 54h1v1h-1zM36 54h1v1h-1zM24 55h1v1h-1zM34 55h1v1h-1zM31 56h2v1h-2zM23 57h1v1h-1zM31 57h1v1h-1zM23 58h1v1h-1zM24 59h1v1h-1zM25 60h1v1h-1zM28 60h1v1h-1zM46 115h1v1h-1zM49 115h1v1h-1zM45 116h1v1h-1zM50 116h1v1h-1zM44 117h1v1h-1zM43 119h1v1h-1zM50 119h1v1h-1zM49 121h1v1h-1zM43 122h1v1h-1zM43 123h1v1h-1zM47 123h1v1h-1zM45 124h1v1h-1zM113 136h2v1h-2zM111 137h1v1h-1zM116 137h1v1h-1zM109 139h1v1h-1zM117 139h1v1h-1zM108 140h1v1h-1zM117 140h1v1h-1zM117 141h1v1h-1zM107 142h1v1h-1zM117 142h1v1h-1zM91 143h4v1h-4zM107 143h1v1h-1zM86 144h1v1h-1zM97 144h2v1h-2zM83 145h1v1h-1zM99 145h2v1h-2zM106 145h1v1h-1zM81 146h1v1h-1zM101 146h1v1h-1zM105 146h1v1h-1zM115 146h1v1h-1zM103 147h1v1h-1zM114 147h1v1h-1zM113 148h1v1h-1zM112 149h1v1h-1zM74 152h1v1h-1zM111 153h3v1h-3zM117 153h1v1h-1zM64 154h4v1h-4zM63 155h2v1h-2zM67 155h1v1h-1zM64 156h4v1h-4zM223 156h3v1h-3zM222 157h1v1h-1zM225 157h1v1h-1zM72 158h1v1h-1zM221 158h1v1h-1zM226 158h1v1h-1zM121 159h1v1h-1zM135 159h3v1h-3zM226 159h1v1h-1zM134 160h5v1h-5zM220 160h1v1h-1zM119 161h1v1h-1zM134 161h2v1h-2zM138 161h1v1h-1zM220 161h1v1h-1zM226 161h1v1h-1zM111 162h1v1h-1zM115 162h2v1h-2zM134 162h5v1h-5zM220 162h1v1h-1zM226 162h1v1h-1zM75 163h1v1h-1zM135 163h3v1h-3zM221 163h1v1h-1zM225 163h1v1h-1zM76 164h1v1h-1zM110 164h1v1h-1zM178 164h4v1h-4zM222 164h3v1h-3zM178 165h4v1h-4zM179 166h1v1h-1zM79 167h1v1h-1zM109 167h1v1h-1zM80 168h1v1h-1zM109 168h1v1h-1zM87 172h1v1h-1zM98 172h1v1h-1zM101 172h1v1h-1zM106 172h1v1h-1zM101 174h2v1h-2zM99 175h2v1h-2zM102 175h2v1h-2zM98 176h1v1h-1zM103 176h1v1h-1zM98 177h1v1h-1zM98 178h1v1h-1zM103 178h1v1h-1zM99 179h1v1h-1zM103 179h1v1h-1zM99 180h4v1h-4z"/>
<path fill="#cf9ddb" d="M45 38h2v1h-2zM48 38h2v1h-2zM44 39h1v1h-1zM50 39h1v1h-1zM43 41h1v1h-1zM51 41h1v1h-1zM43 42h1v1h-1zM51 42h1v1h-1zM44 44h1v1h-1zM50 44h1v1h-1zM45 45h1v1h-1zM49 45h1v1h-1zM33 50h4v1h-4zM32 51h1v1h-1zM36 51h1v1h-1zM31 52h1v1h-1zM36 52h1v1h-1zM30 53h2v1h-2zM36 53h1v1h-1zM26 54h6v1h-6zM34 54h2v1h-2zM25 55h1v1h-1zM30 55h4v1h-4zM24 56h1v1h-1zM30 56h1v1h-1zM24 57h1v1h-1zM30 57h1v1h-1zM24 58h1v1h-1zM30 58h1v1h-1zM29 59h1v1h-1zM26 60h2v1h-2zM47 115h2v1h-2zM46 116h1v1h-1zM49 116h1v1h-1zM50 117h1v1h-1zM44 118h1v1h-1zM50 118h1v1h-1zM43 120h1v1h-1zM43 121h1v1h-1zM48 122h1v1h-1zM44 123h3v1h-3zM112 137h4v1h-4zM110 138h1v1h-1zM116 138h1v1h-1zM116 139h1v1h-1zM108 141h1v1h-1zM116 143h1v1h-1zM87 144h2v1h-2zM96 144h1v1h-1zM107 144h1v1h-1zM116 144h1v1h-1zM84 145h1v1h-1zM98 145h1v1h-1zM107 145h1v1h-1zM115 145h1v1h-1zM100 146h1v1h-1zM106 146h2v1h-2zM102 147h1v1h-1zM104 147h1v1h-1zM113 147h1v1h-1zM78 148h1v1h-1zM112 148h1v1h-1zM77 149h1v1h-1zM75 151h1v1h-1zM111 151h1v1h-1zM111 152h1v1h-1zM114 153h3v1h-3zM73 154h1v1h-1zM110 154h2v1h-2zM119 154h1v1h-1zM65 155h2v1h-2zM120 155h1v1h-1zM121 156h1v1h-1zM121 157h1v1h-1zM223 157h2v1h-2zM121 158h1v1h-1zM222 158h4v1h-4zM221 159h1v1h-1zM225 159h1v1h-1zM73 160h1v1h-1zM120 160h1v1h-1zM221 160h1v1h-1zM225 160h2v1h-2zM111 161h2v1h-2zM118 161h1v1h-1zM136 161h2v1h-2zM221 161h1v1h-1zM225 161h1v1h-1zM221 162h2v1h-2zM225 162h1v1h-1zM222 163h3v1h-3zM77 165h1v1h-1zM78 166h1v1h-1zM109 166h1v1h-1zM83 170h1v1h-1zM108 170h1v1h-1zM85 171h1v1h-1zM107 171h1v1h-1zM97 172h1v1h-1zM102 172h4v1h-4zM101 175h1v1h-1zM99 176h4v1h-4zM99 177h5v1h-5zM99 178h4v1h-4zM100 179h3v1h-3z"/>
<path fill="#d297d2" d="M47 38h1v1h-1zM45 39h1v1h-1zM49 39h1v1h-1zM44 40h1v1h-1zM50 40h1v1h-1zM44 43h1v1h-1zM50 43h1v1h-1zM45 44h1v1h-1zM49 44h1v1h-1zM46 45h3v1h-3zM33 51h3v1h-3zM32 52h4v1h-4zM32 53h4v1h-4zM32 54h2v1h-2zM26 55h4v1h-4zM25 56h1v1h-1zM29 56h1v1h-1zM25 58h1v1h-1zM29 58h1v1h-1zM25 59h4v1h-4zM47 116h2v1h-2zM45 117h1v1h-1zM49 117h1v1h-1zM49 118h1v1h-1zM44 119h1v1h-1zM49 119h1v1h-1zM44 120h1v1h-1zM49 120h1v1h-1zM44 121h1v1h-1zM48 121h1v1h-1zM44 122h4v1h-4zM111 138h1v1h-1zM115 138h1v1h-1zM110 139h1v1h-1zM109 140h1v1h-1zM116 140h1v1h-1zM109 141h1v1h-1zM116 141h1v1h-1zM108 142h1v1h-1zM116 142h1v1h-1zM108 143h1v1h-1zM89 144h2v1h-2zM94 144h2v1h-2zM108 144h1v1h-1zM115 144h1v1h-1zM85 145h1v1h-1zM108 145h1v1h-1zM82 146h1v1h-1zM108 146h1v1h-1zM114 146h1v1h-1zM80 147h1v1h-1zM101 147h1v1h-1zM105 147h1v1h-1zM111 147h2v1h-2zM103 148h2v1h-2zM111 148h1v1h-1zM111 149h1v1h-1zM76 150h1v1h-1zM111 150h1v1h-1zM110 153h1v1h-1zM112 154h1v1h-1zM118 154h1v1h-1zM73 155h1v1h-1zM110 155h2v1h-2zM73 156h1v1h-1zM120 156h1v1h-1zM120 159h1v1h-1zM222 159h3v1h-3zM119 160h1v1h-1zM222 160h3v1h-3zM74 161h1v1h-1zM113 161h2v1h-2zM117 161h1v1h-1zM222 161h3v1h-3zM223 162h2v1h-2zM110 163h1v1h-1zM109 165h1v1h-1zM108 168h1v1h-1zM82 169h1v1h-1zM108 169h1v1h-1zM107 170h1v1h-1zM106 171h1v1h-1zM88 172h1v1h-1zM96 172h1v1h-1z"/>
<path fill="#d391c9" d="M46 39h3v1h-3zM45 40h1v1h-1zM49 40h1v1h-1zM44 41h1v1h-1zM50 41h1v1h-1zM44 42h1v1h-1zM50 42h1v1h-1zM45 43h1v1h-1zM49 43h1v1h-1zM46 44h3v1h-3zM26 56h3v1h-3zM25 57h5v1h-5zM26 58h3v1h-3zM46 117h3v1h-3zM45 118h4v1h-4zM45 119h4v1h-4zM45 120h4v1h-4zM45 121h3v1h-3zM112 138h3v1h-3zM111 139h1v1h-1zM114 139h2v1h-2zM110 140h1v1h-1zM115 140h1v1h-1zM115 141h1v1h-1zM109 142h1v1h-1zM115 142h1v1h-1zM109 143h1v1h-1zM115 143h1v1h-1zM91 144h3v1h-3zM109 144h1v1h-1zM114 144h1v1h-1zM97 145h1v1h-1zM109 145h1v1h-1zM114 145h1v1h-1zM99 146h1v1h-1zM109 146h5v1h-5zM106 147h5v1h-5zM79 148h1v1h-1zM102 148h1v1h-1zM110 148h1v1h-1zM110 152h1v1h-1zM74 153h1v1h-1zM109 154h1v1h-1zM113 154h5v1h-5zM112 155h1v1h-1zM119 155h1v1h-1zM110 156h2v1h-2zM73 157h1v1h-1zM120 157h1v1h-1zM120 158h1v1h-1zM73 159h1v1h-1zM111 160h2v1h-2zM118 160h1v1h-1zM115 161h2v1h-2zM75 162h1v1h-1zM108 167h1v1h-1zM81 168h1v1h-1zM107 169h1v1h-1zM84 170h1v1h-1zM86 171h1v1h-1zM100 171h6v1h-6zM95 172h1v1h-1z"/>
<path fill="#d48cbe" d="M46 40h3v1h-3zM45 41h5v1h-5zM45 42h5v1h-5zM46 43h3v1h-3zM112 139h2v1h-2zM111 140h4v1h-4zM110 141h5v1h-5zM110 142h5v1h-5zM110 143h5v1h-5zM110 144h4v1h-4zM86 145h1v1h-1zM96 145h1v1h-1zM110 145h4v1h-4zM83 146h1v1h-1zM81 147h1v1h-1zM100 147h1v1h-1zM105 148h1v1h-1zM109 148h1v1h-1zM78 149h1v1h-1zM103 149h2v1h-2zM110 149h1v1h-1zM110 150h1v1h-1zM110 151h1v1h-1zM75 152h1v1h-1zM109 153h1v1h-1zM109 155h1v1h-1zM113 155h1v1h-1zM117 155h2v1h-2zM112 156h1v1h-1zM119 156h1v1h-1zM110 157h2v1h-2zM119 157h1v1h-1zM73 158h1v1h-1zM111 158h1v1h-1zM119 158h1v1h-1zM111 159h2v1h-2zM118 159h2v1h-2zM113 160h5v1h-5zM110 162h1v1h-1zM76 163h1v1h-1zM77 164h1v1h-1zM78 165h1v1h-1zM79 166h1v1h-1zM108 166h1v1h-1zM80 167h1v1h-1zM107 168h1v1h-1zM106 169h1v1h-1zM105 170h2v1h-2zM99 171h1v1h-1zM89 172h2v1h-2zM93 172h2v1h-2z"/>
<path fill="#d487b2" d="M87 145h1v1h-1zM84 146h1v1h-1zM98 146h1v1h-1zM106 148h3v1h-3zM105 149h1v1h-1zM109 149h1v1h-1zM77 150h1v1h-1zM76 151h1v1h-1zM109 152h1v1h-1zM108 153h1v1h-1zM74 154h1v1h-1zM114 155h3v1h-3zM113 156h6v1h-6zM112 157h2v1h-2zM117 157h2v1h-2zM110 158h1v1h-1zM112 158h2v1h-2zM117 158h2v1h-2zM113 159h5v1h-5zM74 160h1v1h-1zM110 161h1v1h-1zM109 164h1v1h-1zM107 167h1v1h-1zM106 168h1v1h-1zM83 169h1v1h-1zM105 169h1v1h-1zM102 170h3v1h-3zM87 171h1v1h-1zM98 171h1v1h-1zM91 172h2v1h-2z"/>
<path fill="#d383a6" d="M88 145h2v1h-2zM94 145h2v1h-2zM82 147h1v1h-1zM80 148h1v1h-1zM101 148h1v1h-1zM106 149h3v1h-3zM104 150h3v1h-3zM108 150h2v1h-2zM108 151h2v1h-2zM108 152h1v1h-1zM75 153h1v1h-1zM108 154h1v1h-1zM74 155h1v1h-1zM74 156h1v1h-1zM109 156h1v1h-1zM114 157h3v1h-3zM114 158h3v1h-3zM74 159h1v1h-1zM110 159h1v1h-1zM110 160h1v1h-1zM75 161h1v1h-1zM108 165h1v1h-1zM82 168h1v1h-1zM105 168h1v1h-1zM104 169h1v1h-1zM85 170h1v1h-1zM101 170h1v1h-1zM97 171h1v1h-1z"/>
<path fill="#d18099" d="M90 145h4v1h-4zM85 146h1v1h-1zM97 146h1v1h-1zM99 147h1v1h-1zM79 149h1v1h-1zM102 149h1v1h-1zM103 150h1v1h-1zM107 150h1v1h-1zM105 151h3v1h-3zM76 152h1v1h-1zM106 152h2v1h-2zM107 153h1v1h-1zM74 157h1v1h-1zM74 158h1v1h-1zM76 162h1v1h-1zM77 163h1v1h-1zM109 163h1v1h-1zM107 166h1v1h-1zM81 167h1v1h-1zM106 167h1v1h-1zM103 169h1v1h-1zM100 170h1v1h-1zM88 171h1v1h-1zM96 171h1v1h-1z"/>
<path fill="#ce7d8c" d="M86 146h1v1h-1zM96 146h1v1h-1zM83 147h1v1h-1zM81 148h1v1h-1zM100 148h1v1h-1zM78 150h1v1h-1zM77 151h1v1h-1zM104 151h1v1h-1zM75 154h1v1h-1zM107 154h1v1h-1zM108 155h1v1h-1zM109 157h1v1h-1zM75 160h1v1h-1zM109 162h1v1h-1zM78 164h1v1h-1zM108 164h1v1h-1zM79 165h1v1h-1zM80 166h1v1h-1zM104 168h1v1h-1zM84 169h1v1h-1zM102 169h1v1h-1zM86 170h1v1h-1zM99 170h1v1h-1zM89 171h1v1h-1zM95 171h1v1h-1z"/>
<path fill="#c97b7f" d="M87 146h1v1h-1zM84 147h1v1h-1zM98 147h1v1h-1zM80 149h1v1h-1zM101 149h1v1h-1zM105 152h1v1h-1zM76 153h1v1h-1zM106 153h1v1h-1zM75 155h1v1h-1zM109 158h1v1h-1zM109 161h1v1h-1zM107 165h1v1h-1zM106 166h1v1h-1zM105 167h1v1h-1zM83 168h1v1h-1zM103 168h1v1h-1zM101 169h1v1h-1zM90 171h5v1h-5z"/>
<path fill="#c37a73" d="M88 146h1v1h-1zM95 146h1v1h-1zM82 148h1v1h-1zM99 148h1v1h-1zM79 150h1v1h-1zM102 150h1v1h-1zM78 151h1v1h-1zM103 151h1v1h-1zM77 152h1v1h-1zM75 156h1v1h-1zM108 156h1v1h-1zM75 159h1v1h-1zM109 159h1v1h-1zM109 160h1v1h-1zM76 161h1v1h-1zM77 162h1v1h-1zM108 163h1v1h-1zM82 167h1v1h-1zM85 169h1v1h-1zM87 170h1v1h-1zM98 170h1v1h-1z"/>
<path fill="#bc7967" d="M89 146h6v1h-6zM85 147h1v1h-1zM97 147h1v1h-1zM81 149h1v1h-1zM104 152h1v1h-1zM105 153h1v1h-1zM76 154h1v1h-1zM106 154h1v1h-1zM107 155h1v1h-1zM75 157h1v1h-1zM75 158h1v1h-1zM78 163h1v1h-1zM79 164h1v1h-1zM80 165h1v1h-1zM81 166h1v1h-1zM105 166h1v1h-1zM104 167h1v1h-1zM84 168h1v1h-1zM102 168h1v1h-1zM100 169h1v1h-1zM88 170h1v1h-1zM97 170h1v1h-1z"/>
<path fill="#b3795b" d="M86 147h1v1h-1zM96 147h1v1h-1zM83 148h1v1h-1zM98 148h1v1h-1zM100 149h1v1h-1zM80 150h1v1h-1zM101 150h1v1h-1zM77 153h1v1h-1zM76 155h1v1h-1zM108 157h1v1h-1zM76 160h1v1h-1zM108 162h1v1h-1zM107 164h1v1h-1zM106 165h1v1h-1zM83 167h1v1h-1zM103 167h1v1h-1zM86 169h1v1h-1zM99 169h1v1h-1zM89 170h1v1h-1zM95 170h2v1h-2z"/>
<path fill="#a97951" d="M87 147h1v1h-1zM84 148h1v1h-1zM82 149h1v1h-1zM79 151h1v1h-1zM102 151h1v1h-1zM78 152h1v1h-1zM103 152h1v1h-1zM76 156h1v1h-1zM107 156h1v1h-1zM108 158h1v1h-1zM76 159h1v1h-1zM77 161h1v1h-1zM108 161h1v1h-1zM78 162h1v1h-1zM82 166h1v1h-1zM104 166h1v1h-1zM85 168h1v1h-1zM101 168h1v1h-1zM98 169h1v1h-1zM90 170h5v1h-5z"/>
<path fill="#9f7948" d="M88 147h2v1h-2zM94 147h2v1h-2zM85 148h1v1h-1zM97 148h1v1h-1zM99 149h1v1h-1zM81 150h1v1h-1zM104 153h1v1h-1zM77 154h1v1h-1zM105 154h1v1h-1zM106 155h1v1h-1zM76 157h1v1h-1zM76 158h1v1h-1zM108 159h1v1h-1zM108 160h1v1h-1zM79 163h1v1h-1zM107 163h1v1h-1zM80 164h1v1h-1zM106 164h1v1h-1zM81 165h1v1h-1zM105 165h1v1h-1zM102 167h1v1h-1zM100 168h1v1h-1zM87 169h1v1h-1zM97 169h1v1h-1z"/>
<path fill="#937a40" d="M90 147h4v1h-4zM86 148h1v1h-1zM83 149h1v1h-1zM100 150h1v1h-1zM80 151h1v1h-1zM101 151h1v1h-1zM79 152h1v1h-1zM78 153h1v1h-1zM77 155h1v1h-1zM107 157h1v1h-1zM77 160h1v1h-1zM107 162h1v1h-1zM83 166h1v1h-1zM103 166h1v1h-1zM84 167h1v1h-1zM86 168h1v1h-1zM99 168h1v1h-1zM88 169h1v1h-1zM96 169h1v1h-1z"/>
<path fill="#877a3a" d="M87 148h1v1h-1zM96 148h1v1h-1zM84 149h1v1h-1zM98 149h1v1h-1zM82 150h1v1h-1zM102 152h1v1h-1zM103 153h1v1h-1zM78 154h1v1h-1zM104 154h1v1h-1zM105 155h1v1h-1zM77 156h1v1h-1zM106 156h1v1h-1zM107 158h1v1h-1zM77 159h1v1h-1zM78 161h1v1h-1zM107 161h1v1h-1zM79 162h1v1h-1zM80 163h1v1h-1zM106 163h1v1h-1zM81 164h1v1h-1zM82 165h1v1h-1zM104 165h1v1h-1zM85 167h1v1h-1zM101 167h1v1h-1zM98 168h1v1h-1zM89 169h1v1h-1zM94 169h2v1h-2z"/>
<path fill="#7b7a35" d="M88 148h1v1h-1zM95 148h1v1h-1zM85 149h1v1h-1zM97 149h1v1h-1zM83 150h1v1h-1zM99 150h1v1h-1zM81 151h1v1h-1zM100 151h1v1h-1zM80 152h1v1h-1zM79 153h1v1h-1zM77 157h1v1h-1zM77 158h1v1h-1zM107 159h1v1h-1zM107 160h1v1h-1zM105 164h1v1h-1zM84 166h1v1h-1zM102 166h1v1h-1zM100 167h1v1h-1zM87 168h1v1h-1zM97 168h1v1h-1zM90 169h4v1h-4z"/>
<path fill="#6f7b31" d="M89 148h6v1h-6zM86 149h1v1h-1zM96 149h1v1h-1zM98 150h1v1h-1zM82 151h1v1h-1zM101 152h1v1h-1zM102 153h1v1h-1zM103 154h1v1h-1zM78 155h1v1h-1zM105 156h1v1h-1zM106 157h1v1h-1zM78 160h1v1h-1zM106 162h1v1h-1zM104 164h1v1h-1zM83 165h1v1h-1zM103 165h1v1h-1zM101 166h1v1h-1zM86 167h1v1h-1zM99 167h1v1h-1zM88 168h1v1h-1zM96 168h1v1h-1z"/>
<path fill="#637a2f" d="M87 149h1v1h-1zM84 150h1v1h-1zM99 151h1v1h-1zM81 152h1v1h-1zM80 153h1v1h-1zM79 154h1v1h-1zM104 155h1v1h-1zM78 156h1v1h-1zM106 158h1v1h-1zM78 159h1v1h-1zM106 159h1v1h-1zM106 160h1v1h-1zM79 161h1v1h-1zM106 161h1v1h-1zM80 162h1v1h-1zM81 163h1v1h-1zM105 163h1v1h-1zM82 164h1v1h-1zM102 165h1v1h-1zM85 166h1v1h-1zM100 166h1v1h-1zM87 167h1v1h-1zM98 167h1v1h-1zM89 168h2v1h-2zM94 168h2v1h-2z"/>
<path fill="#577a2f" d="M88 149h2v1h-2zM94 149h2v1h-2zM85 150h1v1h-1zM97 150h1v1h-1zM83 151h1v1h-1zM82 152h1v1h-1zM100 152h1v1h-1zM101 153h1v1h-1zM102 154h1v1h-1zM79 155h1v1h-1zM103 155h1v1h-1zM104 156h1v1h-1zM78 157h1v1h-1zM105 157h1v1h-1zM78 158h1v1h-1zM79 160h1v1h-1zM105 162h1v1h-1zM104 163h1v1h-1zM103 164h1v1h-1zM84 165h1v1h-1zM101 165h1v1h-1zM99 166h1v1h-1zM88 167h1v1h-1zM97 167h1v1h-1zM91 168h3v1h-3z"/>
<path fill="#4c792f" d="M90 149h4v1h-4zM86 150h1v1h-1zM96 150h1v1h-1zM84 151h1v1h-1zM98 151h1v1h-1zM99 152h1v1h-1zM81 153h1v1h-1zM80 154h1v1h-1zM79 156h1v1h-1zM105 158h1v1h-1zM105 159h1v1h-1zM105 160h1v1h-1zM80 161h1v1h-1zM105 161h1v1h-1zM81 162h1v1h-1zM82 163h1v1h-1zM83 164h1v1h-1zM102 164h1v1h-1zM85 165h1v1h-1zM100 165h1v1h-1zM86 166h1v1h-1zM98 166h1v1h-1zM89 167h1v1h-1zM95 167h2v1h-2z"/>
<path fill="#417731" d="M87 150h2v1h-2zM95 150h1v1h-1zM85 151h1v1h-1zM97 151h1v1h-1zM83 152h1v1h-1zM82 153h1v1h-1zM100 153h1v1h-1zM81 154h1v1h-1zM101 154h1v1h-1zM80 155h1v1h-1zM102 155h1v1h-1zM103 156h1v1h-1zM79 157h1v1h-1zM104 157h1v1h-1zM79 159h1v1h-1zM104 161h1v1h-1zM104 162h1v1h-1zM103 163h1v1h-1zM84 164h1v1h-1zM101 164h1v1h-1zM99 165h1v1h-1zM87 166h1v1h-1zM97 166h1v1h-1zM90 167h5v1h-5z"/>
<path fill="#387434" d="M89 150h6v1h-6zM86 151h1v1h-1zM96 151h1v1h-1zM84 152h1v1h-1zM98 152h1v1h-1zM99 153h1v1h-1zM100 154h1v1h-1zM80 156h1v1h-1zM103 157h1v1h-1zM79 158h1v1h-1zM104 158h1v1h-1zM104 159h1v1h-1zM80 160h1v1h-1zM104 160h1v1h-1zM81 161h1v1h-1zM82 162h1v1h-1zM103 162h1v1h-1zM83 163h1v1h-1zM102 163h1v1h-1zM100 164h1v1h-1zM86 165h1v1h-1zM98 165h1v1h-1zM88 166h2v1h-2zM95 166h2v1h-2z"/>
<path fill="#2f7137" d="M87 151h1v1h-1zM95 151h1v1h-1zM85 152h1v1h-1zM97 152h1v1h-1zM83 153h1v1h-1zM98 153h1v1h-1zM82 154h1v1h-1zM81 155h1v1h-1zM101 155h1v1h-1zM102 156h1v1h-1zM80 157h1v1h-1zM103 158h1v1h-1zM80 159h1v1h-1zM103 159h1v1h-1zM103 160h1v1h-1zM103 161h1v1h-1zM102 162h1v1h-1zM100 163h2v1h-2zM85 164h1v1h-1zM99 164h1v1h-1zM87 165h1v1h-1zM96 165h2v1h-2zM90 166h5v1h-5z"/>
<path fill="#286d3b" d="M88 151h3v1h-3zM92 151h3v1h-3zM86 152h1v1h-1zM96 152h1v1h-1zM84 153h1v1h-1zM99 154h1v1h-1zM100 155h1v1h-1zM81 156h1v1h-1zM101 156h1v1h-1zM102 157h1v1h-1zM80 158h1v1h-1zM102 158h1v1h-1zM102 159h1v1h-1zM81 160h1v1h-1zM102 160h1v1h-1zM82 161h1v1h-1zM102 161h1v1h-1zM83 162h1v1h-1zM101 162h1v1h-1zM84 163h1v1h-1zM99 163h1v1h-1zM86 164h1v1h-1zM97 164h2v1h-2zM88 165h1v1h-1zM94 165h2v1h-2z"/>
<path fill="#22693f" d="M91 151h1v1h-1zM87 152h1v1h-1zM95 152h1v1h-1zM85 153h1v1h-1zM97 153h1v1h-1zM83 154h1v1h-1zM98 154h1v1h-1zM82 155h1v1h-1zM101 157h1v1h-1zM81 159h1v1h-1zM101 160h1v1h-1zM101 161h1v1h-1zM99 162h2v1h-2zM85 163h1v1h-1zM98 163h1v1h-1zM87 164h1v1h-1zM96 164h1v1h-1zM89 165h5v1h-5z"/>
<path fill="#1d6443" d="M88 152h2v1h-2zM93 152h2v1h-2zM86 153h1v1h-1zM96 153h1v1h-1zM84 154h1v1h-1zM83 155h1v1h-1zM99 155h1v1h-1zM82 156h1v1h-1zM100 156h1v1h-1zM81 157h1v1h-1zM81 158h1v1h-1zM101 158h1v1h-1zM101 159h1v1h-1zM82 160h1v1h-1zM83 161h1v1h-1zM100 161h1v1h-1zM84 162h1v1h-1zM98 162h1v1h-1zM86 163h1v1h-1zM97 163h1v1h-1zM88 164h1v1h-1zM94 164h2v1h-2z"/>
<path fill="#195e47" d="M90 152h3v1h-3zM87 153h1v1h-1zM95 153h1v1h-1zM85 154h1v1h-1zM97 154h1v1h-1zM98 155h1v1h-1zM99 156h1v1h-1zM100 157h1v1h-1zM100 158h1v1h-1zM82 159h1v1h-1zM100 159h1v1h-1zM100 160h1v1h-1zM99 161h1v1h-1zM85 162h1v1h-1zM97 162h1v1h-1zM87 163h1v1h-1zM95 163h2v1h-2zM89 164h5v1h-5z"/>
<path fill="#17584a" d="M88 153h1v1h-1zM93 153h2v1h-2zM86 154h1v1h-1zM96 154h1v1h-1zM84 155h1v1h-1zM97 155h1v1h-1zM83 156h1v1h-1zM82 157h1v1h-1zM99 157h1v1h-1zM82 158h1v1h-1zM83 160h1v1h-1zM99 160h1v1h-1zM84 161h1v1h-1zM98 161h1v1h-1zM96 162h1v1h-1zM88 163h1v1h-1zM94 163h1v1h-1z"/>
<path fill="#15524c" d="M89 153h4v1h-4zM95 154h1v1h-1zM85 155h1v1h-1zM98 156h1v1h-1zM83 157h1v1h-1zM99 158h1v1h-1zM83 159h1v1h-1zM99 159h1v1h-1zM98 160h1v1h-1zM85 161h1v1h-1zM97 161h1v1h-1zM86 162h1v1h-1zM95 162h1v1h-1zM89 163h1v1h-1zM92 163h2v1h-2z"/>
<path fill="#154b4e" d="M87 154h2v1h-2zM94 154h1v1h-1zM96 155h1v1h-1zM84 156h1v1h-1zM97 156h1v1h-1zM98 157h1v1h-1zM83 158h1v1h-1zM98 159h1v1h-1zM84 160h1v1h-1zM97 160h1v1h-1zM96 161h1v1h-1zM87 162h1v1h-1zM94 162h1v1h-1zM90 163h2v1h-2z"/>
<path fill="#15444f" d="M89 154h1v1h-1zM92 154h2v1h-2zM86 155h1v1h-1zM95 155h1v1h-1zM85 156h1v1h-1zM96 156h1v1h-1zM84 157h1v1h-1zM97 157h1v1h-1zM98 158h1v1h-1zM84 159h1v1h-1zM97 159h1v1h-1zM85 160h1v1h-1zM86 161h1v1h-1zM95 161h1v1h-1zM88 162h2v1h-2zM93 162h1v1h-1z"/>
<path fill="#163d4e" d="M90 154h2v1h-2zM87 155h1v1h-1zM94 155h1v1h-1zM86 156h1v1h-1zM85 157h1v1h-1zM84 158h1v1h-1zM97 158h1v1h-1zM85 159h1v1h-1zM86 160h1v1h-1zM96 160h1v1h-1zM87 161h1v1h-1zM94 161h1v1h-1zM90 162h3v1h-3z"/>
<path fill="#17364c" d="M88 155h2v1h-2zM92 155h2v1h-2zM87 156h1v1h-1zM95 156h1v1h-1zM96 157h1v1h-1zM85 158h1v1h-1zM96 158h1v1h-1zM96 159h1v1h-1zM95 160h1v1h-1zM88 161h1v1h-1zM93 161h1v1h-1z"/>
<path fill="#182f49" d="M90 155h2v1h-2zM88 156h1v1h-1zM94 156h1v1h-1zM86 157h1v1h-1zM95 157h1v1h-1zM86 158h1v1h-1zM86 159h1v1h-1zM95 159h1v1h-1zM87 160h1v1h-1zM94 160h1v1h-1zM89 161h4v1h-4z"/>
<path fill="#192845" d="M89 156h1v1h-1zM92 156h2v1h-2zM87 157h1v1h-1zM94 157h1v1h-1zM87 158h1v1h-1zM95 158h1v1h-1zM87 159h1v1h-1zM94 159h1v1h-1zM88 160h2v1h-2zM92 160h2v1h-2z"/>
<path fill="#1a2240" d="M90 156h2v1h-2zM88 157h2v1h-2zM92 157h2v1h-2zM88 158h1v1h-1zM93 158h2v1h-2zM88 159h2v1h-2zM93 159h1v1h-1zM90 160h2v1h-2z"/>
<path fill="#1b1c3a" d="M90 157h2v1h-2zM89 158h4v1h-4zM90 159h3v1h-3z"/>
</g>
<circle cx="721.7" cy="579.1" r="259.8" fill="none" stroke="#000" stroke-width="1.6"/>
<line x1="578.2" x2="865.2" y1="1027.7" y2="1027.7" stroke="#000" stroke-width="4.2"/>
<text class="t" x="722" y="1072" text-anchor="middle">1 Mpc</text>
<rect x="210" y="1020" width="74" height="71" fill="#fff" stroke="#000" stroke-width="2"/>
<ellipse cx="247.3" cy="1055.2" rx="26" ry="24" transform="rotate(-15 247.3 1055.2)" fill="#1f77b4"/>
<rect x="215.9" y="74.2" width="138.4" height="75.1" fill="#fff" fill-opacity="0.5" stroke="#808080" stroke-width="2"/>
<text class="b" x="223.2" y="96">M500 = 5.7</text>
<text class="b" x="223.2" y="118">z = 0.888</text>
<text class="b" x="223.2" y="140.2">rms = 0.16</text>
<g fill="#000" shape-rendering="crispEdges"><rect x="221" y="1099" width="2" height="15"/><rect x="254" y="1099" width="2" height="7"/><rect x="288" y="1099" width="2" height="7"/><rect x="321" y="1099" width="2" height="7"/><rect x="355" y="1099" width="2" height="7"/><rect x="388" y="1099" width="2" height="15"/><rect x="421" y="1099" width="2" height="7"/><rect x="455" y="1099" width="2" height="7"/><rect x="488" y="1099" width="2" height="7"/><rect x="522" y="1099" width="2" height="7"/><rect x="555" y="1099" width="2" height="15"/><rect x="588" y="1099" width="2" height="7"/><rect x="622" y="1099" width="2" height="7"/><rect x="655" y="1099" width="2" height="7"/><rect x="689" y="1099" width="2" height="7"/><rect x="722" y="1099" width="2" height="15"/><rect x="755" y="1099" width="2" height="7"/><rect x="789" y="1099" width="2" height="7"/><rect x="822" y="1099" width="2" height="7"/><rect x="856" y="1099" width="2" height="7"/><rect x="889" y="1099" width="2" height="15"/><rect x="922" y="1099" width="2" height="7"/><rect x="956" y="1099" width="2" height="7"/><rect x="989" y="1099" width="2" height="7"/><rect x="1023" y="1099" width="2" height="7"/><rect x="1056" y="1099" width="2" height="15"/><rect x="1089" y="1099" width="2" height="7"/><rect x="1123" y="1099" width="2" height="7"/><rect x="1156" y="1099" width="2" height="7"/><rect x="1190" y="1099" width="2" height="7"/><rect x="1223" y="1099" width="2" height="15"/><rect x="220" y="45" width="2" height="15"/><rect x="253" y="53" width="2" height="7"/><rect x="287" y="53" width="2" height="7"/><rect x="320" y="53" width="2" height="7"/><rect x="353" y="53" width="2" height="7"/><rect x="387" y="45" width="2" height="15"/><rect x="420" y="53" width="2" height="7"/><rect x="453" y="53" width="2" height="7"/><rect x="487" y="53" width="2" height="7"/><rect x="520" y="53" width="2" height="7"/><rect x="553" y="45" width="2" height="15"/><rect x="587" y="53" width="2" height="7"/><rect x="620" y="53" width="2" height="7"/><rect x="654" y="53" width="2" height="7"/><rect x="687" y="53" width="2" height="7"/><rect x="720" y="45" width="2" height="15"/><rect x="754" y="53" width="2" height="7"/><rect x="787" y="53" width="2" height="7"/><rect x="820" y="53" width="2" height="7"/><rect x="854" y="53" width="2" height="7"/><rect x="887" y="45" width="2" height="15"/><rect x="920" y="53" width="2" height="7"/><rect x="954" y="53" width="2" height="7"/><rect x="987" y="53" width="2" height="7"/><rect x="1020" y="53" width="2" height="7"/><rect x="1054" y="45" width="2" height="15"/><rect x="1087" y="53" width="2" height="7"/><rect x="1120" y="53" width="2" height="7"/><rect x="1154" y="53" width="2" height="7"/><rect x="1187" y="53" width="2" height="7"/><rect x="1220" y="45" width="2" height="15"/><rect x="187" y="74" width="15" height="2"/><rect x="195" y="128" width="7" height="2"/><rect x="195" y="181" width="7" height="2"/><rect x="195" y="234" width="7" height="2"/><rect x="195" y="288" width="7" height="2"/><rect x="187" y="341" width="15" height="2"/><rect x="195" y="395" width="7" height="2"/><rect x="195" y="448" width="7" height="2"/><rect x="195" y="501" width="7" height="2"/><rect x="195" y="555" width="7" height="2"/><rect x="187" y="608" width="15" height="2"/><rect x="195" y="662" width="7" height="2"/><rect x="195" y="715" width="7" height="2"/><rect x="195" y="768" width="7" height="2"/><rect x="195" y="822" width="7" height="2"/><rect x="187" y="875" width="15" height="2"/><rect x="195" y="929" width="7" height="2"/><rect x="195" y="982" width="7" height="2"/><rect x="195" y="1035" width="7" height="2"/><rect x="195" y="1089" width="7" height="2"/><rect x="1241" y="72" width="15" height="2"/><rect x="1241" y="126" width="7" height="2"/><rect x="1241" y="179" width="7" height="2"/><rect x="1241" y="233" width="7" height="2"/><rect x="1241" y="286" width="7" height="2"/><rect x="1241" y="339" width="15" height="2"/><rect x="1241" y="393" width="7" height="2"/><rect x="1241" y="446" width="7" height="2"/><rect x="1241" y="500" width="7" height="2"/><rect x="1241" y="553" width="7" height="2"/><rect x="1241" y="606" width="15" height="2"/><rect x="1241" y="660" width="7" height="2"/><rect x="1241" y="713" width="7" height="2"/><rect x="1241" y="767" width="7" height="2"/><rect x="1241" y="820" width="7" height="2"/><rect x="1241" y="873" width="15" height="2"/><rect x="1241" y="927" width="7" height="2"/><rect x="1241" y="980" width="7" height="2"/><rect x="1241" y="1034" width="7" height="2"/><rect x="1241" y="1087" width="7" height="2"/></g>
<rect x="202" y="60" width="1039" height="1039" fill="none" stroke="#000" stroke-width="2"/>
<text class="t" x="216.9" y="47.9">PSZ2G160.83+81.66 TAPER=100kpc SUBTRACT</text>
<text class="k" x="221.3" y="1137.6" text-anchor="middle">12h27m12s</text>
<text class="k" x="389.0" y="1137.6" text-anchor="middle">06s</text>
<text class="k" x="556.0" y="1137.6" text-anchor="middle">00s</text>
<text class="k" x="723.0" y="1137.6" text-anchor="middle">26m54s</text>
<text class="k" x="890.0" y="1137.6" text-anchor="middle">48s</text>
<text class="k" x="1057.0" y="1137.6" text-anchor="middle">42s</text>
<text class="k" x="1224.0" y="1137.6" text-anchor="middle">36s</text>
<text class="k" x="187.2" y="88.4" text-anchor="end">38'</text>
<text class="k" x="187.2" y="355.4" text-anchor="end">36'</text>
<text class="k" x="187.2" y="622.3" text-anchor="end">34'</text>
<text class="k" x="187.2" y="889.3" text-anchor="end">+33°32'</text>
<text class="a" x="721.5" y="1178.8" text-anchor="middle">RA (J2000)</text>
<text class="a" transform="translate(40.7 581.5) rotate(-90)" text-anchor="middle">Dec (J2000)</text>
</svg></body></html>
